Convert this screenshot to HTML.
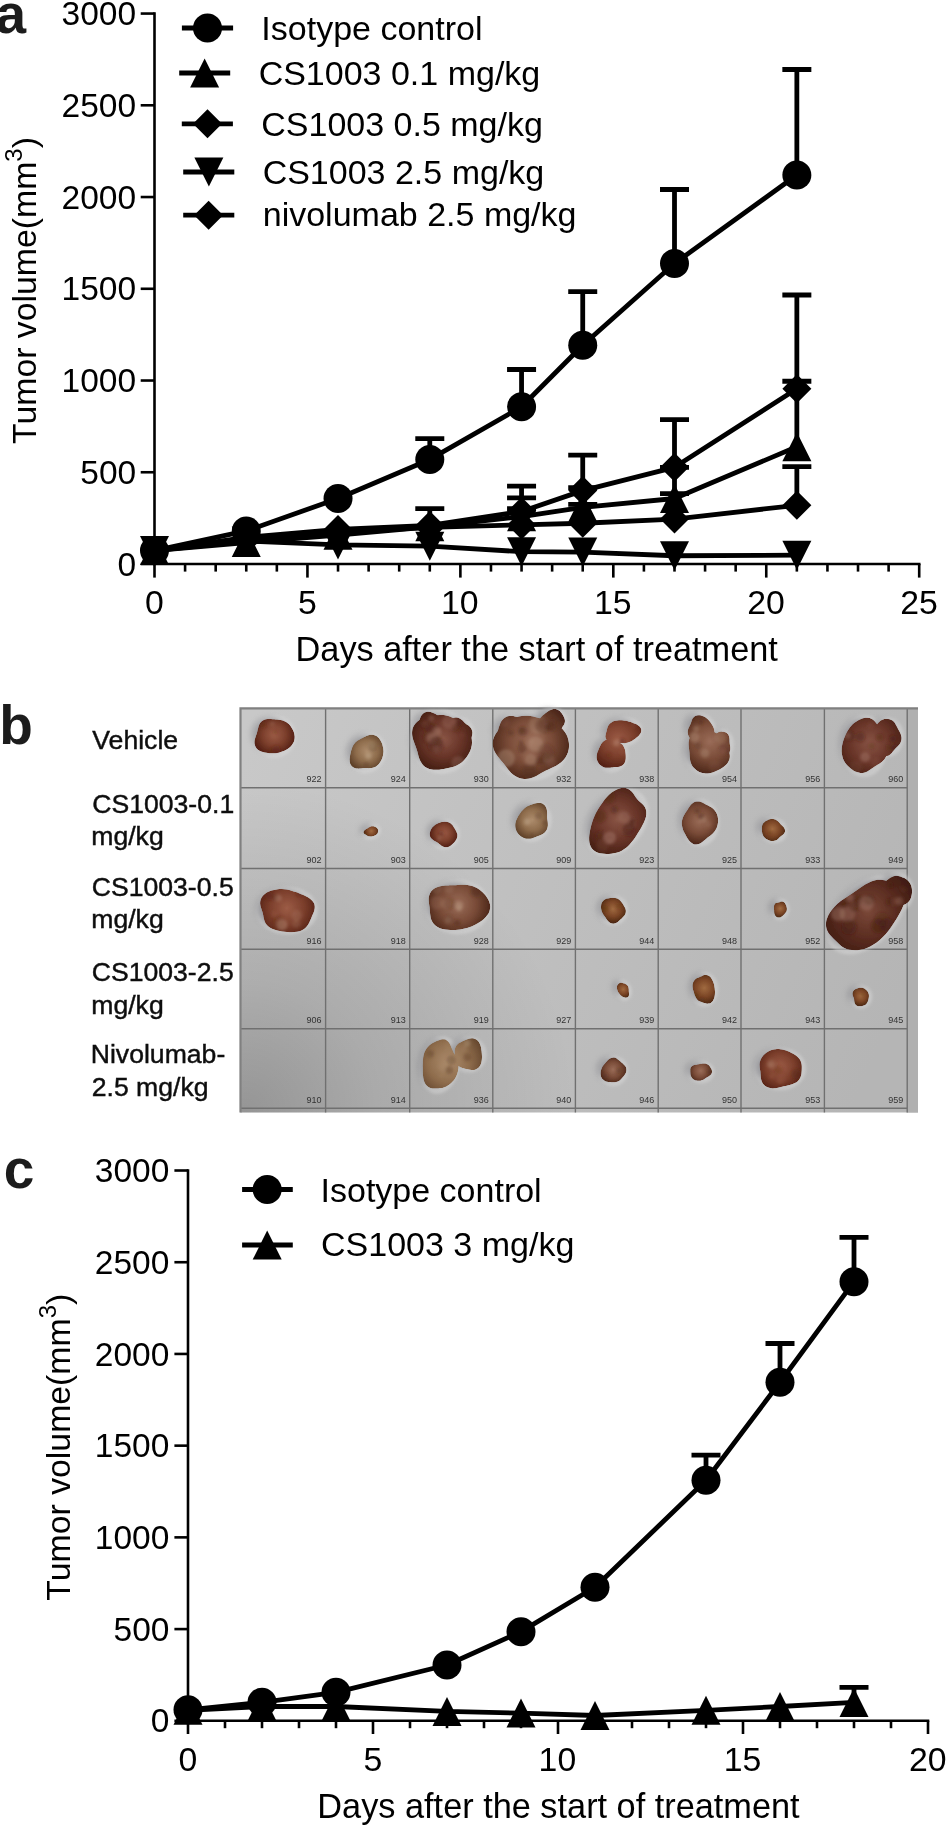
<!DOCTYPE html>
<html><head><meta charset="utf-8"><style>
html,body{margin:0;padding:0;background:#fff;}
svg{display:block;}
text{font-family:"Liberation Sans",sans-serif;}
</style></head><body>
<svg width="946" height="1825" viewBox="0 0 946 1825" style="will-change:transform">
<rect width="946" height="1825" fill="#fff"/>
<defs>
<filter id="bl1" x="-20%" y="-20%" width="140%" height="140%"><feGaussianBlur stdDeviation="0.7"/></filter>
<filter id="bl2" x="-50%" y="-50%" width="200%" height="200%"><feGaussianBlur stdDeviation="1.6"/></filter>
<filter id="bl3" x="-50%" y="-50%" width="200%" height="200%"><feGaussianBlur stdDeviation="3"/></filter>
<linearGradient id="bg" x1="0" y1="0" x2="0.15" y2="1"><stop offset="0" stop-color="#d0d0d0"/><stop offset="1" stop-color="#c4c4c5"/></linearGradient>
<radialGradient id="g0" gradientUnits="userSpaceOnUse" cx="274.2" cy="734.7" r="20.9"><stop offset="0" stop-color="#9c5c46"/><stop offset="0.55" stop-color="#7c3f2c"/><stop offset="1" stop-color="#542014"/></radialGradient>
<radialGradient id="g1" gradientUnits="userSpaceOnUse" cx="366.9" cy="751.1" r="19.8"><stop offset="0" stop-color="#ad8c6c"/><stop offset="0.55" stop-color="#8e6c4c"/><stop offset="1" stop-color="#5e4028"/></radialGradient>
<radialGradient id="g2" gradientUnits="userSpaceOnUse" cx="443.2" cy="738.3" r="33.8"><stop offset="0" stop-color="#885444"/><stop offset="0.55" stop-color="#683428"/><stop offset="1" stop-color="#441e12"/></radialGradient>
<radialGradient id="g3" gradientUnits="userSpaceOnUse" cx="530.5" cy="741.8" r="39.6"><stop offset="0" stop-color="#9a6c58"/><stop offset="0.55" stop-color="#7a4c38"/><stop offset="1" stop-color="#4e281a"/></radialGradient>
<radialGradient id="g4" gradientUnits="userSpaceOnUse" cx="617.9" cy="739.8" r="30.0"><stop offset="0" stop-color="#9c5c46"/><stop offset="0.55" stop-color="#7c3f2c"/><stop offset="1" stop-color="#542014"/></radialGradient>
<radialGradient id="g5" gradientUnits="userSpaceOnUse" cx="710.0" cy="741.4" r="31.9"><stop offset="0" stop-color="#9a6c58"/><stop offset="0.55" stop-color="#7a4c38"/><stop offset="1" stop-color="#4e281a"/></radialGradient>
<radialGradient id="g6" gradientUnits="userSpaceOnUse" cx="870.0" cy="743.0" r="37.4"><stop offset="0" stop-color="#885444"/><stop offset="0.55" stop-color="#683428"/><stop offset="1" stop-color="#441e12"/></radialGradient>
<radialGradient id="g7" gradientUnits="userSpaceOnUse" cx="371.3" cy="830.9" r="7.7"><stop offset="0" stop-color="#a06a40"/><stop offset="0.55" stop-color="#7c4626"/><stop offset="1" stop-color="#4e2812"/></radialGradient>
<radialGradient id="g8" gradientUnits="userSpaceOnUse" cx="444.0" cy="833.0" r="14.3"><stop offset="0" stop-color="#9c5c46"/><stop offset="0.55" stop-color="#7c3f2c"/><stop offset="1" stop-color="#542014"/></radialGradient>
<radialGradient id="g9" gradientUnits="userSpaceOnUse" cx="532.4" cy="819.8" r="19.8"><stop offset="0" stop-color="#ad8c6c"/><stop offset="0.55" stop-color="#8e6c4c"/><stop offset="1" stop-color="#5e4028"/></radialGradient>
<radialGradient id="g10" gradientUnits="userSpaceOnUse" cx="616.9" cy="819.4" r="38.5"><stop offset="0" stop-color="#885444"/><stop offset="0.55" stop-color="#683428"/><stop offset="1" stop-color="#441e12"/></radialGradient>
<radialGradient id="g11" gradientUnits="userSpaceOnUse" cx="699.5" cy="820.7" r="23.1"><stop offset="0" stop-color="#9a6c58"/><stop offset="0.55" stop-color="#7a4c38"/><stop offset="1" stop-color="#4e281a"/></radialGradient>
<radialGradient id="g12" gradientUnits="userSpaceOnUse" cx="772.6" cy="828.9" r="13.2"><stop offset="0" stop-color="#a06a40"/><stop offset="0.55" stop-color="#7c4626"/><stop offset="1" stop-color="#4e2812"/></radialGradient>
<radialGradient id="g13" gradientUnits="userSpaceOnUse" cx="286.9" cy="908.0" r="30.8"><stop offset="0" stop-color="#9c5c46"/><stop offset="0.55" stop-color="#7c3f2c"/><stop offset="1" stop-color="#542014"/></radialGradient>
<radialGradient id="g14" gradientUnits="userSpaceOnUse" cx="457.8" cy="904.2" r="32.5"><stop offset="0" stop-color="#9a6c58"/><stop offset="0.55" stop-color="#7a4c38"/><stop offset="1" stop-color="#4e281a"/></radialGradient>
<radialGradient id="g15" gradientUnits="userSpaceOnUse" cx="613.2" cy="908.9" r="13.8"><stop offset="0" stop-color="#a06a40"/><stop offset="0.55" stop-color="#7c4626"/><stop offset="1" stop-color="#4e2812"/></radialGradient>
<radialGradient id="g16" gradientUnits="userSpaceOnUse" cx="780.1" cy="908.6" r="8.8"><stop offset="0" stop-color="#a06a40"/><stop offset="0.55" stop-color="#7c4626"/><stop offset="1" stop-color="#4e2812"/></radialGradient>
<radialGradient id="g17" gradientUnits="userSpaceOnUse" cx="868.0" cy="911.0" r="50.6"><stop offset="0" stop-color="#7a4838"/><stop offset="0.55" stop-color="#5a2c20"/><stop offset="1" stop-color="#3e1a10"/></radialGradient>
<radialGradient id="g18" gradientUnits="userSpaceOnUse" cx="623.3" cy="989.3" r="8.8"><stop offset="0" stop-color="#a06a40"/><stop offset="0.55" stop-color="#7c4626"/><stop offset="1" stop-color="#4e2812"/></radialGradient>
<radialGradient id="g19" gradientUnits="userSpaceOnUse" cx="704.3" cy="988.0" r="16.0"><stop offset="0" stop-color="#a06a40"/><stop offset="0.55" stop-color="#7c4626"/><stop offset="1" stop-color="#4e2812"/></radialGradient>
<radialGradient id="g20" gradientUnits="userSpaceOnUse" cx="860.8" cy="996.0" r="9.9"><stop offset="0" stop-color="#a06a40"/><stop offset="0.55" stop-color="#7c4626"/><stop offset="1" stop-color="#4e2812"/></radialGradient>
<radialGradient id="g21" gradientUnits="userSpaceOnUse" cx="448.6" cy="1061.9" r="38.6"><stop offset="0" stop-color="#ad8c6c"/><stop offset="0.55" stop-color="#8e6c4c"/><stop offset="1" stop-color="#5e4028"/></radialGradient>
<radialGradient id="g22" gradientUnits="userSpaceOnUse" cx="613.2" cy="1069.6" r="13.8"><stop offset="0" stop-color="#9a6c58"/><stop offset="0.55" stop-color="#7a4c38"/><stop offset="1" stop-color="#4e281a"/></radialGradient>
<radialGradient id="g23" gradientUnits="userSpaceOnUse" cx="700.6" cy="1070.8" r="12.1"><stop offset="0" stop-color="#9a6c58"/><stop offset="0.55" stop-color="#7a4c38"/><stop offset="1" stop-color="#4e281a"/></radialGradient>
<radialGradient id="g24" gradientUnits="userSpaceOnUse" cx="780.1" cy="1066.8" r="25.3"><stop offset="0" stop-color="#9c5c46"/><stop offset="0.55" stop-color="#7c3f2c"/><stop offset="1" stop-color="#542014"/></radialGradient>
</defs>
<linearGradient id="bgv" gradientUnits="userSpaceOnUse" x1="260" y1="720" x2="900" y2="1000"><stop offset="0" stop-color="#c8c8c8"/><stop offset="1" stop-color="#b5b5b5"/></linearGradient>
<radialGradient id="vig" gradientUnits="userSpaceOnUse" cx="245" cy="1112" r="330"><stop offset="0" stop-color="#000" stop-opacity="0.24"/><stop offset="0.4" stop-color="#000" stop-opacity="0.12"/><stop offset="1" stop-color="#000" stop-opacity="0"/></radialGradient>
<rect x="240.5" y="708.3" width="677.5" height="404.20000000000005" fill="url(#bgv)"/>
<rect x="907.2" y="708.3" width="10.799999999999955" height="404.20000000000005" fill="#b0b0b0"/>
<rect x="240.5" y="708.3" width="677.5" height="404.20000000000005" fill="url(#vig)"/>
<path d="M243.0 710.3V1110.5" stroke="#ffffff" stroke-opacity="0.35" stroke-width="2" filter="url(#bl1)"/>
<path d="M325.6 708.3V1112.5 M409.7 708.3V1112.5 M492.8 708.3V1112.5 M575.4 708.3V1112.5 M658.2 708.3V1112.5 M741.0 708.3V1112.5 M824.4 708.3V1112.5 M907.2 708.3V1112.5 M240.5 787.7H907.2 M240.5 868.5H907.2 M240.5 949.2H907.2 M240.5 1028.8H907.2 M240.5 1108.3H907.2" stroke="#707070" stroke-width="1.4" fill="none" filter="url(#bl1)"/>
<path d="M240.5 1112.5V708.3H918.0" fill="none" stroke="#808080" stroke-width="2.2" filter="url(#bl1)"/>
<path d="M240.5 1111.5H918.0" fill="none" stroke="#8a8a8a" stroke-width="2.5" filter="url(#bl1)"/>
<g font-size="9" fill="#333" text-anchor="end" filter="url(#bl1)">
<text x="321.6" y="782.2">922</text>
<text x="405.7" y="782.2">924</text>
<text x="488.8" y="782.2">930</text>
<text x="571.4" y="782.2">932</text>
<text x="654.2" y="782.2">938</text>
<text x="737.0" y="782.2">954</text>
<text x="820.4" y="782.2">956</text>
<text x="903.2" y="782.2">960</text>
<text x="321.6" y="863.0">902</text>
<text x="405.7" y="863.0">903</text>
<text x="488.8" y="863.0">905</text>
<text x="571.4" y="863.0">909</text>
<text x="654.2" y="863.0">923</text>
<text x="737.0" y="863.0">925</text>
<text x="820.4" y="863.0">933</text>
<text x="903.2" y="863.0">949</text>
<text x="321.6" y="943.7">916</text>
<text x="405.7" y="943.7">918</text>
<text x="488.8" y="943.7">928</text>
<text x="571.4" y="943.7">929</text>
<text x="654.2" y="943.7">944</text>
<text x="737.0" y="943.7">948</text>
<text x="820.4" y="943.7">952</text>
<text x="903.2" y="943.7">958</text>
<text x="321.6" y="1023.3">906</text>
<text x="405.7" y="1023.3">913</text>
<text x="488.8" y="1023.3">919</text>
<text x="571.4" y="1023.3">927</text>
<text x="654.2" y="1023.3">939</text>
<text x="737.0" y="1023.3">942</text>
<text x="820.4" y="1023.3">943</text>
<text x="903.2" y="1023.3">945</text>
<text x="321.6" y="1102.8">910</text>
<text x="405.7" y="1102.8">914</text>
<text x="488.8" y="1102.8">936</text>
<text x="571.4" y="1102.8">940</text>
<text x="654.2" y="1102.8">946</text>
<text x="737.0" y="1102.8">950</text>
<text x="820.4" y="1102.8">953</text>
<text x="903.2" y="1102.8">959</text>
</g>
<g fill="#dedede" opacity="0.45" filter="url(#bl2)"><ellipse cx="274.2" cy="736.4" rx="22.0" ry="21.5" transform="rotate(0 274.2 736.4)"/></g>
<g fill="#7a7a80" opacity="0.6" filter="url(#bl3)"><ellipse cx="269.2" cy="734.4" rx="17.1" ry="16.7" transform="rotate(0 269.2 734.4)"/></g>
<clipPath id="c0"><path d="M294.7 736.4C294.7 737.5 294.7 738.7 294.4 739.9C294.2 741.0 293.7 742.1 293.2 743.1C292.7 744.1 291.9 745.1 291.2 745.9C290.4 746.8 289.5 747.5 288.6 748.2C287.7 748.8 286.8 749.4 285.8 749.9C284.9 750.4 284.0 750.9 283.0 751.3C282.1 751.7 281.1 752.0 280.1 752.3C279.2 752.6 278.2 752.8 277.2 753.0C276.2 753.1 275.2 753.2 274.2 753.3C273.2 753.3 272.2 753.3 271.1 753.3C270.1 753.2 269.1 753.2 268.0 753.0C266.9 752.9 265.8 752.8 264.6 752.6C263.5 752.3 262.3 752.0 261.1 751.6C260.0 751.1 258.9 750.5 257.9 749.7C257.0 748.9 256.1 747.9 255.6 746.9C255.0 745.8 254.7 744.6 254.5 743.4C254.4 742.2 254.5 740.9 254.7 739.7C254.9 738.6 255.4 737.5 255.7 736.4C256.0 735.3 256.4 734.4 256.8 733.4C257.1 732.4 257.3 731.5 257.5 730.5C257.8 729.5 257.9 728.5 258.3 727.4C258.6 726.4 258.9 725.3 259.4 724.3C260.0 723.4 260.6 722.4 261.5 721.6C262.3 720.9 263.3 720.2 264.4 719.8C265.4 719.4 266.6 719.2 267.7 719.0C268.8 718.9 270.0 719.0 271.1 719.0C272.1 719.1 273.2 719.2 274.2 719.3C275.2 719.4 276.2 719.5 277.2 719.6C278.3 719.7 279.3 719.8 280.3 720.0C281.4 720.2 282.5 720.4 283.5 720.7C284.5 721.1 285.5 721.6 286.5 722.2C287.4 722.8 288.3 723.5 289.1 724.3C289.8 725.0 290.6 725.9 291.2 726.9C291.8 727.8 292.4 728.8 292.8 729.8C293.3 730.8 293.8 731.9 294.1 733.0C294.4 734.1 294.6 735.3 294.7 736.4Z"/></clipPath>
<g filter="url(#bl1)"><g clip-path="url(#c0)">
<path d="M294.7 736.4C294.7 737.5 294.7 738.7 294.4 739.9C294.2 741.0 293.7 742.1 293.2 743.1C292.7 744.1 291.9 745.1 291.2 745.9C290.4 746.8 289.5 747.5 288.6 748.2C287.7 748.8 286.8 749.4 285.8 749.9C284.9 750.4 284.0 750.9 283.0 751.3C282.1 751.7 281.1 752.0 280.1 752.3C279.2 752.6 278.2 752.8 277.2 753.0C276.2 753.1 275.2 753.2 274.2 753.3C273.2 753.3 272.2 753.3 271.1 753.3C270.1 753.2 269.1 753.2 268.0 753.0C266.9 752.9 265.8 752.8 264.6 752.6C263.5 752.3 262.3 752.0 261.1 751.6C260.0 751.1 258.9 750.5 257.9 749.7C257.0 748.9 256.1 747.9 255.6 746.9C255.0 745.8 254.7 744.6 254.5 743.4C254.4 742.2 254.5 740.9 254.7 739.7C254.9 738.6 255.4 737.5 255.7 736.4C256.0 735.3 256.4 734.4 256.8 733.4C257.1 732.4 257.3 731.5 257.5 730.5C257.8 729.5 257.9 728.5 258.3 727.4C258.6 726.4 258.9 725.3 259.4 724.3C260.0 723.4 260.6 722.4 261.5 721.6C262.3 720.9 263.3 720.2 264.4 719.8C265.4 719.4 266.6 719.2 267.7 719.0C268.8 718.9 270.0 719.0 271.1 719.0C272.1 719.1 273.2 719.2 274.2 719.3C275.2 719.4 276.2 719.5 277.2 719.6C278.3 719.7 279.3 719.8 280.3 720.0C281.4 720.2 282.5 720.4 283.5 720.7C284.5 721.1 285.5 721.6 286.5 722.2C287.4 722.8 288.3 723.5 289.1 724.3C289.8 725.0 290.6 725.9 291.2 726.9C291.8 727.8 292.4 728.8 292.8 729.8C293.3 730.8 293.8 731.9 294.1 733.0C294.4 734.1 294.6 735.3 294.7 736.4Z" fill="url(#g0)"/>
<g filter="url(#bl2)">
<circle cx="275.3" cy="732.4" r="2.4" fill="#542014" opacity="0.21"/>
<circle cx="272.2" cy="723.7" r="2.5" fill="#caa690" opacity="0.16"/>
<circle cx="276.2" cy="749.6" r="4.3" fill="#542014" opacity="0.34"/>
<circle cx="271.1" cy="750.5" r="2.4" fill="#542014" opacity="0.27"/>
<circle cx="263.4" cy="725.1" r="3.2" fill="#542014" opacity="0.23"/>
</g>
</g></g>
<g fill="#dedede" opacity="0.45" filter="url(#bl2)"><ellipse cx="366.9" cy="752.7" rx="19.0" ry="21.0" transform="rotate(30 366.9 752.7)"/></g>
<g fill="#7a7a80" opacity="0.6" filter="url(#bl3)"><ellipse cx="361.9" cy="750.7" rx="14.4" ry="16.2" transform="rotate(30 361.9 750.7)"/></g>
<clipPath id="c1"><path d="M381.0 760.8C380.5 761.8 379.9 762.7 379.2 763.5C378.6 764.3 377.8 765.1 377.0 765.7C376.2 766.4 375.3 766.9 374.3 767.3C373.4 767.7 372.4 767.9 371.5 768.1C370.6 768.2 369.6 768.2 368.7 768.2C367.8 768.2 367.0 768.1 366.1 768.1C365.3 768.1 364.5 768.1 363.6 768.1C362.7 768.2 361.8 768.4 360.8 768.5C359.8 768.5 358.8 768.7 357.7 768.6C356.7 768.5 355.5 768.4 354.5 768.0C353.5 767.6 352.6 767.1 351.8 766.3C351.1 765.5 350.5 764.5 350.1 763.5C349.8 762.5 349.6 761.3 349.6 760.1C349.5 759.0 349.7 757.8 349.9 756.7C350.0 755.6 350.3 754.6 350.5 753.6C350.7 752.5 351.0 751.6 351.2 750.6C351.5 749.6 351.8 748.6 352.1 747.7C352.5 746.7 352.9 745.8 353.4 744.9C354.0 744.1 354.6 743.2 355.3 742.5C356.0 741.8 356.8 741.2 357.6 740.6C358.4 740.1 359.2 739.6 360.0 739.2C360.8 738.7 361.6 738.3 362.5 737.9C363.3 737.5 364.1 737.1 365.0 736.7C365.9 736.2 366.8 735.8 367.8 735.5C368.7 735.2 369.7 734.8 370.7 734.7C371.7 734.6 372.8 734.7 373.8 734.9C374.7 735.1 375.7 735.5 376.5 736.0C377.4 736.5 378.1 737.2 378.8 738.0C379.5 738.7 380.0 739.6 380.5 740.4C381.0 741.3 381.4 742.2 381.8 743.1C382.2 744.0 382.5 744.9 382.7 745.9C383.0 746.8 383.2 747.8 383.3 748.8C383.4 749.8 383.5 750.8 383.5 751.8C383.4 752.8 383.3 753.9 383.1 754.9C382.9 755.9 382.6 756.9 382.3 757.9C381.9 758.9 381.5 759.9 381.0 760.8Z"/></clipPath>
<g filter="url(#bl1)"><g clip-path="url(#c1)">
<path d="M381.0 760.8C380.5 761.8 379.9 762.7 379.2 763.5C378.6 764.3 377.8 765.1 377.0 765.7C376.2 766.4 375.3 766.9 374.3 767.3C373.4 767.7 372.4 767.9 371.5 768.1C370.6 768.2 369.6 768.2 368.7 768.2C367.8 768.2 367.0 768.1 366.1 768.1C365.3 768.1 364.5 768.1 363.6 768.1C362.7 768.2 361.8 768.4 360.8 768.5C359.8 768.5 358.8 768.7 357.7 768.6C356.7 768.5 355.5 768.4 354.5 768.0C353.5 767.6 352.6 767.1 351.8 766.3C351.1 765.5 350.5 764.5 350.1 763.5C349.8 762.5 349.6 761.3 349.6 760.1C349.5 759.0 349.7 757.8 349.9 756.7C350.0 755.6 350.3 754.6 350.5 753.6C350.7 752.5 351.0 751.6 351.2 750.6C351.5 749.6 351.8 748.6 352.1 747.7C352.5 746.7 352.9 745.8 353.4 744.9C354.0 744.1 354.6 743.2 355.3 742.5C356.0 741.8 356.8 741.2 357.6 740.6C358.4 740.1 359.2 739.6 360.0 739.2C360.8 738.7 361.6 738.3 362.5 737.9C363.3 737.5 364.1 737.1 365.0 736.7C365.9 736.2 366.8 735.8 367.8 735.5C368.7 735.2 369.7 734.8 370.7 734.7C371.7 734.6 372.8 734.7 373.8 734.9C374.7 735.1 375.7 735.5 376.5 736.0C377.4 736.5 378.1 737.2 378.8 738.0C379.5 738.7 380.0 739.6 380.5 740.4C381.0 741.3 381.4 742.2 381.8 743.1C382.2 744.0 382.5 744.9 382.7 745.9C383.0 746.8 383.2 747.8 383.3 748.8C383.4 749.8 383.5 750.8 383.5 751.8C383.4 752.8 383.3 753.9 383.1 754.9C382.9 755.9 382.6 756.9 382.3 757.9C381.9 758.9 381.5 759.9 381.0 760.8Z" fill="url(#g1)"/>
<g filter="url(#bl2)">
<circle cx="368.5" cy="756.1" r="3.3" fill="#d8c4a8" opacity="0.31"/>
<circle cx="366.0" cy="764.9" r="3.0" fill="#5e4028" opacity="0.40"/>
<circle cx="372.0" cy="745.3" r="3.6" fill="#d8c4a8" opacity="0.33"/>
<circle cx="372.8" cy="746.6" r="4.7" fill="#5e4028" opacity="0.33"/>
</g>
</g></g>
<g fill="#dedede" opacity="0.45" filter="url(#bl2)"><ellipse cx="441.5" cy="742.0" rx="31.0" ry="32.0" transform="rotate(0 441.5 742.0)"/><ellipse cx="432.0" cy="726.0" rx="18.0" ry="16.0" transform="rotate(0 432.0 726.0)"/><ellipse cx="458.0" cy="735.0" rx="17.0" ry="19.0" transform="rotate(0 458.0 735.0)"/></g>
<g fill="#7a7a80" opacity="0.6" filter="url(#bl3)"><ellipse cx="436.5" cy="740.0" rx="25.2" ry="26.1" transform="rotate(0 436.5 740.0)"/><ellipse cx="427.0" cy="724.0" rx="13.5" ry="11.7" transform="rotate(0 427.0 724.0)"/><ellipse cx="453.0" cy="733.0" rx="12.6" ry="14.4" transform="rotate(0 453.0 733.0)"/></g>
<clipPath id="c2"><path d="M472.0 742.0C472.1 743.8 471.8 745.7 471.3 747.4C470.9 749.2 470.2 750.9 469.4 752.5C468.7 754.1 467.7 755.7 466.7 757.1C465.7 758.5 464.5 759.8 463.3 760.9C462.0 762.1 460.7 763.1 459.3 764.0C457.9 764.9 456.5 765.6 455.0 766.2C453.5 766.8 452.0 767.2 450.5 767.6C449.0 768.0 447.5 768.2 446.0 768.5C444.5 768.8 443.0 769.0 441.5 769.2C440.0 769.5 438.4 769.7 436.8 769.8C435.2 769.8 433.4 769.9 431.8 769.6C430.2 769.3 428.5 768.8 427.0 768.1C425.5 767.3 424.1 766.2 422.9 764.9C421.8 763.7 420.9 762.1 420.1 760.6C419.4 759.1 418.9 757.4 418.4 755.8C418.0 754.2 417.7 752.7 417.2 751.1C416.8 749.6 416.3 748.2 415.8 746.7C415.2 745.2 414.5 743.7 414.0 742.0C413.4 740.3 412.7 738.5 412.4 736.7C412.1 734.8 411.9 732.8 412.2 730.9C412.4 729.1 413.0 727.1 414.0 725.5C414.9 723.9 416.2 722.4 417.7 721.3C419.1 720.1 420.8 719.2 422.5 718.5C424.1 717.8 425.9 717.4 427.5 717.0C429.2 716.5 430.8 716.3 432.4 716.0C433.9 715.8 435.4 715.5 437.0 715.4C438.5 715.2 440.0 715.0 441.5 715.1C443.0 715.1 444.5 715.2 446.0 715.5C447.5 715.7 449.0 716.2 450.4 716.7C451.8 717.3 453.2 718.0 454.5 718.7C455.8 719.4 457.1 720.3 458.4 721.2C459.7 722.0 461.0 723.0 462.2 724.0C463.5 725.0 464.8 726.1 465.9 727.4C467.1 728.7 468.2 730.1 469.1 731.6C470.0 733.1 470.8 734.8 471.3 736.6C471.8 738.3 472.0 740.2 472.0 742.0Z"/><path d="M446.6 726.0C446.7 726.7 446.8 727.5 446.9 728.3C446.9 729.1 447.0 729.9 446.8 730.7C446.7 731.5 446.5 732.3 446.2 733.1C445.8 733.8 445.3 734.6 444.7 735.2C444.1 735.8 443.3 736.4 442.5 736.8C441.7 737.3 440.8 737.6 439.9 737.8C439.0 738.1 438.1 738.2 437.2 738.4C436.3 738.5 435.4 738.5 434.6 738.5C433.7 738.6 432.8 738.6 432.0 738.5C431.2 738.5 430.3 738.4 429.5 738.3C428.7 738.1 427.9 738.0 427.1 737.7C426.3 737.5 425.5 737.2 424.8 736.9C424.0 736.5 423.3 736.1 422.6 735.7C421.9 735.3 421.3 734.8 420.6 734.3C420.0 733.7 419.4 733.1 419.0 732.5C418.5 731.9 418.1 731.2 417.8 730.5C417.5 729.8 417.3 729.0 417.2 728.3C417.2 727.5 417.3 726.7 417.4 726.0C417.5 725.3 417.8 724.6 418.0 723.9C418.3 723.2 418.6 722.5 418.9 721.9C419.1 721.2 419.4 720.5 419.6 719.8C419.9 719.1 420.1 718.3 420.4 717.6C420.7 716.8 421.1 716.0 421.6 715.3C422.1 714.5 422.7 713.8 423.5 713.2C424.3 712.7 425.2 712.2 426.1 712.0C427.1 711.8 428.1 711.7 429.1 711.8C430.1 711.9 431.1 712.2 432.0 712.5C432.9 712.8 433.7 713.2 434.5 713.6C435.3 714.0 436.0 714.4 436.7 714.8C437.4 715.2 438.1 715.5 438.8 715.8C439.5 716.2 440.2 716.5 440.8 716.9C441.5 717.3 442.2 717.7 442.8 718.2C443.4 718.7 443.9 719.2 444.4 719.8C444.8 720.4 445.1 721.1 445.4 721.8C445.7 722.4 445.9 723.1 446.1 723.8C446.3 724.5 446.5 725.3 446.6 726.0Z"/><path d="M472.2 735.0C472.1 735.9 471.7 736.8 471.4 737.7C471.0 738.5 470.6 739.3 470.3 740.1C469.9 740.9 469.5 741.6 469.2 742.4C468.8 743.2 468.5 743.9 468.1 744.7C467.8 745.5 467.4 746.3 466.9 747.1C466.4 747.9 465.9 748.7 465.2 749.3C464.6 750.0 463.9 750.6 463.1 751.0C462.3 751.5 461.5 751.8 460.6 752.0C459.8 752.3 458.9 752.4 458.0 752.4C457.1 752.3 456.2 752.2 455.4 752.0C454.5 751.8 453.7 751.4 452.9 751.0C452.1 750.6 451.4 750.0 450.7 749.4C450.1 748.7 449.5 748.0 449.0 747.2C448.5 746.5 448.1 745.6 447.8 744.8C447.4 744.0 447.2 743.1 446.9 742.3C446.6 741.5 446.4 740.7 446.2 739.9C445.9 739.1 445.7 738.3 445.5 737.5C445.3 736.7 445.1 735.9 445.0 735.0C444.8 734.1 444.7 733.2 444.7 732.3C444.8 731.4 444.8 730.5 445.0 729.6C445.2 728.7 445.5 727.8 445.8 727.0C446.2 726.1 446.6 725.3 447.1 724.5C447.5 723.7 448.1 723.0 448.6 722.2C449.2 721.5 449.8 720.8 450.5 720.1C451.2 719.5 451.9 718.9 452.7 718.4C453.5 718.0 454.4 717.7 455.3 717.5C456.2 717.4 457.1 717.5 458.0 717.7C458.9 717.9 459.7 718.4 460.5 718.9C461.3 719.4 461.9 720.0 462.6 720.6C463.2 721.2 463.8 721.8 464.4 722.4C465.0 722.9 465.5 723.4 466.1 723.9C466.8 724.4 467.4 724.8 468.1 725.3C468.7 725.9 469.5 726.4 470.0 727.1C470.6 727.7 471.2 728.5 471.6 729.3C472.0 730.2 472.3 731.2 472.4 732.1C472.5 733.0 472.4 734.1 472.2 735.0Z"/></clipPath>
<g filter="url(#bl1)"><g clip-path="url(#c2)">
<path d="M472.0 742.0C472.1 743.8 471.8 745.7 471.3 747.4C470.9 749.2 470.2 750.9 469.4 752.5C468.7 754.1 467.7 755.7 466.7 757.1C465.7 758.5 464.5 759.8 463.3 760.9C462.0 762.1 460.7 763.1 459.3 764.0C457.9 764.9 456.5 765.6 455.0 766.2C453.5 766.8 452.0 767.2 450.5 767.6C449.0 768.0 447.5 768.2 446.0 768.5C444.5 768.8 443.0 769.0 441.5 769.2C440.0 769.5 438.4 769.7 436.8 769.8C435.2 769.8 433.4 769.9 431.8 769.6C430.2 769.3 428.5 768.8 427.0 768.1C425.5 767.3 424.1 766.2 422.9 764.9C421.8 763.7 420.9 762.1 420.1 760.6C419.4 759.1 418.9 757.4 418.4 755.8C418.0 754.2 417.7 752.7 417.2 751.1C416.8 749.6 416.3 748.2 415.8 746.7C415.2 745.2 414.5 743.7 414.0 742.0C413.4 740.3 412.7 738.5 412.4 736.7C412.1 734.8 411.9 732.8 412.2 730.9C412.4 729.1 413.0 727.1 414.0 725.5C414.9 723.9 416.2 722.4 417.7 721.3C419.1 720.1 420.8 719.2 422.5 718.5C424.1 717.8 425.9 717.4 427.5 717.0C429.2 716.5 430.8 716.3 432.4 716.0C433.9 715.8 435.4 715.5 437.0 715.4C438.5 715.2 440.0 715.0 441.5 715.1C443.0 715.1 444.5 715.2 446.0 715.5C447.5 715.7 449.0 716.2 450.4 716.7C451.8 717.3 453.2 718.0 454.5 718.7C455.8 719.4 457.1 720.3 458.4 721.2C459.7 722.0 461.0 723.0 462.2 724.0C463.5 725.0 464.8 726.1 465.9 727.4C467.1 728.7 468.2 730.1 469.1 731.6C470.0 733.1 470.8 734.8 471.3 736.6C471.8 738.3 472.0 740.2 472.0 742.0Z" fill="url(#g2)"/><path d="M446.6 726.0C446.7 726.7 446.8 727.5 446.9 728.3C446.9 729.1 447.0 729.9 446.8 730.7C446.7 731.5 446.5 732.3 446.2 733.1C445.8 733.8 445.3 734.6 444.7 735.2C444.1 735.8 443.3 736.4 442.5 736.8C441.7 737.3 440.8 737.6 439.9 737.8C439.0 738.1 438.1 738.2 437.2 738.4C436.3 738.5 435.4 738.5 434.6 738.5C433.7 738.6 432.8 738.6 432.0 738.5C431.2 738.5 430.3 738.4 429.5 738.3C428.7 738.1 427.9 738.0 427.1 737.7C426.3 737.5 425.5 737.2 424.8 736.9C424.0 736.5 423.3 736.1 422.6 735.7C421.9 735.3 421.3 734.8 420.6 734.3C420.0 733.7 419.4 733.1 419.0 732.5C418.5 731.9 418.1 731.2 417.8 730.5C417.5 729.8 417.3 729.0 417.2 728.3C417.2 727.5 417.3 726.7 417.4 726.0C417.5 725.3 417.8 724.6 418.0 723.9C418.3 723.2 418.6 722.5 418.9 721.9C419.1 721.2 419.4 720.5 419.6 719.8C419.9 719.1 420.1 718.3 420.4 717.6C420.7 716.8 421.1 716.0 421.6 715.3C422.1 714.5 422.7 713.8 423.5 713.2C424.3 712.7 425.2 712.2 426.1 712.0C427.1 711.8 428.1 711.7 429.1 711.8C430.1 711.9 431.1 712.2 432.0 712.5C432.9 712.8 433.7 713.2 434.5 713.6C435.3 714.0 436.0 714.4 436.7 714.8C437.4 715.2 438.1 715.5 438.8 715.8C439.5 716.2 440.2 716.5 440.8 716.9C441.5 717.3 442.2 717.7 442.8 718.2C443.4 718.7 443.9 719.2 444.4 719.8C444.8 720.4 445.1 721.1 445.4 721.8C445.7 722.4 445.9 723.1 446.1 723.8C446.3 724.5 446.5 725.3 446.6 726.0Z" fill="url(#g2)"/><path d="M472.2 735.0C472.1 735.9 471.7 736.8 471.4 737.7C471.0 738.5 470.6 739.3 470.3 740.1C469.9 740.9 469.5 741.6 469.2 742.4C468.8 743.2 468.5 743.9 468.1 744.7C467.8 745.5 467.4 746.3 466.9 747.1C466.4 747.9 465.9 748.7 465.2 749.3C464.6 750.0 463.9 750.6 463.1 751.0C462.3 751.5 461.5 751.8 460.6 752.0C459.8 752.3 458.9 752.4 458.0 752.4C457.1 752.3 456.2 752.2 455.4 752.0C454.5 751.8 453.7 751.4 452.9 751.0C452.1 750.6 451.4 750.0 450.7 749.4C450.1 748.7 449.5 748.0 449.0 747.2C448.5 746.5 448.1 745.6 447.8 744.8C447.4 744.0 447.2 743.1 446.9 742.3C446.6 741.5 446.4 740.7 446.2 739.9C445.9 739.1 445.7 738.3 445.5 737.5C445.3 736.7 445.1 735.9 445.0 735.0C444.8 734.1 444.7 733.2 444.7 732.3C444.8 731.4 444.8 730.5 445.0 729.6C445.2 728.7 445.5 727.8 445.8 727.0C446.2 726.1 446.6 725.3 447.1 724.5C447.5 723.7 448.1 723.0 448.6 722.2C449.2 721.5 449.8 720.8 450.5 720.1C451.2 719.5 451.9 718.9 452.7 718.4C453.5 718.0 454.4 717.7 455.3 717.5C456.2 717.4 457.1 717.5 458.0 717.7C458.9 717.9 459.7 718.4 460.5 718.9C461.3 719.4 461.9 720.0 462.6 720.6C463.2 721.2 463.8 721.8 464.4 722.4C465.0 722.9 465.5 723.4 466.1 723.9C466.8 724.4 467.4 724.8 468.1 725.3C468.7 725.9 469.5 726.4 470.0 727.1C470.6 727.7 471.2 728.5 471.6 729.3C472.0 730.2 472.3 731.2 472.4 732.1C472.5 733.0 472.4 734.1 472.2 735.0Z" fill="url(#g2)"/>
<g filter="url(#bl2)">
<circle cx="454.8" cy="722.0" r="3.8" fill="#885444" opacity="0.24"/>
<circle cx="448.9" cy="721.6" r="6.9" fill="#c09888" opacity="0.21"/>
<circle cx="436.4" cy="749.8" r="3.5" fill="#c09888" opacity="0.22"/>
<circle cx="446.5" cy="741.7" r="4.5" fill="#885444" opacity="0.18"/>
<circle cx="430.2" cy="736.9" r="7.8" fill="#441e12" opacity="0.24"/>
<circle cx="437.1" cy="731.7" r="4.1" fill="#c09888" opacity="0.32"/>
<circle cx="431.6" cy="738.1" r="5.2" fill="#c09888" opacity="0.34"/>
<circle cx="425.9" cy="727.0" r="4.5" fill="#441e12" opacity="0.20"/>
<circle cx="456.3" cy="727.3" r="4.8" fill="#441e12" opacity="0.30"/>
<circle cx="435.6" cy="745.1" r="8.2" fill="#441e12" opacity="0.31"/>
<circle cx="458.1" cy="763.0" r="6.8" fill="#c09888" opacity="0.23"/>
<circle cx="436.8" cy="741.1" r="5.4" fill="#441e12" opacity="0.22"/>
<circle cx="428.5" cy="726.3" r="5.1" fill="#441e12" opacity="0.23"/>
<circle cx="433.6" cy="726.8" r="3.8" fill="#441e12" opacity="0.22"/>
<circle cx="425.0" cy="723.4" r="3.0" fill="#885444" opacity="0.27"/>
<circle cx="431.4" cy="718.0" r="2.7" fill="#c09888" opacity="0.25"/>
<circle cx="453.8" cy="725.9" r="3.6" fill="#885444" opacity="0.25"/>
<circle cx="462.3" cy="735.4" r="2.2" fill="#885444" opacity="0.18"/>
<circle cx="459.0" cy="722.9" r="3.0" fill="#441e12" opacity="0.37"/>
</g>
</g></g>
<g fill="#dedede" opacity="0.45" filter="url(#bl2)"><ellipse cx="530.5" cy="746.0" rx="38.0" ry="35.0" transform="rotate(0 530.5 746.0)"/><ellipse cx="552.0" cy="722.0" rx="16.0" ry="15.0" transform="rotate(0 552.0 722.0)"/><ellipse cx="512.0" cy="732.0" rx="18.0" ry="18.0" transform="rotate(0 512.0 732.0)"/></g>
<g fill="#7a7a80" opacity="0.6" filter="url(#bl3)"><ellipse cx="525.5" cy="744.0" rx="31.5" ry="28.8" transform="rotate(0 525.5 744.0)"/><ellipse cx="547.0" cy="720.0" rx="11.7" ry="10.8" transform="rotate(0 547.0 720.0)"/><ellipse cx="507.0" cy="730.0" rx="13.5" ry="13.5" transform="rotate(0 507.0 730.0)"/></g>
<clipPath id="c3"><path d="M569.1 746.0C569.0 748.0 568.7 750.1 568.1 752.1C567.5 754.0 566.6 755.9 565.5 757.6C564.3 759.3 562.8 760.9 561.3 762.3C559.7 763.6 557.9 764.7 556.2 765.7C554.5 766.7 552.6 767.4 550.9 768.2C549.2 769.0 547.6 769.7 546.0 770.5C544.4 771.3 542.9 772.1 541.3 773.0C539.6 773.9 538.1 775.0 536.3 775.9C534.5 776.7 532.5 777.7 530.5 778.2C528.5 778.8 526.2 779.1 524.1 779.0C522.0 778.9 519.8 778.4 517.9 777.6C516.0 776.8 514.2 775.6 512.6 774.3C511.1 773.0 509.8 771.4 508.6 769.9C507.3 768.4 506.3 766.9 505.2 765.4C504.0 764.0 502.9 762.6 501.7 761.2C500.5 759.8 499.2 758.4 498.0 756.8C496.8 755.2 495.5 753.6 494.7 751.8C493.8 750.0 493.1 748.0 492.8 746.0C492.5 744.0 492.6 741.9 493.0 740.0C493.5 738.0 494.4 736.1 495.4 734.3C496.4 732.6 497.7 730.9 499.1 729.4C500.4 727.9 501.9 726.5 503.4 725.2C504.9 723.9 506.5 722.7 508.1 721.6C509.7 720.5 511.4 719.4 513.2 718.6C515.0 717.8 516.9 717.0 518.8 716.5C520.7 716.1 522.7 715.8 524.7 715.7C526.6 715.7 528.6 715.9 530.5 716.1C532.4 716.4 534.2 716.9 536.0 717.3C537.8 717.7 539.6 718.2 541.4 718.7C543.1 719.2 544.9 719.7 546.7 720.3C548.5 720.9 550.4 721.5 552.3 722.3C554.1 723.1 556.0 724.0 557.7 725.1C559.4 726.3 561.1 727.6 562.5 729.1C563.9 730.6 565.2 732.3 566.2 734.1C567.2 735.9 567.9 737.9 568.4 739.9C568.9 741.9 569.1 744.0 569.1 746.0Z"/><path d="M564.9 722.0C564.8 722.7 564.6 723.4 564.3 724.0C564.0 724.6 563.7 725.2 563.3 725.8C562.9 726.4 562.5 726.9 562.2 727.4C561.8 728.0 561.5 728.5 561.1 729.0C560.7 729.6 560.4 730.2 560.0 730.8C559.6 731.4 559.1 732.0 558.6 732.5C558.0 733.0 557.4 733.6 556.7 733.9C556.0 734.2 555.2 734.5 554.4 734.6C553.6 734.7 552.8 734.6 552.0 734.5C551.2 734.3 550.5 734.0 549.8 733.8C549.0 733.5 548.4 733.2 547.7 732.9C547.0 732.6 546.4 732.3 545.7 732.0C545.1 731.7 544.4 731.4 543.7 731.1C543.0 730.8 542.3 730.4 541.7 730.0C541.0 729.6 540.4 729.0 539.9 728.5C539.4 727.9 538.9 727.2 538.7 726.5C538.4 725.8 538.2 725.0 538.2 724.2C538.2 723.5 538.3 722.7 538.4 722.0C538.6 721.3 538.9 720.6 539.2 719.9C539.5 719.3 539.9 718.6 540.3 718.1C540.7 717.5 541.1 717.0 541.6 716.5C542.1 716.0 542.6 715.5 543.1 715.1C543.6 714.6 544.1 714.3 544.6 713.9C545.1 713.5 545.6 713.1 546.2 712.7C546.7 712.3 547.3 711.9 547.9 711.5C548.5 711.1 549.1 710.7 549.8 710.3C550.5 710.0 551.2 709.6 552.0 709.4C552.8 709.2 553.6 709.1 554.5 709.1C555.3 709.1 556.2 709.2 556.9 709.5C557.7 709.8 558.4 710.2 559.1 710.6C559.8 711.1 560.3 711.7 560.8 712.3C561.4 712.8 561.8 713.5 562.2 714.1C562.7 714.7 563.0 715.3 563.4 715.9C563.7 716.6 564.1 717.2 564.3 717.9C564.6 718.5 564.8 719.2 564.9 719.9C565.0 720.6 565.0 721.3 564.9 722.0Z"/><path d="M525.3 732.0C525.6 732.8 526.0 733.6 526.2 734.5C526.4 735.4 526.7 736.4 526.7 737.3C526.7 738.3 526.6 739.3 526.3 740.2C526.0 741.1 525.4 742.0 524.8 742.7C524.1 743.4 523.3 744.0 522.4 744.4C521.6 744.9 520.6 745.1 519.7 745.4C518.8 745.6 517.9 745.7 517.1 745.9C516.2 746.1 515.4 746.2 514.5 746.4C513.7 746.5 512.9 746.7 512.0 746.8C511.1 746.9 510.2 747.0 509.4 747.0C508.5 747.0 507.5 746.9 506.7 746.6C505.8 746.4 505.0 746.0 504.2 745.5C503.4 745.0 502.7 744.4 502.1 743.8C501.5 743.1 501.0 742.4 500.5 741.7C500.0 740.9 499.6 740.2 499.2 739.4C498.9 738.6 498.6 737.8 498.4 737.0C498.1 736.1 498.0 735.3 497.9 734.5C497.8 733.7 497.8 732.8 497.8 732.0C497.9 731.2 498.0 730.4 498.2 729.6C498.4 728.8 498.6 728.0 498.8 727.2C499.1 726.4 499.3 725.7 499.7 724.9C500.0 724.1 500.3 723.3 500.7 722.5C501.1 721.8 501.6 721.0 502.1 720.3C502.7 719.5 503.3 718.8 504.1 718.3C504.8 717.7 505.6 717.2 506.5 716.8C507.3 716.5 508.3 716.2 509.2 716.1C510.1 715.9 511.1 715.9 512.0 716.0C512.9 716.0 513.9 716.2 514.8 716.4C515.7 716.6 516.6 716.8 517.4 717.2C518.2 717.5 519.1 718.0 519.8 718.5C520.5 719.0 521.2 719.6 521.8 720.3C522.4 721.0 522.8 721.8 523.2 722.6C523.5 723.4 523.7 724.3 523.9 725.1C524.1 726.0 524.1 726.8 524.2 727.5C524.4 728.3 524.4 729.0 524.6 729.8C524.8 730.5 525.1 731.2 525.3 732.0Z"/></clipPath>
<g filter="url(#bl1)"><g clip-path="url(#c3)">
<path d="M569.1 746.0C569.0 748.0 568.7 750.1 568.1 752.1C567.5 754.0 566.6 755.9 565.5 757.6C564.3 759.3 562.8 760.9 561.3 762.3C559.7 763.6 557.9 764.7 556.2 765.7C554.5 766.7 552.6 767.4 550.9 768.2C549.2 769.0 547.6 769.7 546.0 770.5C544.4 771.3 542.9 772.1 541.3 773.0C539.6 773.9 538.1 775.0 536.3 775.9C534.5 776.7 532.5 777.7 530.5 778.2C528.5 778.8 526.2 779.1 524.1 779.0C522.0 778.9 519.8 778.4 517.9 777.6C516.0 776.8 514.2 775.6 512.6 774.3C511.1 773.0 509.8 771.4 508.6 769.9C507.3 768.4 506.3 766.9 505.2 765.4C504.0 764.0 502.9 762.6 501.7 761.2C500.5 759.8 499.2 758.4 498.0 756.8C496.8 755.2 495.5 753.6 494.7 751.8C493.8 750.0 493.1 748.0 492.8 746.0C492.5 744.0 492.6 741.9 493.0 740.0C493.5 738.0 494.4 736.1 495.4 734.3C496.4 732.6 497.7 730.9 499.1 729.4C500.4 727.9 501.9 726.5 503.4 725.2C504.9 723.9 506.5 722.7 508.1 721.6C509.7 720.5 511.4 719.4 513.2 718.6C515.0 717.8 516.9 717.0 518.8 716.5C520.7 716.1 522.7 715.8 524.7 715.7C526.6 715.7 528.6 715.9 530.5 716.1C532.4 716.4 534.2 716.9 536.0 717.3C537.8 717.7 539.6 718.2 541.4 718.7C543.1 719.2 544.9 719.7 546.7 720.3C548.5 720.9 550.4 721.5 552.3 722.3C554.1 723.1 556.0 724.0 557.7 725.1C559.4 726.3 561.1 727.6 562.5 729.1C563.9 730.6 565.2 732.3 566.2 734.1C567.2 735.9 567.9 737.9 568.4 739.9C568.9 741.9 569.1 744.0 569.1 746.0Z" fill="url(#g3)"/><path d="M564.9 722.0C564.8 722.7 564.6 723.4 564.3 724.0C564.0 724.6 563.7 725.2 563.3 725.8C562.9 726.4 562.5 726.9 562.2 727.4C561.8 728.0 561.5 728.5 561.1 729.0C560.7 729.6 560.4 730.2 560.0 730.8C559.6 731.4 559.1 732.0 558.6 732.5C558.0 733.0 557.4 733.6 556.7 733.9C556.0 734.2 555.2 734.5 554.4 734.6C553.6 734.7 552.8 734.6 552.0 734.5C551.2 734.3 550.5 734.0 549.8 733.8C549.0 733.5 548.4 733.2 547.7 732.9C547.0 732.6 546.4 732.3 545.7 732.0C545.1 731.7 544.4 731.4 543.7 731.1C543.0 730.8 542.3 730.4 541.7 730.0C541.0 729.6 540.4 729.0 539.9 728.5C539.4 727.9 538.9 727.2 538.7 726.5C538.4 725.8 538.2 725.0 538.2 724.2C538.2 723.5 538.3 722.7 538.4 722.0C538.6 721.3 538.9 720.6 539.2 719.9C539.5 719.3 539.9 718.6 540.3 718.1C540.7 717.5 541.1 717.0 541.6 716.5C542.1 716.0 542.6 715.5 543.1 715.1C543.6 714.6 544.1 714.3 544.6 713.9C545.1 713.5 545.6 713.1 546.2 712.7C546.7 712.3 547.3 711.9 547.9 711.5C548.5 711.1 549.1 710.7 549.8 710.3C550.5 710.0 551.2 709.6 552.0 709.4C552.8 709.2 553.6 709.1 554.5 709.1C555.3 709.1 556.2 709.2 556.9 709.5C557.7 709.8 558.4 710.2 559.1 710.6C559.8 711.1 560.3 711.7 560.8 712.3C561.4 712.8 561.8 713.5 562.2 714.1C562.7 714.7 563.0 715.3 563.4 715.9C563.7 716.6 564.1 717.2 564.3 717.9C564.6 718.5 564.8 719.2 564.9 719.9C565.0 720.6 565.0 721.3 564.9 722.0Z" fill="url(#g3)"/><path d="M525.3 732.0C525.6 732.8 526.0 733.6 526.2 734.5C526.4 735.4 526.7 736.4 526.7 737.3C526.7 738.3 526.6 739.3 526.3 740.2C526.0 741.1 525.4 742.0 524.8 742.7C524.1 743.4 523.3 744.0 522.4 744.4C521.6 744.9 520.6 745.1 519.7 745.4C518.8 745.6 517.9 745.7 517.1 745.9C516.2 746.1 515.4 746.2 514.5 746.4C513.7 746.5 512.9 746.7 512.0 746.8C511.1 746.9 510.2 747.0 509.4 747.0C508.5 747.0 507.5 746.9 506.7 746.6C505.8 746.4 505.0 746.0 504.2 745.5C503.4 745.0 502.7 744.4 502.1 743.8C501.5 743.1 501.0 742.4 500.5 741.7C500.0 740.9 499.6 740.2 499.2 739.4C498.9 738.6 498.6 737.8 498.4 737.0C498.1 736.1 498.0 735.3 497.9 734.5C497.8 733.7 497.8 732.8 497.8 732.0C497.9 731.2 498.0 730.4 498.2 729.6C498.4 728.8 498.6 728.0 498.8 727.2C499.1 726.4 499.3 725.7 499.7 724.9C500.0 724.1 500.3 723.3 500.7 722.5C501.1 721.8 501.6 721.0 502.1 720.3C502.7 719.5 503.3 718.8 504.1 718.3C504.8 717.7 505.6 717.2 506.5 716.8C507.3 716.5 508.3 716.2 509.2 716.1C510.1 715.9 511.1 715.9 512.0 716.0C512.9 716.0 513.9 716.2 514.8 716.4C515.7 716.6 516.6 716.8 517.4 717.2C518.2 717.5 519.1 718.0 519.8 718.5C520.5 719.0 521.2 719.6 521.8 720.3C522.4 721.0 522.8 721.8 523.2 722.6C523.5 723.4 523.7 724.3 523.9 725.1C524.1 726.0 524.1 726.8 524.2 727.5C524.4 728.3 524.4 729.0 524.6 729.8C524.8 730.5 525.1 731.2 525.3 732.0Z" fill="url(#g3)"/>
<g filter="url(#bl2)">
<circle cx="548.3" cy="758.3" r="5.1" fill="#c4a890" opacity="0.22"/>
<circle cx="504.1" cy="721.8" r="5.4" fill="#9a6c58" opacity="0.19"/>
<circle cx="536.4" cy="738.0" r="8.5" fill="#9a6c58" opacity="0.34"/>
<circle cx="522.9" cy="731.7" r="5.1" fill="#4e281a" opacity="0.28"/>
<circle cx="529.5" cy="770.8" r="7.4" fill="#4e281a" opacity="0.32"/>
<circle cx="539.1" cy="761.3" r="4.3" fill="#4e281a" opacity="0.43"/>
<circle cx="546.3" cy="758.8" r="6.6" fill="#4e281a" opacity="0.31"/>
<circle cx="538.1" cy="724.8" r="9.3" fill="#c4a890" opacity="0.24"/>
<circle cx="544.1" cy="724.7" r="4.8" fill="#4e281a" opacity="0.21"/>
<circle cx="535.6" cy="744.2" r="7.6" fill="#c4a890" opacity="0.28"/>
<circle cx="522.1" cy="748.5" r="4.6" fill="#4e281a" opacity="0.40"/>
<circle cx="543.2" cy="725.7" r="8.2" fill="#4e281a" opacity="0.31"/>
<circle cx="551.3" cy="762.7" r="5.1" fill="#9a6c58" opacity="0.19"/>
<circle cx="530.6" cy="759.5" r="5.7" fill="#c4a890" opacity="0.32"/>
<circle cx="505.9" cy="758.3" r="9.0" fill="#c4a890" opacity="0.32"/>
<circle cx="551.7" cy="727.1" r="4.7" fill="#4e281a" opacity="0.42"/>
<circle cx="546.0" cy="751.6" r="8.3" fill="#4e281a" opacity="0.24"/>
<circle cx="529.0" cy="757.5" r="7.0" fill="#9a6c58" opacity="0.29"/>
<circle cx="552.6" cy="721.7" r="3.1" fill="#4e281a" opacity="0.26"/>
<circle cx="547.4" cy="727.2" r="2.5" fill="#4e281a" opacity="0.39"/>
<circle cx="521.9" cy="730.6" r="3.5" fill="#4e281a" opacity="0.37"/>
<circle cx="510.9" cy="732.8" r="3.1" fill="#4e281a" opacity="0.37"/>
<circle cx="521.0" cy="742.6" r="2.5" fill="#4e281a" opacity="0.41"/>
</g>
</g></g>
<g fill="#dedede" opacity="0.45" filter="url(#bl2)"><ellipse cx="622.5" cy="731.9" rx="20.0" ry="15.0" transform="rotate(-10 622.5 731.9)"/><ellipse cx="611.3" cy="754.4" rx="17.0" ry="18.0" transform="rotate(0 611.3 754.4)"/></g>
<g fill="#7a7a80" opacity="0.6" filter="url(#bl3)"><ellipse cx="617.5" cy="729.9" rx="15.3" ry="10.8" transform="rotate(-10 617.5 729.9)"/><ellipse cx="606.3" cy="752.4" rx="12.6" ry="13.5" transform="rotate(0 606.3 752.4)"/></g>
<clipPath id="c4"><path d="M641.0 728.6C641.3 729.4 641.4 730.2 641.3 730.9C641.3 731.7 641.0 732.5 640.6 733.3C640.2 734.0 639.6 734.8 639.0 735.5C638.4 736.1 637.6 736.7 636.9 737.3C636.2 737.9 635.5 738.5 634.8 739.0C634.0 739.5 633.3 740.1 632.5 740.5C631.7 741.0 630.9 741.5 630.1 741.8C629.2 742.2 628.3 742.5 627.3 742.8C626.4 743.0 625.4 743.1 624.5 743.2C623.5 743.2 622.6 743.2 621.7 743.1C620.8 743.1 620.0 743.0 619.1 742.9C618.2 742.8 617.4 742.7 616.5 742.7C615.6 742.6 614.6 742.5 613.7 742.4C612.7 742.3 611.7 742.2 610.8 742.0C609.9 741.7 608.9 741.4 608.1 740.9C607.4 740.5 606.7 739.9 606.2 739.3C605.8 738.6 605.6 737.9 605.4 737.1C605.3 736.4 605.4 735.6 605.6 734.9C605.7 734.2 605.9 733.4 606.1 732.7C606.3 732.0 606.5 731.4 606.7 730.7C606.9 730.0 607.0 729.3 607.2 728.6C607.4 727.9 607.6 727.1 607.9 726.4C608.3 725.7 608.7 724.9 609.3 724.3C609.9 723.6 610.7 722.9 611.5 722.4C612.3 721.9 613.3 721.5 614.3 721.1C615.3 720.8 616.4 720.6 617.4 720.5C618.4 720.3 619.5 720.3 620.5 720.3C621.4 720.3 622.4 720.4 623.3 720.5C624.2 720.6 625.1 720.7 625.9 720.8C626.8 721.0 627.6 721.2 628.4 721.4C629.2 721.6 630.0 721.8 630.7 722.0C631.5 722.3 632.3 722.6 633.0 722.9C633.8 723.2 634.6 723.5 635.3 723.8C636.1 724.2 636.9 724.6 637.6 725.0C638.3 725.5 639.1 726.0 639.6 726.6C640.2 727.2 640.7 727.9 641.0 728.6Z"/><path d="M625.7 754.4C625.8 755.3 625.8 756.2 625.8 757.1C625.8 758.1 625.8 759.0 625.6 760.0C625.4 760.9 625.1 761.9 624.7 762.7C624.2 763.5 623.6 764.3 622.9 764.9C622.3 765.5 621.4 765.9 620.6 766.3C619.8 766.6 618.9 766.8 618.0 766.9C617.2 767.1 616.4 767.1 615.6 767.1C614.8 767.2 614.1 767.2 613.4 767.2C612.7 767.3 612.0 767.4 611.3 767.4C610.6 767.5 609.9 767.7 609.1 767.7C608.3 767.8 607.6 767.8 606.8 767.8C606.0 767.7 605.1 767.6 604.3 767.4C603.5 767.1 602.7 766.8 602.0 766.3C601.2 765.9 600.5 765.3 599.9 764.7C599.2 764.1 598.6 763.3 598.2 762.5C597.7 761.7 597.3 760.9 597.0 760.0C596.8 759.1 596.6 758.1 596.6 757.2C596.6 756.2 596.7 755.3 596.9 754.4C597.0 753.5 597.3 752.6 597.6 751.8C597.9 751.0 598.2 750.2 598.6 749.4C598.9 748.7 599.2 747.9 599.6 747.2C600.0 746.4 600.3 745.6 600.7 744.9C601.1 744.1 601.6 743.3 602.1 742.7C602.7 742.0 603.3 741.3 604.0 740.9C604.7 740.4 605.5 740.0 606.3 739.8C607.2 739.6 608.0 739.6 608.9 739.7C609.7 739.7 610.5 740.0 611.3 740.2C612.1 740.4 612.8 740.7 613.5 740.9C614.2 741.1 614.9 741.4 615.7 741.6C616.4 741.8 617.1 742.0 617.9 742.2C618.6 742.5 619.4 742.7 620.1 743.1C620.8 743.5 621.6 744.0 622.2 744.6C622.8 745.2 623.4 745.9 623.8 746.7C624.2 747.4 624.5 748.3 624.8 749.1C625.1 750.0 625.2 750.9 625.4 751.7C625.5 752.6 625.6 753.5 625.7 754.4Z"/></clipPath>
<g filter="url(#bl1)"><g clip-path="url(#c4)">
<path d="M641.0 728.6C641.3 729.4 641.4 730.2 641.3 730.9C641.3 731.7 641.0 732.5 640.6 733.3C640.2 734.0 639.6 734.8 639.0 735.5C638.4 736.1 637.6 736.7 636.9 737.3C636.2 737.9 635.5 738.5 634.8 739.0C634.0 739.5 633.3 740.1 632.5 740.5C631.7 741.0 630.9 741.5 630.1 741.8C629.2 742.2 628.3 742.5 627.3 742.8C626.4 743.0 625.4 743.1 624.5 743.2C623.5 743.2 622.6 743.2 621.7 743.1C620.8 743.1 620.0 743.0 619.1 742.9C618.2 742.8 617.4 742.7 616.5 742.7C615.6 742.6 614.6 742.5 613.7 742.4C612.7 742.3 611.7 742.2 610.8 742.0C609.9 741.7 608.9 741.4 608.1 740.9C607.4 740.5 606.7 739.9 606.2 739.3C605.8 738.6 605.6 737.9 605.4 737.1C605.3 736.4 605.4 735.6 605.6 734.9C605.7 734.2 605.9 733.4 606.1 732.7C606.3 732.0 606.5 731.4 606.7 730.7C606.9 730.0 607.0 729.3 607.2 728.6C607.4 727.9 607.6 727.1 607.9 726.4C608.3 725.7 608.7 724.9 609.3 724.3C609.9 723.6 610.7 722.9 611.5 722.4C612.3 721.9 613.3 721.5 614.3 721.1C615.3 720.8 616.4 720.6 617.4 720.5C618.4 720.3 619.5 720.3 620.5 720.3C621.4 720.3 622.4 720.4 623.3 720.5C624.2 720.6 625.1 720.7 625.9 720.8C626.8 721.0 627.6 721.2 628.4 721.4C629.2 721.6 630.0 721.8 630.7 722.0C631.5 722.3 632.3 722.6 633.0 722.9C633.8 723.2 634.6 723.5 635.3 723.8C636.1 724.2 636.9 724.6 637.6 725.0C638.3 725.5 639.1 726.0 639.6 726.6C640.2 727.2 640.7 727.9 641.0 728.6Z" fill="url(#g4)"/><path d="M625.7 754.4C625.8 755.3 625.8 756.2 625.8 757.1C625.8 758.1 625.8 759.0 625.6 760.0C625.4 760.9 625.1 761.9 624.7 762.7C624.2 763.5 623.6 764.3 622.9 764.9C622.3 765.5 621.4 765.9 620.6 766.3C619.8 766.6 618.9 766.8 618.0 766.9C617.2 767.1 616.4 767.1 615.6 767.1C614.8 767.2 614.1 767.2 613.4 767.2C612.7 767.3 612.0 767.4 611.3 767.4C610.6 767.5 609.9 767.7 609.1 767.7C608.3 767.8 607.6 767.8 606.8 767.8C606.0 767.7 605.1 767.6 604.3 767.4C603.5 767.1 602.7 766.8 602.0 766.3C601.2 765.9 600.5 765.3 599.9 764.7C599.2 764.1 598.6 763.3 598.2 762.5C597.7 761.7 597.3 760.9 597.0 760.0C596.8 759.1 596.6 758.1 596.6 757.2C596.6 756.2 596.7 755.3 596.9 754.4C597.0 753.5 597.3 752.6 597.6 751.8C597.9 751.0 598.2 750.2 598.6 749.4C598.9 748.7 599.2 747.9 599.6 747.2C600.0 746.4 600.3 745.6 600.7 744.9C601.1 744.1 601.6 743.3 602.1 742.7C602.7 742.0 603.3 741.3 604.0 740.9C604.7 740.4 605.5 740.0 606.3 739.8C607.2 739.6 608.0 739.6 608.9 739.7C609.7 739.7 610.5 740.0 611.3 740.2C612.1 740.4 612.8 740.7 613.5 740.9C614.2 741.1 614.9 741.4 615.7 741.6C616.4 741.8 617.1 742.0 617.9 742.2C618.6 742.5 619.4 742.7 620.1 743.1C620.8 743.5 621.6 744.0 622.2 744.6C622.8 745.2 623.4 745.9 623.8 746.7C624.2 747.4 624.5 748.3 624.8 749.1C625.1 750.0 625.2 750.9 625.4 751.7C625.5 752.6 625.6 753.5 625.7 754.4Z" fill="url(#g4)"/>
<g filter="url(#bl2)">
<circle cx="633.3" cy="725.3" r="3.0" fill="#9c5c46" opacity="0.18"/>
<circle cx="632.9" cy="740.9" r="1.9" fill="#542014" opacity="0.30"/>
<circle cx="622.2" cy="741.3" r="3.2" fill="#542014" opacity="0.38"/>
<circle cx="622.4" cy="752.1" r="2.7" fill="#9c5c46" opacity="0.21"/>
<circle cx="616.3" cy="742.9" r="3.1" fill="#caa690" opacity="0.29"/>
<circle cx="608.7" cy="754.8" r="2.4" fill="#542014" opacity="0.23"/>
</g>
</g></g>
<g fill="#dedede" opacity="0.45" filter="url(#bl2)"><ellipse cx="708.0" cy="752.0" rx="24.0" ry="24.0" transform="rotate(0 708.0 752.0)"/><ellipse cx="701.0" cy="730.0" rx="15.0" ry="18.0" transform="rotate(-20 701.0 730.0)"/><ellipse cx="722.0" cy="744.0" rx="12.0" ry="15.0" transform="rotate(0 722.0 744.0)"/></g>
<g fill="#7a7a80" opacity="0.6" filter="url(#bl3)"><ellipse cx="703.0" cy="750.0" rx="18.9" ry="18.9" transform="rotate(0 703.0 750.0)"/><ellipse cx="696.0" cy="728.0" rx="10.8" ry="13.5" transform="rotate(-20 696.0 728.0)"/><ellipse cx="717.0" cy="742.0" rx="8.1" ry="10.8" transform="rotate(0 717.0 742.0)"/></g>
<clipPath id="c5"><path d="M729.2 752.0C729.5 753.2 729.9 754.6 729.9 755.9C729.9 757.2 729.7 758.5 729.3 759.8C728.9 761.0 728.2 762.2 727.5 763.2C726.7 764.3 725.7 765.2 724.7 766.0C723.7 766.9 722.7 767.5 721.6 768.2C720.5 768.9 719.5 769.4 718.4 770.0C717.3 770.5 716.2 771.1 715.1 771.5C714.0 772.0 712.8 772.4 711.7 772.8C710.5 773.1 709.2 773.3 708.0 773.4C706.8 773.5 705.5 773.5 704.2 773.3C703.0 773.1 701.8 772.8 700.6 772.4C699.4 771.9 698.3 771.4 697.2 770.7C696.2 770.0 695.2 769.2 694.3 768.3C693.4 767.5 692.6 766.4 692.0 765.4C691.4 764.4 690.9 763.2 690.6 762.1C690.2 760.9 690.0 759.7 689.9 758.6C689.7 757.5 689.7 756.3 689.6 755.2C689.6 754.1 689.5 753.1 689.4 752.0C689.3 750.9 689.2 749.8 689.0 748.7C688.9 747.5 688.7 746.2 688.6 744.9C688.6 743.7 688.5 742.2 688.8 740.9C689.0 739.6 689.4 738.1 690.0 736.9C690.7 735.7 691.6 734.6 692.7 733.7C693.7 732.9 695.0 732.2 696.3 731.8C697.6 731.3 699.0 731.1 700.4 731.0C701.7 730.9 703.0 730.9 704.3 731.0C705.6 731.0 706.8 731.1 708.0 731.2C709.2 731.3 710.4 731.4 711.6 731.7C712.8 731.9 714.0 732.1 715.1 732.5C716.2 733.0 717.3 733.5 718.3 734.2C719.2 734.9 720.1 735.7 720.9 736.6C721.7 737.5 722.3 738.6 722.8 739.5C723.4 740.5 723.9 741.5 724.4 742.5C724.9 743.5 725.4 744.5 726.0 745.5C726.5 746.5 727.1 747.4 727.7 748.5C728.2 749.6 728.8 750.8 729.2 752.0Z"/><path d="M712.7 725.7C713.1 726.5 713.5 727.4 713.8 728.3C714.1 729.2 714.3 730.1 714.4 731.0C714.5 732.0 714.5 732.9 714.4 733.8C714.2 734.6 713.9 735.5 713.5 736.2C713.2 736.9 712.7 737.6 712.2 738.2C711.7 738.7 711.1 739.2 710.6 739.6C710.0 740.1 709.5 740.5 709.0 740.9C708.4 741.3 708.0 741.7 707.4 742.1C706.9 742.4 706.4 742.8 705.8 743.1C705.2 743.4 704.6 743.7 703.9 743.9C703.3 744.0 702.6 744.1 701.9 744.1C701.2 744.0 700.5 743.9 699.9 743.7C699.2 743.5 698.5 743.2 697.8 742.9C697.1 742.6 696.5 742.3 695.8 742.0C695.1 741.6 694.3 741.3 693.6 740.9C692.9 740.5 692.1 740.0 691.4 739.4C690.7 738.9 690.0 738.2 689.4 737.4C688.9 736.6 688.4 735.6 688.1 734.7C687.8 733.8 687.7 732.7 687.7 731.8C687.8 730.8 688.0 729.9 688.2 729.0C688.5 728.2 688.9 727.4 689.2 726.7C689.5 725.9 689.9 725.3 690.2 724.7C690.5 724.0 690.8 723.4 691.0 722.7C691.3 722.0 691.5 721.3 691.7 720.7C692.0 720.0 692.3 719.2 692.7 718.6C693.0 718.0 693.5 717.4 694.0 716.9C694.5 716.4 695.2 716.0 695.8 715.7C696.4 715.5 697.2 715.3 697.9 715.2C698.6 715.2 699.3 715.2 700.0 715.3C700.8 715.5 701.5 715.6 702.2 715.9C702.9 716.1 703.6 716.4 704.3 716.8C705.0 717.1 705.6 717.5 706.3 718.0C706.9 718.4 707.5 719.0 708.1 719.5C708.7 720.1 709.3 720.7 709.8 721.4C710.3 722.0 710.9 722.7 711.3 723.4C711.8 724.2 712.3 724.9 712.7 725.7Z"/><path d="M729.8 744.0C729.9 744.6 730.0 745.2 730.1 745.9C730.2 746.6 730.3 747.3 730.3 748.0C730.3 748.8 730.3 749.5 730.1 750.3C730.0 751.0 729.8 751.7 729.5 752.4C729.2 753.0 728.8 753.6 728.4 754.1C727.9 754.6 727.4 755.0 726.9 755.4C726.4 755.7 725.9 756.0 725.3 756.1C724.8 756.3 724.2 756.4 723.6 756.4C723.1 756.4 722.5 756.3 722.0 756.2C721.5 756.1 721.0 755.9 720.5 755.6C720.0 755.4 719.5 755.1 719.0 754.8C718.6 754.5 718.2 754.2 717.7 753.9C717.3 753.5 716.9 753.2 716.4 752.9C716.0 752.5 715.6 752.1 715.2 751.6C714.8 751.2 714.4 750.7 714.1 750.1C713.8 749.5 713.5 748.9 713.4 748.2C713.2 747.5 713.1 746.8 713.1 746.1C713.1 745.4 713.2 744.7 713.3 744.0C713.4 743.3 713.6 742.7 713.7 742.1C713.9 741.4 714.0 740.8 714.2 740.2C714.3 739.6 714.4 739.0 714.6 738.3C714.8 737.7 714.9 737.0 715.1 736.3C715.4 735.7 715.6 735.0 716.0 734.5C716.3 733.9 716.8 733.4 717.2 733.0C717.7 732.6 718.2 732.3 718.7 732.0C719.3 731.8 719.8 731.7 720.4 731.7C720.9 731.6 721.5 731.6 722.0 731.7C722.5 731.7 723.1 731.7 723.6 731.8C724.2 731.9 724.7 732.0 725.2 732.2C725.8 732.4 726.3 732.6 726.8 732.9C727.3 733.3 727.7 733.8 728.1 734.3C728.5 734.9 728.8 735.5 729.0 736.2C729.2 736.9 729.3 737.6 729.4 738.3C729.5 739.0 729.5 739.7 729.5 740.4C729.5 741.0 729.5 741.6 729.6 742.2C729.6 742.8 729.7 743.4 729.8 744.0Z"/></clipPath>
<g filter="url(#bl1)"><g clip-path="url(#c5)">
<path d="M729.2 752.0C729.5 753.2 729.9 754.6 729.9 755.9C729.9 757.2 729.7 758.5 729.3 759.8C728.9 761.0 728.2 762.2 727.5 763.2C726.7 764.3 725.7 765.2 724.7 766.0C723.7 766.9 722.7 767.5 721.6 768.2C720.5 768.9 719.5 769.4 718.4 770.0C717.3 770.5 716.2 771.1 715.1 771.5C714.0 772.0 712.8 772.4 711.7 772.8C710.5 773.1 709.2 773.3 708.0 773.4C706.8 773.5 705.5 773.5 704.2 773.3C703.0 773.1 701.8 772.8 700.6 772.4C699.4 771.9 698.3 771.4 697.2 770.7C696.2 770.0 695.2 769.2 694.3 768.3C693.4 767.5 692.6 766.4 692.0 765.4C691.4 764.4 690.9 763.2 690.6 762.1C690.2 760.9 690.0 759.7 689.9 758.6C689.7 757.5 689.7 756.3 689.6 755.2C689.6 754.1 689.5 753.1 689.4 752.0C689.3 750.9 689.2 749.8 689.0 748.7C688.9 747.5 688.7 746.2 688.6 744.9C688.6 743.7 688.5 742.2 688.8 740.9C689.0 739.6 689.4 738.1 690.0 736.9C690.7 735.7 691.6 734.6 692.7 733.7C693.7 732.9 695.0 732.2 696.3 731.8C697.6 731.3 699.0 731.1 700.4 731.0C701.7 730.9 703.0 730.9 704.3 731.0C705.6 731.0 706.8 731.1 708.0 731.2C709.2 731.3 710.4 731.4 711.6 731.7C712.8 731.9 714.0 732.1 715.1 732.5C716.2 733.0 717.3 733.5 718.3 734.2C719.2 734.9 720.1 735.7 720.9 736.6C721.7 737.5 722.3 738.6 722.8 739.5C723.4 740.5 723.9 741.5 724.4 742.5C724.9 743.5 725.4 744.5 726.0 745.5C726.5 746.5 727.1 747.4 727.7 748.5C728.2 749.6 728.8 750.8 729.2 752.0Z" fill="url(#g5)"/><path d="M712.7 725.7C713.1 726.5 713.5 727.4 713.8 728.3C714.1 729.2 714.3 730.1 714.4 731.0C714.5 732.0 714.5 732.9 714.4 733.8C714.2 734.6 713.9 735.5 713.5 736.2C713.2 736.9 712.7 737.6 712.2 738.2C711.7 738.7 711.1 739.2 710.6 739.6C710.0 740.1 709.5 740.5 709.0 740.9C708.4 741.3 708.0 741.7 707.4 742.1C706.9 742.4 706.4 742.8 705.8 743.1C705.2 743.4 704.6 743.7 703.9 743.9C703.3 744.0 702.6 744.1 701.9 744.1C701.2 744.0 700.5 743.9 699.9 743.7C699.2 743.5 698.5 743.2 697.8 742.9C697.1 742.6 696.5 742.3 695.8 742.0C695.1 741.6 694.3 741.3 693.6 740.9C692.9 740.5 692.1 740.0 691.4 739.4C690.7 738.9 690.0 738.2 689.4 737.4C688.9 736.6 688.4 735.6 688.1 734.7C687.8 733.8 687.7 732.7 687.7 731.8C687.8 730.8 688.0 729.9 688.2 729.0C688.5 728.2 688.9 727.4 689.2 726.7C689.5 725.9 689.9 725.3 690.2 724.7C690.5 724.0 690.8 723.4 691.0 722.7C691.3 722.0 691.5 721.3 691.7 720.7C692.0 720.0 692.3 719.2 692.7 718.6C693.0 718.0 693.5 717.4 694.0 716.9C694.5 716.4 695.2 716.0 695.8 715.7C696.4 715.5 697.2 715.3 697.9 715.2C698.6 715.2 699.3 715.2 700.0 715.3C700.8 715.5 701.5 715.6 702.2 715.9C702.9 716.1 703.6 716.4 704.3 716.8C705.0 717.1 705.6 717.5 706.3 718.0C706.9 718.4 707.5 719.0 708.1 719.5C708.7 720.1 709.3 720.7 709.8 721.4C710.3 722.0 710.9 722.7 711.3 723.4C711.8 724.2 712.3 724.9 712.7 725.7Z" fill="url(#g5)"/><path d="M729.8 744.0C729.9 744.6 730.0 745.2 730.1 745.9C730.2 746.6 730.3 747.3 730.3 748.0C730.3 748.8 730.3 749.5 730.1 750.3C730.0 751.0 729.8 751.7 729.5 752.4C729.2 753.0 728.8 753.6 728.4 754.1C727.9 754.6 727.4 755.0 726.9 755.4C726.4 755.7 725.9 756.0 725.3 756.1C724.8 756.3 724.2 756.4 723.6 756.4C723.1 756.4 722.5 756.3 722.0 756.2C721.5 756.1 721.0 755.9 720.5 755.6C720.0 755.4 719.5 755.1 719.0 754.8C718.6 754.5 718.2 754.2 717.7 753.9C717.3 753.5 716.9 753.2 716.4 752.9C716.0 752.5 715.6 752.1 715.2 751.6C714.8 751.2 714.4 750.7 714.1 750.1C713.8 749.5 713.5 748.9 713.4 748.2C713.2 747.5 713.1 746.8 713.1 746.1C713.1 745.4 713.2 744.7 713.3 744.0C713.4 743.3 713.6 742.7 713.7 742.1C713.9 741.4 714.0 740.8 714.2 740.2C714.3 739.6 714.4 739.0 714.6 738.3C714.8 737.7 714.9 737.0 715.1 736.3C715.4 735.7 715.6 735.0 716.0 734.5C716.3 733.9 716.8 733.4 717.2 733.0C717.7 732.6 718.2 732.3 718.7 732.0C719.3 731.8 719.8 731.7 720.4 731.7C720.9 731.6 721.5 731.6 722.0 731.7C722.5 731.7 723.1 731.7 723.6 731.8C724.2 731.9 724.7 732.0 725.2 732.2C725.8 732.4 726.3 732.6 726.8 732.9C727.3 733.3 727.7 733.8 728.1 734.3C728.5 734.9 728.8 735.5 729.0 736.2C729.2 736.9 729.3 737.6 729.4 738.3C729.5 739.0 729.5 739.7 729.5 740.4C729.5 741.0 729.5 741.6 729.6 742.2C729.6 742.8 729.7 743.4 729.8 744.0Z" fill="url(#g5)"/>
<g filter="url(#bl2)">
<circle cx="704.8" cy="753.2" r="4.5" fill="#c4a890" opacity="0.29"/>
<circle cx="694.2" cy="737.1" r="5.1" fill="#c4a890" opacity="0.33"/>
<circle cx="700.2" cy="735.8" r="2.9" fill="#9a6c58" opacity="0.17"/>
<circle cx="720.0" cy="737.4" r="5.8" fill="#c4a890" opacity="0.15"/>
<circle cx="724.6" cy="749.2" r="6.0" fill="#4e281a" opacity="0.21"/>
<circle cx="715.0" cy="766.7" r="6.2" fill="#9a6c58" opacity="0.16"/>
<circle cx="698.0" cy="745.7" r="3.7" fill="#4e281a" opacity="0.27"/>
<circle cx="701.0" cy="722.3" r="2.2" fill="#4e281a" opacity="0.45"/>
<circle cx="692.1" cy="718.4" r="2.5" fill="#4e281a" opacity="0.33"/>
<circle cx="696.1" cy="728.7" r="2.9" fill="#c4a890" opacity="0.28"/>
<circle cx="722.7" cy="751.5" r="2.7" fill="#9a6c58" opacity="0.29"/>
<circle cx="728.9" cy="741.0" r="2.4" fill="#4e281a" opacity="0.30"/>
</g>
</g></g>
<g fill="#dedede" opacity="0.45" filter="url(#bl2)"><ellipse cx="864.0" cy="746.0" rx="24.0" ry="31.0" transform="rotate(0 864.0 746.0)"/><ellipse cx="887.0" cy="737.0" rx="17.0" ry="20.0" transform="rotate(0 887.0 737.0)"/></g>
<g fill="#7a7a80" opacity="0.6" filter="url(#bl3)"><ellipse cx="859.0" cy="744.0" rx="18.9" ry="25.2" transform="rotate(0 859.0 744.0)"/><ellipse cx="882.0" cy="735.0" rx="12.6" ry="15.3" transform="rotate(0 882.0 735.0)"/></g>
<clipPath id="c6"><path d="M887.1 746.0C887.4 747.8 887.6 749.7 887.4 751.5C887.2 753.3 886.7 755.1 886.0 756.7C885.3 758.2 884.2 759.6 883.1 760.7C882.1 761.9 880.8 762.7 879.7 763.5C878.5 764.3 877.3 764.9 876.3 765.5C875.2 766.1 874.2 766.7 873.3 767.4C872.3 768.0 871.4 768.7 870.4 769.4C869.4 770.1 868.4 770.8 867.4 771.4C866.3 771.9 865.2 772.4 864.0 772.7C862.8 772.9 861.6 773.0 860.4 772.9C859.3 772.8 858.1 772.4 856.9 772.0C855.7 771.6 854.6 771.0 853.4 770.4C852.3 769.7 851.2 769.0 850.1 768.1C849.0 767.2 847.9 766.3 846.9 765.1C845.9 764.0 845.0 762.7 844.2 761.2C843.4 759.8 842.8 758.2 842.4 756.5C841.9 754.8 841.7 753.0 841.6 751.3C841.6 749.5 841.8 747.7 842.0 746.0C842.3 744.3 842.7 742.7 843.2 741.1C843.6 739.5 844.2 738.1 844.8 736.7C845.4 735.3 846.0 733.9 846.7 732.6C847.3 731.4 848.0 730.1 848.8 729.0C849.6 727.9 850.4 726.8 851.3 725.8C852.2 724.8 853.1 723.9 854.1 723.1C855.1 722.3 856.1 721.6 857.2 720.9C858.2 720.3 859.3 719.7 860.5 719.2C861.6 718.7 862.8 718.2 864.0 718.0C865.2 717.7 866.5 717.6 867.7 717.7C869.0 717.8 870.3 718.1 871.4 718.7C872.6 719.3 873.7 720.2 874.7 721.2C875.7 722.2 876.6 723.5 877.4 724.8C878.1 726.0 878.8 727.4 879.4 728.7C880.1 730.1 880.7 731.3 881.3 732.7C882.0 734.0 882.7 735.2 883.4 736.6C884.1 738.0 884.9 739.4 885.6 740.9C886.2 742.5 886.8 744.2 887.1 746.0Z"/><path d="M901.5 737.0C901.6 738.0 901.6 739.1 901.4 740.1C901.2 741.1 900.8 742.1 900.4 742.9C899.9 743.8 899.3 744.5 898.7 745.2C898.1 745.9 897.4 746.4 896.9 747.0C896.3 747.6 895.7 748.2 895.1 748.8C894.6 749.4 894.1 750.1 893.5 750.8C893.0 751.4 892.4 752.2 891.8 752.9C891.1 753.6 890.4 754.4 889.6 754.9C888.8 755.4 887.9 755.8 887.0 755.9C886.1 756.1 885.1 756.0 884.3 755.8C883.4 755.6 882.5 755.1 881.7 754.6C881.0 754.0 880.2 753.3 879.6 752.6C878.9 751.9 878.4 751.1 877.8 750.3C877.3 749.5 876.8 748.6 876.4 747.8C876.0 746.9 875.6 746.1 875.3 745.2C875.0 744.3 874.8 743.4 874.6 742.5C874.5 741.6 874.4 740.6 874.3 739.7C874.3 738.8 874.3 737.9 874.3 737.0C874.3 736.1 874.4 735.2 874.5 734.3C874.5 733.4 874.6 732.5 874.7 731.6C874.9 730.7 875.0 729.7 875.2 728.8C875.5 727.8 875.8 726.8 876.2 726.0C876.6 725.1 877.1 724.2 877.6 723.4C878.2 722.7 878.9 722.0 879.6 721.4C880.3 720.8 881.1 720.4 881.9 720.0C882.7 719.6 883.6 719.3 884.4 719.1C885.3 719.0 886.1 718.9 887.0 718.9C887.9 718.9 888.7 719.0 889.6 719.2C890.4 719.5 891.2 719.8 892.0 720.3C892.7 720.8 893.4 721.5 894.1 722.1C894.7 722.8 895.2 723.6 895.7 724.4C896.2 725.2 896.6 726.0 897.0 726.8C897.4 727.6 897.8 728.4 898.2 729.2C898.6 729.9 899.0 730.7 899.5 731.5C899.9 732.3 900.3 733.2 900.7 734.1C901.0 735.0 901.3 736.0 901.5 737.0Z"/></clipPath>
<g filter="url(#bl1)"><g clip-path="url(#c6)">
<path d="M887.1 746.0C887.4 747.8 887.6 749.7 887.4 751.5C887.2 753.3 886.7 755.1 886.0 756.7C885.3 758.2 884.2 759.6 883.1 760.7C882.1 761.9 880.8 762.7 879.7 763.5C878.5 764.3 877.3 764.9 876.3 765.5C875.2 766.1 874.2 766.7 873.3 767.4C872.3 768.0 871.4 768.7 870.4 769.4C869.4 770.1 868.4 770.8 867.4 771.4C866.3 771.9 865.2 772.4 864.0 772.7C862.8 772.9 861.6 773.0 860.4 772.9C859.3 772.8 858.1 772.4 856.9 772.0C855.7 771.6 854.6 771.0 853.4 770.4C852.3 769.7 851.2 769.0 850.1 768.1C849.0 767.2 847.9 766.3 846.9 765.1C845.9 764.0 845.0 762.7 844.2 761.2C843.4 759.8 842.8 758.2 842.4 756.5C841.9 754.8 841.7 753.0 841.6 751.3C841.6 749.5 841.8 747.7 842.0 746.0C842.3 744.3 842.7 742.7 843.2 741.1C843.6 739.5 844.2 738.1 844.8 736.7C845.4 735.3 846.0 733.9 846.7 732.6C847.3 731.4 848.0 730.1 848.8 729.0C849.6 727.9 850.4 726.8 851.3 725.8C852.2 724.8 853.1 723.9 854.1 723.1C855.1 722.3 856.1 721.6 857.2 720.9C858.2 720.3 859.3 719.7 860.5 719.2C861.6 718.7 862.8 718.2 864.0 718.0C865.2 717.7 866.5 717.6 867.7 717.7C869.0 717.8 870.3 718.1 871.4 718.7C872.6 719.3 873.7 720.2 874.7 721.2C875.7 722.2 876.6 723.5 877.4 724.8C878.1 726.0 878.8 727.4 879.4 728.7C880.1 730.1 880.7 731.3 881.3 732.7C882.0 734.0 882.7 735.2 883.4 736.6C884.1 738.0 884.9 739.4 885.6 740.9C886.2 742.5 886.8 744.2 887.1 746.0Z" fill="url(#g6)"/><path d="M901.5 737.0C901.6 738.0 901.6 739.1 901.4 740.1C901.2 741.1 900.8 742.1 900.4 742.9C899.9 743.8 899.3 744.5 898.7 745.2C898.1 745.9 897.4 746.4 896.9 747.0C896.3 747.6 895.7 748.2 895.1 748.8C894.6 749.4 894.1 750.1 893.5 750.8C893.0 751.4 892.4 752.2 891.8 752.9C891.1 753.6 890.4 754.4 889.6 754.9C888.8 755.4 887.9 755.8 887.0 755.9C886.1 756.1 885.1 756.0 884.3 755.8C883.4 755.6 882.5 755.1 881.7 754.6C881.0 754.0 880.2 753.3 879.6 752.6C878.9 751.9 878.4 751.1 877.8 750.3C877.3 749.5 876.8 748.6 876.4 747.8C876.0 746.9 875.6 746.1 875.3 745.2C875.0 744.3 874.8 743.4 874.6 742.5C874.5 741.6 874.4 740.6 874.3 739.7C874.3 738.8 874.3 737.9 874.3 737.0C874.3 736.1 874.4 735.2 874.5 734.3C874.5 733.4 874.6 732.5 874.7 731.6C874.9 730.7 875.0 729.7 875.2 728.8C875.5 727.8 875.8 726.8 876.2 726.0C876.6 725.1 877.1 724.2 877.6 723.4C878.2 722.7 878.9 722.0 879.6 721.4C880.3 720.8 881.1 720.4 881.9 720.0C882.7 719.6 883.6 719.3 884.4 719.1C885.3 719.0 886.1 718.9 887.0 718.9C887.9 718.9 888.7 719.0 889.6 719.2C890.4 719.5 891.2 719.8 892.0 720.3C892.7 720.8 893.4 721.5 894.1 722.1C894.7 722.8 895.2 723.6 895.7 724.4C896.2 725.2 896.6 726.0 897.0 726.8C897.4 727.6 897.8 728.4 898.2 729.2C898.6 729.9 899.0 730.7 899.5 731.5C899.9 732.3 900.3 733.2 900.7 734.1C901.0 735.0 901.3 736.0 901.5 737.0Z" fill="url(#g6)"/>
<g filter="url(#bl2)">
<circle cx="875.5" cy="762.6" r="5.1" fill="#885444" opacity="0.27"/>
<circle cx="870.5" cy="725.6" r="3.2" fill="#885444" opacity="0.24"/>
<circle cx="856.0" cy="766.7" r="6.2" fill="#885444" opacity="0.20"/>
<circle cx="879.6" cy="737.5" r="3.9" fill="#441e12" opacity="0.28"/>
<circle cx="850.0" cy="736.1" r="5.0" fill="#441e12" opacity="0.33"/>
<circle cx="847.4" cy="735.4" r="2.9" fill="#c09888" opacity="0.27"/>
<circle cx="860.4" cy="737.0" r="4.9" fill="#441e12" opacity="0.35"/>
<circle cx="865.0" cy="757.2" r="5.0" fill="#c09888" opacity="0.30"/>
<circle cx="871.4" cy="745.7" r="3.6" fill="#441e12" opacity="0.21"/>
<circle cx="894.5" cy="747.7" r="3.3" fill="#441e12" opacity="0.43"/>
<circle cx="892.7" cy="738.9" r="3.7" fill="#441e12" opacity="0.41"/>
<circle cx="888.9" cy="747.7" r="3.4" fill="#441e12" opacity="0.22"/>
</g>
</g></g>
<g fill="#dedede" opacity="0.45" filter="url(#bl2)"><ellipse cx="371.3" cy="831.5" rx="10.0" ry="8.0" transform="rotate(-20 371.3 831.5)"/></g>
<g fill="#7a7a80" opacity="0.6" filter="url(#bl3)"><ellipse cx="366.3" cy="829.5" rx="6.3" ry="4.5" transform="rotate(-20 366.3 829.5)"/></g>
<clipPath id="c7"><path d="M377.8 829.1C377.9 829.4 378.0 829.7 378.1 830.0C378.1 830.2 378.2 830.5 378.2 830.8C378.2 831.2 378.1 831.5 378.1 831.8C378.0 832.1 377.9 832.4 377.8 832.8C377.7 833.1 377.5 833.4 377.3 833.7C377.0 834.0 376.8 834.3 376.4 834.6C376.1 834.9 375.8 835.1 375.4 835.3C375.0 835.5 374.6 835.7 374.2 835.8C373.8 836.0 373.4 836.1 373.0 836.2C372.6 836.2 372.2 836.3 371.8 836.4C371.4 836.4 371.1 836.5 370.7 836.5C370.3 836.5 369.9 836.5 369.6 836.5C369.2 836.4 368.9 836.4 368.6 836.3C368.3 836.2 368.0 836.1 367.7 836.0C367.4 835.8 367.2 835.7 366.9 835.5C366.7 835.4 366.4 835.2 366.2 835.0C365.9 834.9 365.7 834.7 365.4 834.5C365.1 834.4 364.8 834.2 364.5 834.0C364.3 833.7 364.0 833.5 363.8 833.2C363.7 832.9 363.5 832.6 363.5 832.2C363.5 831.9 363.6 831.5 363.8 831.2C363.9 830.8 364.2 830.5 364.6 830.2C364.9 829.9 365.3 829.6 365.6 829.4C366.0 829.2 366.4 829.0 366.7 828.8C367.1 828.6 367.4 828.4 367.7 828.2C368.1 828.0 368.4 827.8 368.7 827.6C369.0 827.4 369.3 827.2 369.7 827.0C370.0 826.8 370.4 826.6 370.8 826.5C371.1 826.3 371.6 826.2 372.0 826.2C372.3 826.1 372.7 826.2 373.1 826.2C373.5 826.2 373.8 826.3 374.2 826.4C374.5 826.5 374.8 826.7 375.1 826.8C375.4 826.9 375.7 827.1 375.9 827.3C376.2 827.4 376.5 827.6 376.7 827.8C376.9 828.0 377.1 828.2 377.3 828.4C377.5 828.6 377.7 828.9 377.8 829.1Z"/></clipPath>
<g filter="url(#bl1)"><g clip-path="url(#c7)">
<path d="M377.8 829.1C377.9 829.4 378.0 829.7 378.1 830.0C378.1 830.2 378.2 830.5 378.2 830.8C378.2 831.2 378.1 831.5 378.1 831.8C378.0 832.1 377.9 832.4 377.8 832.8C377.7 833.1 377.5 833.4 377.3 833.7C377.0 834.0 376.8 834.3 376.4 834.6C376.1 834.9 375.8 835.1 375.4 835.3C375.0 835.5 374.6 835.7 374.2 835.8C373.8 836.0 373.4 836.1 373.0 836.2C372.6 836.2 372.2 836.3 371.8 836.4C371.4 836.4 371.1 836.5 370.7 836.5C370.3 836.5 369.9 836.5 369.6 836.5C369.2 836.4 368.9 836.4 368.6 836.3C368.3 836.2 368.0 836.1 367.7 836.0C367.4 835.8 367.2 835.7 366.9 835.5C366.7 835.4 366.4 835.2 366.2 835.0C365.9 834.9 365.7 834.7 365.4 834.5C365.1 834.4 364.8 834.2 364.5 834.0C364.3 833.7 364.0 833.5 363.8 833.2C363.7 832.9 363.5 832.6 363.5 832.2C363.5 831.9 363.6 831.5 363.8 831.2C363.9 830.8 364.2 830.5 364.6 830.2C364.9 829.9 365.3 829.6 365.6 829.4C366.0 829.2 366.4 829.0 366.7 828.8C367.1 828.6 367.4 828.4 367.7 828.2C368.1 828.0 368.4 827.8 368.7 827.6C369.0 827.4 369.3 827.2 369.7 827.0C370.0 826.8 370.4 826.6 370.8 826.5C371.1 826.3 371.6 826.2 372.0 826.2C372.3 826.1 372.7 826.2 373.1 826.2C373.5 826.2 373.8 826.3 374.2 826.4C374.5 826.5 374.8 826.7 375.1 826.8C375.4 826.9 375.7 827.1 375.9 827.3C376.2 827.4 376.5 827.6 376.7 827.8C376.9 828.0 377.1 828.2 377.3 828.4C377.5 828.6 377.7 828.9 377.8 829.1Z" fill="url(#g7)"/>
<g filter="url(#bl2)">
<circle cx="370.8" cy="827.9" r="0.6" fill="#4e2812" opacity="0.32"/>
<circle cx="365.7" cy="833.9" r="1.3" fill="#4e2812" opacity="0.36"/>
</g>
</g></g>
<g fill="#dedede" opacity="0.45" filter="url(#bl2)"><ellipse cx="444.0" cy="834.1" rx="16.0" ry="15.5" transform="rotate(0 444.0 834.1)"/></g>
<g fill="#7a7a80" opacity="0.6" filter="url(#bl3)"><ellipse cx="439.0" cy="832.1" rx="11.7" ry="11.2" transform="rotate(0 439.0 832.1)"/></g>
<clipPath id="c8"><path d="M457.3 834.1C457.4 834.8 457.5 835.6 457.4 836.4C457.3 837.1 457.1 837.9 456.8 838.6C456.6 839.3 456.1 840.0 455.7 840.6C455.3 841.2 454.8 841.8 454.2 842.4C453.7 842.9 453.2 843.5 452.6 844.0C452.1 844.5 451.5 845.1 450.9 845.5C450.2 846.0 449.5 846.4 448.8 846.7C448.0 847.0 447.2 847.3 446.4 847.3C445.6 847.4 444.8 847.3 444.0 847.1C443.2 846.8 442.5 846.4 441.8 846.0C441.1 845.6 440.6 845.1 440.0 844.6C439.5 844.2 439.0 843.7 438.5 843.3C438.0 842.9 437.5 842.5 436.9 842.2C436.4 841.9 435.7 841.6 435.1 841.3C434.5 840.9 433.8 840.6 433.1 840.1C432.5 839.7 431.9 839.1 431.4 838.5C430.9 837.9 430.4 837.2 430.1 836.4C429.9 835.7 429.7 834.9 429.7 834.1C429.7 833.3 429.9 832.5 430.1 831.7C430.3 831.0 430.6 830.2 431.0 829.5C431.3 828.8 431.8 828.2 432.2 827.6C432.7 827.0 433.3 826.4 433.8 825.9C434.4 825.4 435.0 824.9 435.6 824.5C436.3 824.1 436.9 823.8 437.6 823.5C438.3 823.2 439.0 822.9 439.7 822.7C440.4 822.5 441.1 822.3 441.8 822.1C442.5 822.0 443.3 821.9 444.0 821.8C444.7 821.7 445.5 821.7 446.3 821.8C447.0 821.9 447.8 822.0 448.5 822.3C449.2 822.5 449.9 822.9 450.5 823.3C451.1 823.7 451.6 824.3 452.1 824.8C452.6 825.3 453.0 825.9 453.4 826.5C453.8 827.1 454.1 827.7 454.5 828.3C454.8 828.9 455.2 829.4 455.5 830.1C455.9 830.7 456.3 831.3 456.5 832.0C456.8 832.6 457.1 833.4 457.3 834.1Z"/></clipPath>
<g filter="url(#bl1)"><g clip-path="url(#c8)">
<path d="M457.3 834.1C457.4 834.8 457.5 835.6 457.4 836.4C457.3 837.1 457.1 837.9 456.8 838.6C456.6 839.3 456.1 840.0 455.7 840.6C455.3 841.2 454.8 841.8 454.2 842.4C453.7 842.9 453.2 843.5 452.6 844.0C452.1 844.5 451.5 845.1 450.9 845.5C450.2 846.0 449.5 846.4 448.8 846.7C448.0 847.0 447.2 847.3 446.4 847.3C445.6 847.4 444.8 847.3 444.0 847.1C443.2 846.8 442.5 846.4 441.8 846.0C441.1 845.6 440.6 845.1 440.0 844.6C439.5 844.2 439.0 843.7 438.5 843.3C438.0 842.9 437.5 842.5 436.9 842.2C436.4 841.9 435.7 841.6 435.1 841.3C434.5 840.9 433.8 840.6 433.1 840.1C432.5 839.7 431.9 839.1 431.4 838.5C430.9 837.9 430.4 837.2 430.1 836.4C429.9 835.7 429.7 834.9 429.7 834.1C429.7 833.3 429.9 832.5 430.1 831.7C430.3 831.0 430.6 830.2 431.0 829.5C431.3 828.8 431.8 828.2 432.2 827.6C432.7 827.0 433.3 826.4 433.8 825.9C434.4 825.4 435.0 824.9 435.6 824.5C436.3 824.1 436.9 823.8 437.6 823.5C438.3 823.2 439.0 822.9 439.7 822.7C440.4 822.5 441.1 822.3 441.8 822.1C442.5 822.0 443.3 821.9 444.0 821.8C444.7 821.7 445.5 821.7 446.3 821.8C447.0 821.9 447.8 822.0 448.5 822.3C449.2 822.5 449.9 822.9 450.5 823.3C451.1 823.7 451.6 824.3 452.1 824.8C452.6 825.3 453.0 825.9 453.4 826.5C453.8 827.1 454.1 827.7 454.5 828.3C454.8 828.9 455.2 829.4 455.5 830.1C455.9 830.7 456.3 831.3 456.5 832.0C456.8 832.6 457.1 833.4 457.3 834.1Z" fill="url(#g8)"/>
<g filter="url(#bl2)">
<circle cx="439.1" cy="838.7" r="2.0" fill="#caa690" opacity="0.25"/>
<circle cx="441.6" cy="833.7" r="3.0" fill="#542014" opacity="0.35"/>
</g>
</g></g>
<g fill="#dedede" opacity="0.45" filter="url(#bl2)"><ellipse cx="532.4" cy="821.4" rx="19.0" ry="21.0" transform="rotate(25 532.4 821.4)"/></g>
<g fill="#7a7a80" opacity="0.6" filter="url(#bl3)"><ellipse cx="527.4" cy="819.4" rx="14.4" ry="16.2" transform="rotate(25 527.4 819.4)"/></g>
<clipPath id="c9"><path d="M547.3 828.4C547.0 829.4 546.5 830.4 545.8 831.2C545.2 832.1 544.4 832.8 543.5 833.5C542.7 834.1 541.8 834.6 540.9 835.0C540.0 835.4 539.1 835.8 538.2 836.1C537.4 836.5 536.5 836.8 535.7 837.1C534.8 837.4 533.9 837.7 533.0 838.0C532.1 838.3 531.2 838.5 530.3 838.7C529.3 838.8 528.3 838.9 527.4 838.8C526.4 838.7 525.5 838.5 524.6 838.2C523.7 837.9 522.8 837.5 521.9 837.0C521.1 836.5 520.3 835.9 519.6 835.2C518.8 834.5 518.2 833.7 517.6 832.9C517.0 832.1 516.5 831.2 516.1 830.2C515.7 829.2 515.4 828.1 515.3 827.1C515.2 826.0 515.2 824.9 515.3 823.8C515.5 822.7 515.8 821.6 516.1 820.6C516.5 819.6 516.9 818.6 517.4 817.7C517.8 816.8 518.4 815.9 518.9 815.1C519.4 814.3 519.9 813.4 520.5 812.7C521.0 811.9 521.6 811.1 522.3 810.4C522.9 809.7 523.6 809.0 524.3 808.4C525.0 807.8 525.8 807.3 526.6 806.8C527.4 806.3 528.2 805.9 529.1 805.5C530.0 805.1 530.8 804.8 531.8 804.4C532.7 804.1 533.6 803.8 534.6 803.5C535.6 803.3 536.7 803.0 537.7 802.9C538.8 802.9 539.9 802.9 540.9 803.1C541.9 803.4 543.0 803.8 543.8 804.5C544.6 805.1 545.3 806.0 545.9 806.9C546.4 807.9 546.7 809.0 546.9 810.1C547.1 811.2 547.1 812.4 547.2 813.5C547.2 814.5 547.1 815.5 547.1 816.5C547.2 817.5 547.2 818.4 547.3 819.3C547.4 820.2 547.6 821.1 547.7 822.1C547.8 823.1 547.9 824.2 547.9 825.2C547.8 826.2 547.7 827.4 547.3 828.4Z"/></clipPath>
<g filter="url(#bl1)"><g clip-path="url(#c9)">
<path d="M547.3 828.4C547.0 829.4 546.5 830.4 545.8 831.2C545.2 832.1 544.4 832.8 543.5 833.5C542.7 834.1 541.8 834.6 540.9 835.0C540.0 835.4 539.1 835.8 538.2 836.1C537.4 836.5 536.5 836.8 535.7 837.1C534.8 837.4 533.9 837.7 533.0 838.0C532.1 838.3 531.2 838.5 530.3 838.7C529.3 838.8 528.3 838.9 527.4 838.8C526.4 838.7 525.5 838.5 524.6 838.2C523.7 837.9 522.8 837.5 521.9 837.0C521.1 836.5 520.3 835.9 519.6 835.2C518.8 834.5 518.2 833.7 517.6 832.9C517.0 832.1 516.5 831.2 516.1 830.2C515.7 829.2 515.4 828.1 515.3 827.1C515.2 826.0 515.2 824.9 515.3 823.8C515.5 822.7 515.8 821.6 516.1 820.6C516.5 819.6 516.9 818.6 517.4 817.7C517.8 816.8 518.4 815.9 518.9 815.1C519.4 814.3 519.9 813.4 520.5 812.7C521.0 811.9 521.6 811.1 522.3 810.4C522.9 809.7 523.6 809.0 524.3 808.4C525.0 807.8 525.8 807.3 526.6 806.8C527.4 806.3 528.2 805.9 529.1 805.5C530.0 805.1 530.8 804.8 531.8 804.4C532.7 804.1 533.6 803.8 534.6 803.5C535.6 803.3 536.7 803.0 537.7 802.9C538.8 802.9 539.9 802.9 540.9 803.1C541.9 803.4 543.0 803.8 543.8 804.5C544.6 805.1 545.3 806.0 545.9 806.9C546.4 807.9 546.7 809.0 546.9 810.1C547.1 811.2 547.1 812.4 547.2 813.5C547.2 814.5 547.1 815.5 547.1 816.5C547.2 817.5 547.2 818.4 547.3 819.3C547.4 820.2 547.6 821.1 547.7 822.1C547.8 823.1 547.9 824.2 547.9 825.2C547.8 826.2 547.7 827.4 547.3 828.4Z" fill="url(#g9)"/>
<g filter="url(#bl2)">
<circle cx="538.6" cy="815.8" r="3.6" fill="#5e4028" opacity="0.32"/>
<circle cx="532.0" cy="835.0" r="2.2" fill="#5e4028" opacity="0.37"/>
<circle cx="527.0" cy="821.9" r="3.3" fill="#d8c4a8" opacity="0.30"/>
<circle cx="545.0" cy="822.8" r="2.8" fill="#5e4028" opacity="0.43"/>
</g>
</g></g>
<g fill="#dedede" opacity="0.45" filter="url(#bl2)"><ellipse cx="616.9" cy="822.5" rx="27.0" ry="38.0" transform="rotate(40 616.9 822.5)"/></g>
<g fill="#7a7a80" opacity="0.6" filter="url(#bl3)"><ellipse cx="611.9" cy="820.5" rx="21.6" ry="31.5" transform="rotate(40 611.9 820.5)"/></g>
<clipPath id="c10"><path d="M635.0 837.7C633.8 839.3 632.6 841.0 631.3 842.6C630.0 844.2 628.5 845.8 626.9 847.2C625.3 848.5 623.5 849.7 621.8 850.7C620.1 851.6 618.3 852.3 616.5 852.8C614.8 853.3 613.0 853.6 611.3 853.7C609.7 853.9 608.0 853.9 606.5 853.9C604.9 853.9 603.3 853.7 601.8 853.5C600.3 853.2 598.8 852.9 597.4 852.4C596.0 851.8 594.7 851.2 593.6 850.2C592.5 849.3 591.6 848.2 590.9 846.9C590.2 845.6 589.7 844.0 589.4 842.5C589.1 840.9 589.1 839.2 589.1 837.5C589.2 835.8 589.4 834.1 589.7 832.5C589.9 830.8 590.3 829.1 590.7 827.5C591.1 825.8 591.5 824.2 592.1 822.5C592.6 820.9 593.2 819.2 593.9 817.6C594.6 815.9 595.4 814.3 596.2 812.6C597.1 810.9 598.1 809.3 599.1 807.6C600.2 805.9 601.3 804.2 602.6 802.5C603.8 800.8 605.2 799.0 606.7 797.3C608.2 795.7 609.9 794.0 611.7 792.6C613.5 791.3 615.4 790.0 617.3 789.2C619.2 788.4 621.3 787.9 623.1 787.8C624.9 787.8 626.6 788.2 628.1 788.9C629.6 789.5 630.8 790.7 631.9 791.8C633.0 792.8 633.8 794.2 634.6 795.4C635.4 796.5 636.1 797.7 636.9 798.7C637.7 799.7 638.6 800.5 639.5 801.4C640.4 802.2 641.5 803.0 642.4 804.0C643.3 805.0 644.3 806.0 645.0 807.3C645.6 808.6 646.2 810.1 646.3 811.7C646.5 813.4 646.3 815.2 645.9 817.0C645.5 818.8 644.7 820.7 643.9 822.5C643.1 824.2 642.1 826.0 641.2 827.7C640.2 829.4 639.2 831.0 638.1 832.7C637.1 834.3 636.1 836.0 635.0 837.7Z"/></clipPath>
<g filter="url(#bl1)"><g clip-path="url(#c10)">
<path d="M635.0 837.7C633.8 839.3 632.6 841.0 631.3 842.6C630.0 844.2 628.5 845.8 626.9 847.2C625.3 848.5 623.5 849.7 621.8 850.7C620.1 851.6 618.3 852.3 616.5 852.8C614.8 853.3 613.0 853.6 611.3 853.7C609.7 853.9 608.0 853.9 606.5 853.9C604.9 853.9 603.3 853.7 601.8 853.5C600.3 853.2 598.8 852.9 597.4 852.4C596.0 851.8 594.7 851.2 593.6 850.2C592.5 849.3 591.6 848.2 590.9 846.9C590.2 845.6 589.7 844.0 589.4 842.5C589.1 840.9 589.1 839.2 589.1 837.5C589.2 835.8 589.4 834.1 589.7 832.5C589.9 830.8 590.3 829.1 590.7 827.5C591.1 825.8 591.5 824.2 592.1 822.5C592.6 820.9 593.2 819.2 593.9 817.6C594.6 815.9 595.4 814.3 596.2 812.6C597.1 810.9 598.1 809.3 599.1 807.6C600.2 805.9 601.3 804.2 602.6 802.5C603.8 800.8 605.2 799.0 606.7 797.3C608.2 795.7 609.9 794.0 611.7 792.6C613.5 791.3 615.4 790.0 617.3 789.2C619.2 788.4 621.3 787.9 623.1 787.8C624.9 787.8 626.6 788.2 628.1 788.9C629.6 789.5 630.8 790.7 631.9 791.8C633.0 792.8 633.8 794.2 634.6 795.4C635.4 796.5 636.1 797.7 636.9 798.7C637.7 799.7 638.6 800.5 639.5 801.4C640.4 802.2 641.5 803.0 642.4 804.0C643.3 805.0 644.3 806.0 645.0 807.3C645.6 808.6 646.2 810.1 646.3 811.7C646.5 813.4 646.3 815.2 645.9 817.0C645.5 818.8 644.7 820.7 643.9 822.5C643.1 824.2 642.1 826.0 641.2 827.7C640.2 829.4 639.2 831.0 638.1 832.7C637.1 834.3 636.1 836.0 635.0 837.7Z" fill="url(#g10)"/>
<g filter="url(#bl2)">
<circle cx="615.0" cy="809.5" r="3.8" fill="#441e12" opacity="0.22"/>
<circle cx="601.2" cy="836.4" r="4.0" fill="#885444" opacity="0.18"/>
<circle cx="629.2" cy="823.0" r="6.7" fill="#885444" opacity="0.20"/>
<circle cx="632.2" cy="821.7" r="3.0" fill="#441e12" opacity="0.44"/>
<circle cx="623.9" cy="817.2" r="6.0" fill="#c09888" opacity="0.22"/>
<circle cx="609.8" cy="841.6" r="2.9" fill="#885444" opacity="0.32"/>
<circle cx="602.3" cy="846.4" r="6.0" fill="#885444" opacity="0.20"/>
<circle cx="600.2" cy="816.3" r="6.6" fill="#441e12" opacity="0.29"/>
<circle cx="614.1" cy="809.9" r="3.1" fill="#441e12" opacity="0.21"/>
<circle cx="623.1" cy="830.1" r="3.5" fill="#885444" opacity="0.24"/>
<circle cx="609.8" cy="837.8" r="6.3" fill="#c09888" opacity="0.33"/>
<circle cx="628.9" cy="829.8" r="6.8" fill="#441e12" opacity="0.38"/>
<circle cx="599.6" cy="835.5" r="4.8" fill="#441e12" opacity="0.36"/>
<circle cx="608.7" cy="797.2" r="6.9" fill="#441e12" opacity="0.24"/>
</g>
</g></g>
<g fill="#dedede" opacity="0.45" filter="url(#bl2)"><ellipse cx="699.5" cy="822.5" rx="20.0" ry="24.0" transform="rotate(0 699.5 822.5)"/></g>
<g fill="#7a7a80" opacity="0.6" filter="url(#bl3)"><ellipse cx="694.5" cy="820.5" rx="15.3" ry="18.9" transform="rotate(0 694.5 820.5)"/></g>
<clipPath id="c11"><path d="M718.0 822.5C717.9 823.8 717.6 825.1 717.2 826.4C716.8 827.6 716.3 828.7 715.7 829.8C715.1 830.8 714.4 831.8 713.7 832.6C713.0 833.4 712.1 834.2 711.4 834.8C710.6 835.5 709.8 836.0 709.1 836.6C708.3 837.1 707.6 837.6 706.8 838.2C706.1 838.8 705.4 839.4 704.7 840.0C703.9 840.7 703.2 841.4 702.3 842.0C701.4 842.7 700.5 843.3 699.5 843.8C698.5 844.2 697.4 844.5 696.4 844.5C695.3 844.6 694.2 844.4 693.2 843.9C692.2 843.5 691.2 842.8 690.4 842.0C689.5 841.3 688.8 840.2 688.1 839.3C687.4 838.3 686.8 837.3 686.3 836.2C685.7 835.2 685.1 834.2 684.6 833.1C684.1 832.1 683.6 831.0 683.1 829.9C682.7 828.7 682.3 827.5 682.1 826.3C681.8 825.1 681.7 823.8 681.8 822.5C681.9 821.2 682.1 820.0 682.5 818.8C682.8 817.6 683.4 816.5 683.9 815.5C684.4 814.5 685.1 813.5 685.6 812.6C686.2 811.7 686.8 810.8 687.4 809.9C688.0 809.0 688.5 808.1 689.1 807.2C689.8 806.4 690.4 805.4 691.1 804.6C691.9 803.8 692.7 803.0 693.6 802.5C694.5 802.0 695.5 801.6 696.5 801.5C697.5 801.3 698.5 801.4 699.5 801.6C700.5 801.8 701.4 802.2 702.3 802.6C703.3 803.0 704.1 803.5 705.0 803.9C705.8 804.4 706.7 804.8 707.6 805.3C708.4 805.7 709.3 806.2 710.2 806.7C711.1 807.3 712.1 807.8 712.9 808.6C713.8 809.3 714.6 810.2 715.3 811.2C716.0 812.2 716.7 813.4 717.1 814.6C717.6 815.8 717.9 817.1 718.0 818.5C718.2 819.8 718.2 821.2 718.0 822.5Z"/></clipPath>
<g filter="url(#bl1)"><g clip-path="url(#c11)">
<path d="M718.0 822.5C717.9 823.8 717.6 825.1 717.2 826.4C716.8 827.6 716.3 828.7 715.7 829.8C715.1 830.8 714.4 831.8 713.7 832.6C713.0 833.4 712.1 834.2 711.4 834.8C710.6 835.5 709.8 836.0 709.1 836.6C708.3 837.1 707.6 837.6 706.8 838.2C706.1 838.8 705.4 839.4 704.7 840.0C703.9 840.7 703.2 841.4 702.3 842.0C701.4 842.7 700.5 843.3 699.5 843.8C698.5 844.2 697.4 844.5 696.4 844.5C695.3 844.6 694.2 844.4 693.2 843.9C692.2 843.5 691.2 842.8 690.4 842.0C689.5 841.3 688.8 840.2 688.1 839.3C687.4 838.3 686.8 837.3 686.3 836.2C685.7 835.2 685.1 834.2 684.6 833.1C684.1 832.1 683.6 831.0 683.1 829.9C682.7 828.7 682.3 827.5 682.1 826.3C681.8 825.1 681.7 823.8 681.8 822.5C681.9 821.2 682.1 820.0 682.5 818.8C682.8 817.6 683.4 816.5 683.9 815.5C684.4 814.5 685.1 813.5 685.6 812.6C686.2 811.7 686.8 810.8 687.4 809.9C688.0 809.0 688.5 808.1 689.1 807.2C689.8 806.4 690.4 805.4 691.1 804.6C691.9 803.8 692.7 803.0 693.6 802.5C694.5 802.0 695.5 801.6 696.5 801.5C697.5 801.3 698.5 801.4 699.5 801.6C700.5 801.8 701.4 802.2 702.3 802.6C703.3 803.0 704.1 803.5 705.0 803.9C705.8 804.4 706.7 804.8 707.6 805.3C708.4 805.7 709.3 806.2 710.2 806.7C711.1 807.3 712.1 807.8 712.9 808.6C713.8 809.3 714.6 810.2 715.3 811.2C716.0 812.2 716.7 813.4 717.1 814.6C717.6 815.8 717.9 817.1 718.0 818.5C718.2 819.8 718.2 821.2 718.0 822.5Z" fill="url(#g11)"/>
<g filter="url(#bl2)">
<circle cx="703.7" cy="819.3" r="2.8" fill="#c4a890" opacity="0.26"/>
<circle cx="696.6" cy="811.3" r="2.5" fill="#4e281a" opacity="0.33"/>
<circle cx="708.0" cy="824.2" r="3.4" fill="#9a6c58" opacity="0.35"/>
<circle cx="698.1" cy="810.4" r="2.6" fill="#4e281a" opacity="0.24"/>
<circle cx="701.0" cy="816.4" r="3.2" fill="#4e281a" opacity="0.42"/>
</g>
</g></g>
<g fill="#dedede" opacity="0.45" filter="url(#bl2)"><ellipse cx="772.6" cy="830.0" rx="15.0" ry="13.0" transform="rotate(20 772.6 830.0)"/></g>
<g fill="#7a7a80" opacity="0.6" filter="url(#bl3)"><ellipse cx="767.6" cy="828.0" rx="10.8" ry="9.0" transform="rotate(20 767.6 828.0)"/></g>
<clipPath id="c12"><path d="M783.7 834.0C783.2 834.5 782.7 834.8 782.2 835.2C781.8 835.6 781.3 835.9 780.9 836.2C780.5 836.6 780.1 836.9 779.7 837.3C779.3 837.7 779.0 838.1 778.6 838.5C778.1 838.9 777.7 839.3 777.2 839.7C776.6 840.0 776.0 840.4 775.4 840.6C774.7 840.8 774.0 841.0 773.3 841.0C772.6 841.1 771.8 841.0 771.1 840.9C770.3 840.8 769.6 840.6 768.9 840.3C768.1 840.0 767.4 839.7 766.8 839.3C766.2 838.9 765.6 838.4 765.0 838.0C764.5 837.5 764.0 836.9 763.6 836.4C763.2 835.8 762.9 835.2 762.7 834.6C762.4 834.0 762.3 833.4 762.2 832.8C762.0 832.2 762.0 831.6 761.9 831.1C761.9 830.5 761.9 830.0 761.9 829.4C761.9 828.9 761.9 828.3 761.9 827.8C761.9 827.2 761.9 826.7 762.0 826.2C762.2 825.6 762.3 825.1 762.5 824.6C762.8 824.1 763.1 823.6 763.4 823.1C763.8 822.7 764.2 822.2 764.7 821.9C765.1 821.5 765.6 821.1 766.2 820.8C766.7 820.5 767.3 820.2 767.9 819.9C768.5 819.7 769.1 819.4 769.8 819.3C770.5 819.1 771.2 819.0 771.9 819.0C772.6 818.9 773.4 819.0 774.1 819.2C774.8 819.4 775.6 819.7 776.2 820.0C776.9 820.4 777.5 820.9 778.0 821.3C778.5 821.8 779.0 822.3 779.4 822.8C779.9 823.3 780.3 823.8 780.7 824.2C781.2 824.7 781.6 825.1 782.1 825.6C782.5 826.1 783.0 826.6 783.5 827.1C783.9 827.6 784.3 828.2 784.6 828.8C784.9 829.4 785.1 830.1 785.1 830.7C785.1 831.3 785.0 831.9 784.7 832.5C784.5 833.1 784.1 833.6 783.7 834.0Z"/></clipPath>
<g filter="url(#bl1)"><g clip-path="url(#c12)">
<path d="M783.7 834.0C783.2 834.5 782.7 834.8 782.2 835.2C781.8 835.6 781.3 835.9 780.9 836.2C780.5 836.6 780.1 836.9 779.7 837.3C779.3 837.7 779.0 838.1 778.6 838.5C778.1 838.9 777.7 839.3 777.2 839.7C776.6 840.0 776.0 840.4 775.4 840.6C774.7 840.8 774.0 841.0 773.3 841.0C772.6 841.1 771.8 841.0 771.1 840.9C770.3 840.8 769.6 840.6 768.9 840.3C768.1 840.0 767.4 839.7 766.8 839.3C766.2 838.9 765.6 838.4 765.0 838.0C764.5 837.5 764.0 836.9 763.6 836.4C763.2 835.8 762.9 835.2 762.7 834.6C762.4 834.0 762.3 833.4 762.2 832.8C762.0 832.2 762.0 831.6 761.9 831.1C761.9 830.5 761.9 830.0 761.9 829.4C761.9 828.9 761.9 828.3 761.9 827.8C761.9 827.2 761.9 826.7 762.0 826.2C762.2 825.6 762.3 825.1 762.5 824.6C762.8 824.1 763.1 823.6 763.4 823.1C763.8 822.7 764.2 822.2 764.7 821.9C765.1 821.5 765.6 821.1 766.2 820.8C766.7 820.5 767.3 820.2 767.9 819.9C768.5 819.7 769.1 819.4 769.8 819.3C770.5 819.1 771.2 819.0 771.9 819.0C772.6 818.9 773.4 819.0 774.1 819.2C774.8 819.4 775.6 819.7 776.2 820.0C776.9 820.4 777.5 820.9 778.0 821.3C778.5 821.8 779.0 822.3 779.4 822.8C779.9 823.3 780.3 823.8 780.7 824.2C781.2 824.7 781.6 825.1 782.1 825.6C782.5 826.1 783.0 826.6 783.5 827.1C783.9 827.6 784.3 828.2 784.6 828.8C784.9 829.4 785.1 830.1 785.1 830.7C785.1 831.3 785.0 831.9 784.7 832.5C784.5 833.1 784.1 833.6 783.7 834.0Z" fill="url(#g12)"/>
<g filter="url(#bl2)">
<circle cx="770.2" cy="827.4" r="1.3" fill="#a06a40" opacity="0.26"/>
<circle cx="769.9" cy="833.0" r="2.2" fill="#4e2812" opacity="0.22"/>
</g>
</g></g>
<g fill="#dedede" opacity="0.45" filter="url(#bl2)"><ellipse cx="286.9" cy="910.5" rx="31.0" ry="24.0" transform="rotate(0 286.9 910.5)"/></g>
<g fill="#7a7a80" opacity="0.6" filter="url(#bl3)"><ellipse cx="281.9" cy="908.5" rx="25.2" ry="18.9" transform="rotate(0 281.9 908.5)"/></g>
<clipPath id="c13"><path d="M314.3 910.5C314.0 911.7 313.5 912.8 313.0 914.0C312.5 915.1 312.0 916.1 311.6 917.2C311.1 918.3 310.7 919.4 310.2 920.6C309.7 921.7 309.2 923.0 308.5 924.1C307.8 925.3 307.0 926.5 305.9 927.5C304.8 928.5 303.5 929.5 302.1 930.2C300.6 930.9 298.9 931.4 297.2 931.8C295.6 932.1 293.7 932.2 292.0 932.3C290.3 932.3 288.6 932.1 286.9 932.0C285.2 931.8 283.6 931.6 282.0 931.4C280.4 931.1 278.8 930.9 277.2 930.5C275.6 930.1 274.0 929.7 272.6 929.0C271.2 928.4 269.8 927.7 268.7 926.8C267.5 925.9 266.6 924.8 265.8 923.8C265.1 922.7 264.7 921.4 264.3 920.3C263.9 919.2 263.8 918.0 263.5 916.9C263.3 915.8 263.2 914.7 262.9 913.7C262.6 912.6 262.3 911.6 261.9 910.5C261.6 909.4 261.1 908.3 260.8 907.0C260.5 905.8 260.1 904.5 260.1 903.2C260.1 901.9 260.3 900.5 260.8 899.2C261.3 897.9 262.1 896.6 263.1 895.5C264.1 894.4 265.4 893.4 266.8 892.5C268.2 891.7 269.9 891.0 271.5 890.5C273.1 890.0 274.9 889.6 276.6 889.4C278.4 889.1 280.2 889.1 281.9 889.1C283.6 889.2 285.3 889.4 286.9 889.6C288.5 889.9 290.1 890.3 291.5 890.7C293.0 891.1 294.4 891.7 295.8 892.1C297.2 892.6 298.5 893.2 299.8 893.7C301.2 894.2 302.5 894.7 303.9 895.3C305.2 895.9 306.6 896.5 307.9 897.3C309.1 898.1 310.4 898.9 311.5 899.9C312.5 900.8 313.4 902.0 313.9 903.1C314.5 904.3 314.8 905.6 314.8 906.8C314.9 908.0 314.6 909.3 314.3 910.5Z"/></clipPath>
<g filter="url(#bl1)"><g clip-path="url(#c13)">
<path d="M314.3 910.5C314.0 911.7 313.5 912.8 313.0 914.0C312.5 915.1 312.0 916.1 311.6 917.2C311.1 918.3 310.7 919.4 310.2 920.6C309.7 921.7 309.2 923.0 308.5 924.1C307.8 925.3 307.0 926.5 305.9 927.5C304.8 928.5 303.5 929.5 302.1 930.2C300.6 930.9 298.9 931.4 297.2 931.8C295.6 932.1 293.7 932.2 292.0 932.3C290.3 932.3 288.6 932.1 286.9 932.0C285.2 931.8 283.6 931.6 282.0 931.4C280.4 931.1 278.8 930.9 277.2 930.5C275.6 930.1 274.0 929.7 272.6 929.0C271.2 928.4 269.8 927.7 268.7 926.8C267.5 925.9 266.6 924.8 265.8 923.8C265.1 922.7 264.7 921.4 264.3 920.3C263.9 919.2 263.8 918.0 263.5 916.9C263.3 915.8 263.2 914.7 262.9 913.7C262.6 912.6 262.3 911.6 261.9 910.5C261.6 909.4 261.1 908.3 260.8 907.0C260.5 905.8 260.1 904.5 260.1 903.2C260.1 901.9 260.3 900.5 260.8 899.2C261.3 897.9 262.1 896.6 263.1 895.5C264.1 894.4 265.4 893.4 266.8 892.5C268.2 891.7 269.9 891.0 271.5 890.5C273.1 890.0 274.9 889.6 276.6 889.4C278.4 889.1 280.2 889.1 281.9 889.1C283.6 889.2 285.3 889.4 286.9 889.6C288.5 889.9 290.1 890.3 291.5 890.7C293.0 891.1 294.4 891.7 295.8 892.1C297.2 892.6 298.5 893.2 299.8 893.7C301.2 894.2 302.5 894.7 303.9 895.3C305.2 895.9 306.6 896.5 307.9 897.3C309.1 898.1 310.4 898.9 311.5 899.9C312.5 900.8 313.4 902.0 313.9 903.1C314.5 904.3 314.8 905.6 314.8 906.8C314.9 908.0 314.6 909.3 314.3 910.5Z" fill="url(#g13)"/>
<g filter="url(#bl2)">
<circle cx="278.5" cy="921.1" r="6.2" fill="#542014" opacity="0.21"/>
<circle cx="296.3" cy="923.8" r="4.3" fill="#caa690" opacity="0.15"/>
<circle cx="282.0" cy="924.8" r="5.6" fill="#caa690" opacity="0.34"/>
<circle cx="275.6" cy="897.4" r="3.1" fill="#542014" opacity="0.44"/>
<circle cx="296.8" cy="915.5" r="5.4" fill="#caa690" opacity="0.17"/>
<circle cx="299.3" cy="893.7" r="3.0" fill="#542014" opacity="0.36"/>
<circle cx="278.1" cy="898.0" r="3.5" fill="#caa690" opacity="0.29"/>
<circle cx="269.5" cy="896.1" r="4.5" fill="#542014" opacity="0.30"/>
<circle cx="274.5" cy="913.9" r="2.6" fill="#9c5c46" opacity="0.35"/>
</g>
</g></g>
<g fill="#dedede" opacity="0.45" filter="url(#bl2)"><ellipse cx="457.8" cy="906.8" rx="32.5" ry="27.5" transform="rotate(0 457.8 906.8)"/></g>
<g fill="#7a7a80" opacity="0.6" filter="url(#bl3)"><ellipse cx="452.8" cy="904.8" rx="26.6" ry="22.1" transform="rotate(0 452.8 904.8)"/></g>
<clipPath id="c14"><path d="M490.3 906.8C490.2 908.3 489.9 910.0 489.4 911.4C488.9 912.9 488.0 914.3 487.0 915.6C486.0 916.9 484.8 918.1 483.6 919.2C482.4 920.2 481.0 921.2 479.7 922.1C478.4 923.0 477.0 923.7 475.6 924.5C474.3 925.2 472.9 925.9 471.5 926.4C470.0 927.0 468.6 927.5 467.1 928.0C465.6 928.4 464.1 928.7 462.5 929.0C461.0 929.3 459.4 929.5 457.8 929.7C456.2 929.8 454.6 929.9 452.9 930.0C451.2 930.0 449.5 930.0 447.7 929.8C446.0 929.6 444.1 929.4 442.4 928.9C440.7 928.4 439.0 927.8 437.5 926.9C436.0 926.0 434.6 924.9 433.6 923.7C432.6 922.4 431.8 921.0 431.2 919.5C430.7 918.1 430.5 916.6 430.3 915.1C430.0 913.7 430.0 912.3 429.9 910.9C429.8 909.5 429.7 908.2 429.5 906.8C429.3 905.4 429.0 904.0 428.9 902.6C428.8 901.1 428.5 899.5 428.7 898.0C428.9 896.5 429.2 894.8 429.9 893.4C430.6 892.0 431.7 890.6 433.0 889.5C434.3 888.4 436.0 887.5 437.7 886.9C439.4 886.3 441.3 886.0 443.1 885.7C444.9 885.5 446.7 885.5 448.4 885.4C450.1 885.3 451.7 885.4 453.2 885.3C454.8 885.2 456.3 885.1 457.8 885.0C459.3 884.9 460.9 884.7 462.5 884.7C464.1 884.7 465.8 884.7 467.4 884.9C469.0 885.2 470.7 885.5 472.2 886.0C473.8 886.6 475.3 887.3 476.7 888.1C478.1 888.9 479.5 889.8 480.7 890.8C482.0 891.8 483.2 892.9 484.3 894.1C485.3 895.3 486.4 896.5 487.3 897.9C488.1 899.2 489.0 900.7 489.4 902.2C489.9 903.7 490.3 905.3 490.3 906.8Z"/></clipPath>
<g filter="url(#bl1)"><g clip-path="url(#c14)">
<path d="M490.3 906.8C490.2 908.3 489.9 910.0 489.4 911.4C488.9 912.9 488.0 914.3 487.0 915.6C486.0 916.9 484.8 918.1 483.6 919.2C482.4 920.2 481.0 921.2 479.7 922.1C478.4 923.0 477.0 923.7 475.6 924.5C474.3 925.2 472.9 925.9 471.5 926.4C470.0 927.0 468.6 927.5 467.1 928.0C465.6 928.4 464.1 928.7 462.5 929.0C461.0 929.3 459.4 929.5 457.8 929.7C456.2 929.8 454.6 929.9 452.9 930.0C451.2 930.0 449.5 930.0 447.7 929.8C446.0 929.6 444.1 929.4 442.4 928.9C440.7 928.4 439.0 927.8 437.5 926.9C436.0 926.0 434.6 924.9 433.6 923.7C432.6 922.4 431.8 921.0 431.2 919.5C430.7 918.1 430.5 916.6 430.3 915.1C430.0 913.7 430.0 912.3 429.9 910.9C429.8 909.5 429.7 908.2 429.5 906.8C429.3 905.4 429.0 904.0 428.9 902.6C428.8 901.1 428.5 899.5 428.7 898.0C428.9 896.5 429.2 894.8 429.9 893.4C430.6 892.0 431.7 890.6 433.0 889.5C434.3 888.4 436.0 887.5 437.7 886.9C439.4 886.3 441.3 886.0 443.1 885.7C444.9 885.5 446.7 885.5 448.4 885.4C450.1 885.3 451.7 885.4 453.2 885.3C454.8 885.2 456.3 885.1 457.8 885.0C459.3 884.9 460.9 884.7 462.5 884.7C464.1 884.7 465.8 884.7 467.4 884.9C469.0 885.2 470.7 885.5 472.2 886.0C473.8 886.6 475.3 887.3 476.7 888.1C478.1 888.9 479.5 889.8 480.7 890.8C482.0 891.8 483.2 892.9 484.3 894.1C485.3 895.3 486.4 896.5 487.3 897.9C488.1 899.2 489.0 900.7 489.4 902.2C489.9 903.7 490.3 905.3 490.3 906.8Z" fill="url(#g14)"/>
<g filter="url(#bl2)">
<circle cx="459.0" cy="908.6" r="3.1" fill="#c4a890" opacity="0.29"/>
<circle cx="448.7" cy="888.1" r="5.1" fill="#c4a890" opacity="0.17"/>
<circle cx="445.0" cy="903.8" r="4.6" fill="#c4a890" opacity="0.16"/>
<circle cx="450.2" cy="903.7" r="6.0" fill="#4e281a" opacity="0.20"/>
<circle cx="448.0" cy="920.3" r="3.2" fill="#c4a890" opacity="0.34"/>
<circle cx="448.9" cy="919.3" r="4.0" fill="#4e281a" opacity="0.27"/>
<circle cx="476.2" cy="891.5" r="5.7" fill="#4e281a" opacity="0.42"/>
<circle cx="457.1" cy="922.9" r="3.2" fill="#4e281a" opacity="0.43"/>
<circle cx="436.8" cy="888.1" r="5.6" fill="#c4a890" opacity="0.16"/>
<circle cx="437.0" cy="902.6" r="6.9" fill="#9a6c58" opacity="0.30"/>
<circle cx="481.3" cy="923.7" r="4.4" fill="#4e281a" opacity="0.36"/>
<circle cx="459.0" cy="905.5" r="4.3" fill="#c4a890" opacity="0.32"/>
</g>
</g></g>
<g fill="#dedede" opacity="0.45" filter="url(#bl2)"><ellipse cx="613.2" cy="910.0" rx="15.0" ry="15.5" transform="rotate(0 613.2 910.0)"/></g>
<g fill="#7a7a80" opacity="0.6" filter="url(#bl3)"><ellipse cx="608.2" cy="908.0" rx="10.8" ry="11.2" transform="rotate(0 608.2 908.0)"/></g>
<clipPath id="c15"><path d="M625.8 910.0C625.9 910.7 625.9 911.6 625.8 912.3C625.7 913.1 625.4 913.8 625.1 914.5C624.7 915.2 624.2 915.8 623.8 916.3C623.3 916.9 622.7 917.4 622.2 917.9C621.7 918.3 621.2 918.8 620.7 919.3C620.1 919.7 619.7 920.2 619.1 920.7C618.6 921.2 618.1 921.7 617.5 922.2C616.8 922.6 616.2 923.0 615.5 923.3C614.7 923.6 613.9 923.7 613.2 923.7C612.5 923.7 611.7 923.5 611.0 923.2C610.3 922.9 609.6 922.5 609.0 922.0C608.4 921.5 607.9 920.9 607.5 920.4C607.0 919.8 606.6 919.2 606.2 918.7C605.8 918.1 605.5 917.6 605.1 917.1C604.7 916.6 604.4 916.1 604.0 915.5C603.6 915.0 603.3 914.5 603.0 913.9C602.6 913.3 602.3 912.7 602.0 912.0C601.8 911.4 601.5 910.7 601.4 910.0C601.2 909.3 601.0 908.5 601.0 907.8C600.9 907.0 600.9 906.2 601.1 905.4C601.2 904.6 601.4 903.8 601.7 903.1C602.0 902.4 602.4 901.6 603.0 901.0C603.5 900.5 604.1 899.9 604.8 899.5C605.4 899.1 606.2 898.8 606.9 898.6C607.6 898.4 608.4 898.3 609.1 898.2C609.8 898.1 610.5 898.1 611.2 898.1C611.9 898.0 612.5 898.0 613.2 898.0C613.9 898.0 614.5 898.0 615.2 898.1C615.9 898.2 616.6 898.3 617.2 898.6C617.8 898.8 618.5 899.1 619.0 899.5C619.6 899.9 620.1 900.4 620.6 900.9C621.0 901.3 621.4 901.9 621.8 902.5C622.2 903.0 622.6 903.6 622.9 904.1C623.3 904.7 623.7 905.3 624.0 905.9C624.4 906.5 624.8 907.1 625.1 907.8C625.3 908.5 625.6 909.3 625.8 910.0Z"/></clipPath>
<g filter="url(#bl1)"><g clip-path="url(#c15)">
<path d="M625.8 910.0C625.9 910.7 625.9 911.6 625.8 912.3C625.7 913.1 625.4 913.8 625.1 914.5C624.7 915.2 624.2 915.8 623.8 916.3C623.3 916.9 622.7 917.4 622.2 917.9C621.7 918.3 621.2 918.8 620.7 919.3C620.1 919.7 619.7 920.2 619.1 920.7C618.6 921.2 618.1 921.7 617.5 922.2C616.8 922.6 616.2 923.0 615.5 923.3C614.7 923.6 613.9 923.7 613.2 923.7C612.5 923.7 611.7 923.5 611.0 923.2C610.3 922.9 609.6 922.5 609.0 922.0C608.4 921.5 607.9 920.9 607.5 920.4C607.0 919.8 606.6 919.2 606.2 918.7C605.8 918.1 605.5 917.6 605.1 917.1C604.7 916.6 604.4 916.1 604.0 915.5C603.6 915.0 603.3 914.5 603.0 913.9C602.6 913.3 602.3 912.7 602.0 912.0C601.8 911.4 601.5 910.7 601.4 910.0C601.2 909.3 601.0 908.5 601.0 907.8C600.9 907.0 600.9 906.2 601.1 905.4C601.2 904.6 601.4 903.8 601.7 903.1C602.0 902.4 602.4 901.6 603.0 901.0C603.5 900.5 604.1 899.9 604.8 899.5C605.4 899.1 606.2 898.8 606.9 898.6C607.6 898.4 608.4 898.3 609.1 898.2C609.8 898.1 610.5 898.1 611.2 898.1C611.9 898.0 612.5 898.0 613.2 898.0C613.9 898.0 614.5 898.0 615.2 898.1C615.9 898.2 616.6 898.3 617.2 898.6C617.8 898.8 618.5 899.1 619.0 899.5C619.6 899.9 620.1 900.4 620.6 900.9C621.0 901.3 621.4 901.9 621.8 902.5C622.2 903.0 622.6 903.6 622.9 904.1C623.3 904.7 623.7 905.3 624.0 905.9C624.4 906.5 624.8 907.1 625.1 907.8C625.3 908.5 625.6 909.3 625.8 910.0Z" fill="url(#g15)"/>
<g filter="url(#bl2)">
<circle cx="605.2" cy="908.4" r="3.4" fill="#4e2812" opacity="0.30"/>
<circle cx="618.4" cy="906.2" r="3.2" fill="#4e2812" opacity="0.21"/>
</g>
</g></g>
<g fill="#dedede" opacity="0.45" filter="url(#bl2)"><ellipse cx="780.1" cy="909.3" rx="9.5" ry="11.0" transform="rotate(0 780.1 909.3)"/></g>
<g fill="#7a7a80" opacity="0.6" filter="url(#bl3)"><ellipse cx="775.1" cy="907.3" rx="5.9" ry="7.2" transform="rotate(0 775.1 907.3)"/></g>
<clipPath id="c16"><path d="M786.9 909.3C786.9 909.8 786.8 910.3 786.7 910.7C786.6 911.2 786.4 911.6 786.1 912.0C785.9 912.4 785.6 912.7 785.4 913.1C785.1 913.4 784.8 913.6 784.6 913.9C784.3 914.2 784.0 914.4 783.8 914.7C783.5 915.0 783.3 915.2 783.0 915.5C782.7 915.8 782.5 916.0 782.2 916.3C781.9 916.5 781.5 916.8 781.2 917.0C780.9 917.2 780.5 917.3 780.1 917.4C779.7 917.5 779.3 917.6 778.9 917.6C778.5 917.6 778.1 917.5 777.7 917.4C777.3 917.3 776.9 917.1 776.5 916.9C776.2 916.7 775.8 916.4 775.5 916.0C775.2 915.7 775.0 915.2 774.8 914.8C774.6 914.4 774.4 913.9 774.3 913.4C774.2 912.9 774.2 912.4 774.1 912.0C774.1 911.5 774.1 911.1 774.1 910.6C774.1 910.2 774.1 909.7 774.0 909.3C774.0 908.9 774.0 908.4 774.0 908.0C773.9 907.5 773.9 907.0 774.0 906.6C774.0 906.1 774.1 905.6 774.2 905.1C774.4 904.7 774.6 904.3 774.9 903.9C775.2 903.6 775.5 903.3 775.9 903.1C776.2 902.9 776.6 902.8 777.0 902.7C777.4 902.6 777.7 902.5 778.1 902.4C778.4 902.4 778.7 902.3 779.1 902.2C779.4 902.1 779.7 902.0 780.1 901.9C780.5 901.8 780.8 901.6 781.2 901.6C781.6 901.5 782.0 901.5 782.4 901.5C782.8 901.6 783.2 901.7 783.6 901.9C783.9 902.1 784.3 902.4 784.6 902.7C784.9 903.1 785.1 903.5 785.4 903.9C785.6 904.2 785.8 904.7 786.0 905.1C786.2 905.5 786.4 906.0 786.5 906.4C786.6 906.9 786.8 907.4 786.8 907.8C786.9 908.3 787.0 908.8 786.9 909.3Z"/></clipPath>
<g filter="url(#bl1)"><g clip-path="url(#c16)">
<path d="M786.9 909.3C786.9 909.8 786.8 910.3 786.7 910.7C786.6 911.2 786.4 911.6 786.1 912.0C785.9 912.4 785.6 912.7 785.4 913.1C785.1 913.4 784.8 913.6 784.6 913.9C784.3 914.2 784.0 914.4 783.8 914.7C783.5 915.0 783.3 915.2 783.0 915.5C782.7 915.8 782.5 916.0 782.2 916.3C781.9 916.5 781.5 916.8 781.2 917.0C780.9 917.2 780.5 917.3 780.1 917.4C779.7 917.5 779.3 917.6 778.9 917.6C778.5 917.6 778.1 917.5 777.7 917.4C777.3 917.3 776.9 917.1 776.5 916.9C776.2 916.7 775.8 916.4 775.5 916.0C775.2 915.7 775.0 915.2 774.8 914.8C774.6 914.4 774.4 913.9 774.3 913.4C774.2 912.9 774.2 912.4 774.1 912.0C774.1 911.5 774.1 911.1 774.1 910.6C774.1 910.2 774.1 909.7 774.0 909.3C774.0 908.9 774.0 908.4 774.0 908.0C773.9 907.5 773.9 907.0 774.0 906.6C774.0 906.1 774.1 905.6 774.2 905.1C774.4 904.7 774.6 904.3 774.9 903.9C775.2 903.6 775.5 903.3 775.9 903.1C776.2 902.9 776.6 902.8 777.0 902.7C777.4 902.6 777.7 902.5 778.1 902.4C778.4 902.4 778.7 902.3 779.1 902.2C779.4 902.1 779.7 902.0 780.1 901.9C780.5 901.8 780.8 901.6 781.2 901.6C781.6 901.5 782.0 901.5 782.4 901.5C782.8 901.6 783.2 901.7 783.6 901.9C783.9 902.1 784.3 902.4 784.6 902.7C784.9 903.1 785.1 903.5 785.4 903.9C785.6 904.2 785.8 904.7 786.0 905.1C786.2 905.5 786.4 906.0 786.5 906.4C786.6 906.9 786.8 907.4 786.8 907.8C786.9 908.3 787.0 908.8 786.9 909.3Z" fill="url(#g16)"/>
<g filter="url(#bl2)">
<circle cx="778.7" cy="914.4" r="0.8" fill="#c8a07a" opacity="0.20"/>
<circle cx="781.4" cy="908.1" r="1.2" fill="#c8a07a" opacity="0.16"/>
</g>
</g></g>
<g fill="#dedede" opacity="0.45" filter="url(#bl2)"><ellipse cx="866.0" cy="915.0" rx="47.0" ry="30.0" transform="rotate(-45 866.0 915.0)"/><ellipse cx="897.0" cy="892.0" rx="17.0" ry="20.0" transform="rotate(0 897.0 892.0)"/></g>
<g fill="#7a7a80" opacity="0.6" filter="url(#bl3)"><ellipse cx="861.0" cy="913.0" rx="39.6" ry="24.3" transform="rotate(-45 861.0 913.0)"/><ellipse cx="892.0" cy="890.0" rx="12.6" ry="15.3" transform="rotate(0 892.0 890.0)"/></g>
<clipPath id="c17"><path d="M896.2 884.8C897.6 885.5 899.1 886.3 900.4 887.4C901.6 888.4 902.8 889.6 903.6 891.1C904.3 892.7 904.9 894.5 905.0 896.4C905.1 898.3 904.8 900.6 904.3 902.7C903.7 904.9 902.7 907.3 901.7 909.5C900.7 911.7 899.4 913.9 898.2 916.0C897.0 918.1 895.6 920.2 894.3 922.2C893.0 924.3 891.6 926.3 890.1 928.4C888.7 930.4 887.1 932.5 885.4 934.4C883.7 936.3 881.8 938.3 879.8 940.0C877.9 941.7 875.7 943.3 873.6 944.6C871.4 946.0 869.2 947.1 867.0 947.9C864.8 948.8 862.7 949.4 860.6 949.8C858.6 950.2 856.6 950.3 854.7 950.3C852.8 950.3 851.0 950.1 849.4 949.8C847.8 949.4 846.3 948.9 844.9 948.2C843.5 947.6 842.3 946.7 841.2 945.9C840.0 945.0 839.0 944.0 838.0 943.0C836.9 942.1 836.0 941.1 834.9 940.0C833.9 939.0 832.7 938.0 831.7 936.8C830.6 935.6 829.4 934.4 828.5 932.9C827.6 931.4 826.7 929.7 826.3 927.7C825.9 925.8 825.8 923.5 826.2 921.2C826.7 918.9 827.7 916.3 829.0 913.9C830.3 911.5 832.3 909.0 834.3 906.9C836.2 904.8 838.6 902.8 840.8 901.1C843.0 899.3 845.3 897.9 847.5 896.5C849.6 895.0 851.6 893.8 853.5 892.5C855.5 891.2 857.3 889.8 859.2 888.5C861.2 887.2 863.1 885.8 865.1 884.6C867.1 883.5 869.2 882.3 871.2 881.5C873.2 880.7 875.3 880.1 877.3 879.8C879.2 879.6 881.0 879.6 882.8 879.9C884.5 880.1 886.0 880.6 887.5 881.1C889.1 881.6 890.5 882.2 891.9 882.8C893.3 883.4 894.8 884.0 896.2 884.8Z"/><path d="M912.0 892.0C912.0 893.1 911.9 894.1 911.7 895.1C911.5 896.2 911.2 897.2 910.9 898.1C910.5 899.1 910.0 900.0 909.5 900.8C908.9 901.5 908.3 902.2 907.6 902.8C906.9 903.4 906.1 903.8 905.4 904.2C904.7 904.5 903.9 904.7 903.2 905.0C902.4 905.2 901.8 905.4 901.1 905.6C900.4 905.9 899.8 906.2 899.1 906.6C898.4 906.9 897.8 907.4 897.0 907.8C896.2 908.2 895.4 908.7 894.5 908.9C893.7 909.1 892.7 909.3 891.8 909.2C890.9 909.1 890.0 908.8 889.2 908.3C888.5 907.8 887.7 907.1 887.2 906.2C886.6 905.4 886.2 904.4 885.8 903.4C885.4 902.5 885.2 901.4 884.9 900.5C884.6 899.5 884.4 898.6 884.2 897.7C884.0 896.7 883.7 895.8 883.5 894.9C883.3 894.0 883.0 893.0 882.9 892.0C882.7 891.0 882.6 890.0 882.7 888.9C882.8 887.9 882.9 886.9 883.2 885.9C883.5 885.0 884.0 884.0 884.5 883.2C885.0 882.4 885.6 881.7 886.2 881.0C886.8 880.3 887.5 879.8 888.2 879.2C888.9 878.7 889.5 878.2 890.3 877.8C891.0 877.4 891.7 877.0 892.4 876.7C893.1 876.4 893.9 876.1 894.7 876.0C895.4 875.8 896.2 875.8 897.0 875.8C897.8 875.9 898.5 876.0 899.3 876.2C900.1 876.3 900.8 876.6 901.5 876.9C902.3 877.1 903.0 877.5 903.7 877.8C904.5 878.2 905.2 878.6 905.9 879.1C906.6 879.6 907.4 880.1 908.0 880.8C908.7 881.4 909.3 882.2 909.8 883.0C910.4 883.8 910.8 884.8 911.2 885.7C911.5 886.7 911.7 887.8 911.9 888.8C912.0 889.9 912.1 890.9 912.0 892.0Z"/></clipPath>
<g filter="url(#bl1)"><g clip-path="url(#c17)">
<path d="M896.2 884.8C897.6 885.5 899.1 886.3 900.4 887.4C901.6 888.4 902.8 889.6 903.6 891.1C904.3 892.7 904.9 894.5 905.0 896.4C905.1 898.3 904.8 900.6 904.3 902.7C903.7 904.9 902.7 907.3 901.7 909.5C900.7 911.7 899.4 913.9 898.2 916.0C897.0 918.1 895.6 920.2 894.3 922.2C893.0 924.3 891.6 926.3 890.1 928.4C888.7 930.4 887.1 932.5 885.4 934.4C883.7 936.3 881.8 938.3 879.8 940.0C877.9 941.7 875.7 943.3 873.6 944.6C871.4 946.0 869.2 947.1 867.0 947.9C864.8 948.8 862.7 949.4 860.6 949.8C858.6 950.2 856.6 950.3 854.7 950.3C852.8 950.3 851.0 950.1 849.4 949.8C847.8 949.4 846.3 948.9 844.9 948.2C843.5 947.6 842.3 946.7 841.2 945.9C840.0 945.0 839.0 944.0 838.0 943.0C836.9 942.1 836.0 941.1 834.9 940.0C833.9 939.0 832.7 938.0 831.7 936.8C830.6 935.6 829.4 934.4 828.5 932.9C827.6 931.4 826.7 929.7 826.3 927.7C825.9 925.8 825.8 923.5 826.2 921.2C826.7 918.9 827.7 916.3 829.0 913.9C830.3 911.5 832.3 909.0 834.3 906.9C836.2 904.8 838.6 902.8 840.8 901.1C843.0 899.3 845.3 897.9 847.5 896.5C849.6 895.0 851.6 893.8 853.5 892.5C855.5 891.2 857.3 889.8 859.2 888.5C861.2 887.2 863.1 885.8 865.1 884.6C867.1 883.5 869.2 882.3 871.2 881.5C873.2 880.7 875.3 880.1 877.3 879.8C879.2 879.6 881.0 879.6 882.8 879.9C884.5 880.1 886.0 880.6 887.5 881.1C889.1 881.6 890.5 882.2 891.9 882.8C893.3 883.4 894.8 884.0 896.2 884.8Z" fill="url(#g17)"/><path d="M912.0 892.0C912.0 893.1 911.9 894.1 911.7 895.1C911.5 896.2 911.2 897.2 910.9 898.1C910.5 899.1 910.0 900.0 909.5 900.8C908.9 901.5 908.3 902.2 907.6 902.8C906.9 903.4 906.1 903.8 905.4 904.2C904.7 904.5 903.9 904.7 903.2 905.0C902.4 905.2 901.8 905.4 901.1 905.6C900.4 905.9 899.8 906.2 899.1 906.6C898.4 906.9 897.8 907.4 897.0 907.8C896.2 908.2 895.4 908.7 894.5 908.9C893.7 909.1 892.7 909.3 891.8 909.2C890.9 909.1 890.0 908.8 889.2 908.3C888.5 907.8 887.7 907.1 887.2 906.2C886.6 905.4 886.2 904.4 885.8 903.4C885.4 902.5 885.2 901.4 884.9 900.5C884.6 899.5 884.4 898.6 884.2 897.7C884.0 896.7 883.7 895.8 883.5 894.9C883.3 894.0 883.0 893.0 882.9 892.0C882.7 891.0 882.6 890.0 882.7 888.9C882.8 887.9 882.9 886.9 883.2 885.9C883.5 885.0 884.0 884.0 884.5 883.2C885.0 882.4 885.6 881.7 886.2 881.0C886.8 880.3 887.5 879.8 888.2 879.2C888.9 878.7 889.5 878.2 890.3 877.8C891.0 877.4 891.7 877.0 892.4 876.7C893.1 876.4 893.9 876.1 894.7 876.0C895.4 875.8 896.2 875.8 897.0 875.8C897.8 875.9 898.5 876.0 899.3 876.2C900.1 876.3 900.8 876.6 901.5 876.9C902.3 877.1 903.0 877.5 903.7 877.8C904.5 878.2 905.2 878.6 905.9 879.1C906.6 879.6 907.4 880.1 908.0 880.8C908.7 881.4 909.3 882.2 909.8 883.0C910.4 883.8 910.8 884.8 911.2 885.7C911.5 886.7 911.7 887.8 911.9 888.8C912.0 889.9 912.1 890.9 912.0 892.0Z" fill="url(#g17)"/>
<g filter="url(#bl2)">
<circle cx="849.3" cy="924.4" r="4.8" fill="#7a4838" opacity="0.21"/>
<circle cx="881.6" cy="919.1" r="7.2" fill="#3e1a10" opacity="0.21"/>
<circle cx="847.3" cy="913.9" r="7.9" fill="#b08878" opacity="0.31"/>
<circle cx="895.1" cy="928.6" r="3.9" fill="#b08878" opacity="0.19"/>
<circle cx="887.3" cy="925.3" r="7.2" fill="#3e1a10" opacity="0.35"/>
<circle cx="853.9" cy="907.2" r="5.0" fill="#3e1a10" opacity="0.33"/>
<circle cx="858.4" cy="900.3" r="5.2" fill="#3e1a10" opacity="0.32"/>
<circle cx="869.1" cy="900.3" r="5.3" fill="#3e1a10" opacity="0.45"/>
<circle cx="849.4" cy="897.0" r="3.7" fill="#b08878" opacity="0.35"/>
<circle cx="899.2" cy="900.9" r="3.9" fill="#b08878" opacity="0.27"/>
<circle cx="878.3" cy="925.7" r="7.4" fill="#3e1a10" opacity="0.39"/>
<circle cx="851.5" cy="905.5" r="4.5" fill="#7a4838" opacity="0.30"/>
<circle cx="844.8" cy="904.1" r="4.4" fill="#3e1a10" opacity="0.27"/>
<circle cx="894.7" cy="901.5" r="3.6" fill="#7a4838" opacity="0.35"/>
<circle cx="866.5" cy="903.4" r="7.2" fill="#b08878" opacity="0.35"/>
<circle cx="838.0" cy="913.9" r="7.2" fill="#b08878" opacity="0.33"/>
<circle cx="833.6" cy="906.1" r="3.8" fill="#3e1a10" opacity="0.35"/>
<circle cx="889.1" cy="901.8" r="3.6" fill="#3e1a10" opacity="0.31"/>
<circle cx="849.1" cy="927.0" r="7.8" fill="#3e1a10" opacity="0.36"/>
<circle cx="901.7" cy="887.9" r="1.8" fill="#7a4838" opacity="0.18"/>
<circle cx="890.4" cy="885.3" r="3.2" fill="#3e1a10" opacity="0.40"/>
<circle cx="904.1" cy="889.5" r="2.6" fill="#7a4838" opacity="0.17"/>
</g>
</g></g>
<g fill="#dedede" opacity="0.45" filter="url(#bl2)"><ellipse cx="623.3" cy="990.0" rx="8.5" ry="11.0" transform="rotate(-20 623.3 990.0)"/></g>
<g fill="#7a7a80" opacity="0.6" filter="url(#bl3)"><ellipse cx="618.3" cy="988.0" rx="5.0" ry="7.2" transform="rotate(-20 618.3 988.0)"/></g>
<clipPath id="c18"><path d="M628.6 988.1C628.7 988.5 628.7 989.0 628.8 989.5C628.8 989.9 628.8 990.3 628.8 990.8C628.8 991.2 628.8 991.6 628.9 992.0C628.9 992.5 629.0 992.9 629.0 993.4C629.0 993.8 629.0 994.3 629.0 994.8C629.0 995.2 628.9 995.7 628.7 996.1C628.6 996.5 628.4 996.8 628.1 997.1C627.8 997.3 627.5 997.5 627.2 997.6C626.8 997.7 626.4 997.7 626.1 997.7C625.7 997.7 625.4 997.6 625.0 997.5C624.7 997.4 624.4 997.3 624.1 997.2C623.7 997.1 623.4 997.0 623.1 996.9C622.8 996.8 622.5 996.6 622.2 996.4C621.9 996.3 621.5 996.1 621.3 995.8C621.0 995.6 620.7 995.3 620.4 995.0C620.1 994.7 619.9 994.4 619.6 994.1C619.3 993.8 619.1 993.4 618.8 993.0C618.6 992.7 618.4 992.3 618.1 991.9C617.9 991.5 617.7 991.0 617.5 990.6C617.3 990.1 617.2 989.6 617.1 989.1C616.9 988.6 616.9 988.1 616.9 987.7C616.9 987.2 616.9 986.7 617.0 986.3C617.1 985.9 617.3 985.5 617.5 985.1C617.6 984.8 617.9 984.4 618.1 984.2C618.3 983.9 618.6 983.6 618.9 983.4C619.1 983.2 619.4 983.1 619.7 983.0C620.0 982.8 620.3 982.8 620.7 982.8C621.0 982.7 621.3 982.8 621.6 982.8C621.9 982.9 622.3 983.0 622.6 983.0C622.9 983.1 623.2 983.2 623.5 983.3C623.8 983.4 624.1 983.5 624.4 983.6C624.8 983.7 625.1 983.7 625.4 983.9C625.8 984.0 626.2 984.2 626.5 984.4C626.8 984.7 627.2 985.0 627.5 985.4C627.8 985.7 628.0 986.2 628.2 986.6C628.4 987.1 628.5 987.6 628.6 988.1Z"/></clipPath>
<g filter="url(#bl1)"><g clip-path="url(#c18)">
<path d="M628.6 988.1C628.7 988.5 628.7 989.0 628.8 989.5C628.8 989.9 628.8 990.3 628.8 990.8C628.8 991.2 628.8 991.6 628.9 992.0C628.9 992.5 629.0 992.9 629.0 993.4C629.0 993.8 629.0 994.3 629.0 994.8C629.0 995.2 628.9 995.7 628.7 996.1C628.6 996.5 628.4 996.8 628.1 997.1C627.8 997.3 627.5 997.5 627.2 997.6C626.8 997.7 626.4 997.7 626.1 997.7C625.7 997.7 625.4 997.6 625.0 997.5C624.7 997.4 624.4 997.3 624.1 997.2C623.7 997.1 623.4 997.0 623.1 996.9C622.8 996.8 622.5 996.6 622.2 996.4C621.9 996.3 621.5 996.1 621.3 995.8C621.0 995.6 620.7 995.3 620.4 995.0C620.1 994.7 619.9 994.4 619.6 994.1C619.3 993.8 619.1 993.4 618.8 993.0C618.6 992.7 618.4 992.3 618.1 991.9C617.9 991.5 617.7 991.0 617.5 990.6C617.3 990.1 617.2 989.6 617.1 989.1C616.9 988.6 616.9 988.1 616.9 987.7C616.9 987.2 616.9 986.7 617.0 986.3C617.1 985.9 617.3 985.5 617.5 985.1C617.6 984.8 617.9 984.4 618.1 984.2C618.3 983.9 618.6 983.6 618.9 983.4C619.1 983.2 619.4 983.1 619.7 983.0C620.0 982.8 620.3 982.8 620.7 982.8C621.0 982.7 621.3 982.8 621.6 982.8C621.9 982.9 622.3 983.0 622.6 983.0C622.9 983.1 623.2 983.2 623.5 983.3C623.8 983.4 624.1 983.5 624.4 983.6C624.8 983.7 625.1 983.7 625.4 983.9C625.8 984.0 626.2 984.2 626.5 984.4C626.8 984.7 627.2 985.0 627.5 985.4C627.8 985.7 628.0 986.2 628.2 986.6C628.4 987.1 628.5 987.6 628.6 988.1Z" fill="url(#g18)"/>
<g filter="url(#bl2)">
<circle cx="625.9" cy="992.1" r="0.8" fill="#4e2812" opacity="0.36"/>
<circle cx="622.4" cy="987.1" r="1.6" fill="#a06a40" opacity="0.23"/>
</g>
</g></g>
<g fill="#dedede" opacity="0.45" filter="url(#bl2)"><ellipse cx="704.3" cy="989.3" rx="14.0" ry="17.5" transform="rotate(0 704.3 989.3)"/></g>
<g fill="#7a7a80" opacity="0.6" filter="url(#bl3)"><ellipse cx="699.3" cy="987.3" rx="9.9" ry="13.1" transform="rotate(0 699.3 987.3)"/></g>
<clipPath id="c19"><path d="M714.8 989.3C714.9 990.1 715.0 990.9 715.0 991.8C715.0 992.6 715.0 993.5 714.9 994.4C714.8 995.3 714.7 996.2 714.5 997.1C714.3 997.9 714.0 998.8 713.6 999.6C713.3 1000.4 712.8 1001.2 712.2 1001.8C711.7 1002.4 711.0 1002.9 710.4 1003.2C709.7 1003.5 709.0 1003.6 708.3 1003.6C707.6 1003.7 706.8 1003.6 706.2 1003.4C705.5 1003.3 704.9 1003.1 704.3 1002.9C703.7 1002.7 703.1 1002.5 702.6 1002.4C702.0 1002.2 701.4 1002.0 700.8 1001.8C700.3 1001.6 699.7 1001.4 699.1 1001.1C698.6 1000.7 698.0 1000.4 697.6 999.9C697.1 999.4 696.6 998.8 696.3 998.2C695.9 997.6 695.6 996.9 695.3 996.2C695.0 995.5 694.7 994.8 694.4 994.0C694.2 993.3 693.9 992.6 693.7 991.8C693.4 991.0 693.1 990.2 692.9 989.3C692.7 988.4 692.5 987.5 692.5 986.6C692.5 985.6 692.5 984.6 692.7 983.7C692.9 982.8 693.2 981.9 693.7 981.2C694.1 980.5 694.7 979.8 695.3 979.3C695.9 978.8 696.5 978.4 697.2 978.1C697.8 977.8 698.5 977.6 699.1 977.3C699.7 977.1 700.2 976.9 700.8 976.6C701.4 976.4 701.9 976.1 702.5 975.8C703.1 975.6 703.7 975.3 704.3 975.1C704.9 975.0 705.6 974.9 706.2 974.9C706.9 974.9 707.5 975.1 708.1 975.4C708.8 975.7 709.3 976.1 709.9 976.6C710.4 977.1 710.9 977.7 711.3 978.3C711.7 978.9 712.1 979.6 712.4 980.3C712.8 981.0 713.1 981.7 713.4 982.4C713.6 983.1 713.9 983.9 714.1 984.6C714.3 985.4 714.4 986.1 714.5 986.9C714.7 987.7 714.8 988.5 714.8 989.3Z"/></clipPath>
<g filter="url(#bl1)"><g clip-path="url(#c19)">
<path d="M714.8 989.3C714.9 990.1 715.0 990.9 715.0 991.8C715.0 992.6 715.0 993.5 714.9 994.4C714.8 995.3 714.7 996.2 714.5 997.1C714.3 997.9 714.0 998.8 713.6 999.6C713.3 1000.4 712.8 1001.2 712.2 1001.8C711.7 1002.4 711.0 1002.9 710.4 1003.2C709.7 1003.5 709.0 1003.6 708.3 1003.6C707.6 1003.7 706.8 1003.6 706.2 1003.4C705.5 1003.3 704.9 1003.1 704.3 1002.9C703.7 1002.7 703.1 1002.5 702.6 1002.4C702.0 1002.2 701.4 1002.0 700.8 1001.8C700.3 1001.6 699.7 1001.4 699.1 1001.1C698.6 1000.7 698.0 1000.4 697.6 999.9C697.1 999.4 696.6 998.8 696.3 998.2C695.9 997.6 695.6 996.9 695.3 996.2C695.0 995.5 694.7 994.8 694.4 994.0C694.2 993.3 693.9 992.6 693.7 991.8C693.4 991.0 693.1 990.2 692.9 989.3C692.7 988.4 692.5 987.5 692.5 986.6C692.5 985.6 692.5 984.6 692.7 983.7C692.9 982.8 693.2 981.9 693.7 981.2C694.1 980.5 694.7 979.8 695.3 979.3C695.9 978.8 696.5 978.4 697.2 978.1C697.8 977.8 698.5 977.6 699.1 977.3C699.7 977.1 700.2 976.9 700.8 976.6C701.4 976.4 701.9 976.1 702.5 975.8C703.1 975.6 703.7 975.3 704.3 975.1C704.9 975.0 705.6 974.9 706.2 974.9C706.9 974.9 707.5 975.1 708.1 975.4C708.8 975.7 709.3 976.1 709.9 976.6C710.4 977.1 710.9 977.7 711.3 978.3C711.7 978.9 712.1 979.6 712.4 980.3C712.8 981.0 713.1 981.7 713.4 982.4C713.6 983.1 713.9 983.9 714.1 984.6C714.3 985.4 714.4 986.1 714.5 986.9C714.7 987.7 714.8 988.5 714.8 989.3Z" fill="url(#g19)"/>
<g filter="url(#bl2)">
<circle cx="695.8" cy="995.5" r="2.9" fill="#4e2812" opacity="0.30"/>
<circle cx="702.6" cy="999.6" r="2.2" fill="#4e2812" opacity="0.31"/>
</g>
</g></g>
<g fill="#dedede" opacity="0.45" filter="url(#bl2)"><ellipse cx="860.8" cy="996.8" rx="11.5" ry="12.0" transform="rotate(0 860.8 996.8)"/></g>
<g fill="#7a7a80" opacity="0.6" filter="url(#bl3)"><ellipse cx="855.8" cy="994.8" rx="7.7" ry="8.1" transform="rotate(0 855.8 994.8)"/></g>
<clipPath id="c20"><path d="M868.9 996.8C868.9 997.3 868.8 997.8 868.7 998.3C868.6 998.8 868.5 999.2 868.4 999.7C868.3 1000.2 868.1 1000.7 867.9 1001.2C867.8 1001.6 867.6 1002.1 867.3 1002.6C867.0 1003.0 866.7 1003.5 866.4 1003.9C866.0 1004.2 865.6 1004.6 865.2 1004.9C864.8 1005.1 864.3 1005.4 863.8 1005.6C863.3 1005.7 862.8 1005.9 862.3 1006.0C861.8 1006.1 861.3 1006.2 860.8 1006.2C860.3 1006.3 859.7 1006.3 859.2 1006.3C858.7 1006.3 858.1 1006.2 857.6 1006.0C857.1 1005.8 856.6 1005.6 856.2 1005.3C855.8 1004.9 855.4 1004.5 855.1 1004.0C854.8 1003.5 854.6 1002.9 854.5 1002.4C854.3 1001.9 854.3 1001.3 854.2 1000.8C854.2 1000.3 854.2 999.8 854.1 999.4C854.0 998.9 853.9 998.5 853.8 998.1C853.6 997.7 853.4 997.3 853.2 996.8C853.1 996.3 852.8 995.8 852.7 995.3C852.6 994.8 852.5 994.2 852.5 993.6C852.5 993.0 852.6 992.4 852.8 991.9C853.0 991.4 853.3 990.9 853.7 990.5C854.0 990.1 854.5 989.7 854.9 989.4C855.4 989.1 855.9 988.9 856.4 988.7C856.9 988.5 857.3 988.3 857.8 988.2C858.3 988.0 858.8 987.9 859.3 987.8C859.8 987.7 860.3 987.7 860.8 987.7C861.3 987.7 861.8 987.7 862.3 987.8C862.8 987.9 863.3 988.1 863.7 988.3C864.2 988.5 864.6 988.8 865.0 989.1C865.4 989.3 865.8 989.7 866.2 990.0C866.6 990.3 866.9 990.7 867.2 991.1C867.5 991.5 867.8 991.9 868.1 992.4C868.3 992.8 868.5 993.3 868.7 993.8C868.8 994.3 868.9 994.8 868.9 995.3C869.0 995.8 869.0 996.3 868.9 996.8Z"/></clipPath>
<g filter="url(#bl1)"><g clip-path="url(#c20)">
<path d="M868.9 996.8C868.9 997.3 868.8 997.8 868.7 998.3C868.6 998.8 868.5 999.2 868.4 999.7C868.3 1000.2 868.1 1000.7 867.9 1001.2C867.8 1001.6 867.6 1002.1 867.3 1002.6C867.0 1003.0 866.7 1003.5 866.4 1003.9C866.0 1004.2 865.6 1004.6 865.2 1004.9C864.8 1005.1 864.3 1005.4 863.8 1005.6C863.3 1005.7 862.8 1005.9 862.3 1006.0C861.8 1006.1 861.3 1006.2 860.8 1006.2C860.3 1006.3 859.7 1006.3 859.2 1006.3C858.7 1006.3 858.1 1006.2 857.6 1006.0C857.1 1005.8 856.6 1005.6 856.2 1005.3C855.8 1004.9 855.4 1004.5 855.1 1004.0C854.8 1003.5 854.6 1002.9 854.5 1002.4C854.3 1001.9 854.3 1001.3 854.2 1000.8C854.2 1000.3 854.2 999.8 854.1 999.4C854.0 998.9 853.9 998.5 853.8 998.1C853.6 997.7 853.4 997.3 853.2 996.8C853.1 996.3 852.8 995.8 852.7 995.3C852.6 994.8 852.5 994.2 852.5 993.6C852.5 993.0 852.6 992.4 852.8 991.9C853.0 991.4 853.3 990.9 853.7 990.5C854.0 990.1 854.5 989.7 854.9 989.4C855.4 989.1 855.9 988.9 856.4 988.7C856.9 988.5 857.3 988.3 857.8 988.2C858.3 988.0 858.8 987.9 859.3 987.8C859.8 987.7 860.3 987.7 860.8 987.7C861.3 987.7 861.8 987.7 862.3 987.8C862.8 987.9 863.3 988.1 863.7 988.3C864.2 988.5 864.6 988.8 865.0 989.1C865.4 989.3 865.8 989.7 866.2 990.0C866.6 990.3 866.9 990.7 867.2 991.1C867.5 991.5 867.8 991.9 868.1 992.4C868.3 992.8 868.5 993.3 868.7 993.8C868.8 994.3 868.9 994.8 868.9 995.3C869.0 995.8 869.0 996.3 868.9 996.8Z" fill="url(#g20)"/>
<g filter="url(#bl2)">
<circle cx="856.2" cy="989.8" r="1.9" fill="#c8a07a" opacity="0.17"/>
<circle cx="862.5" cy="994.9" r="1.8" fill="#4e2812" opacity="0.29"/>
</g>
</g></g>
<g fill="#dedede" opacity="0.45" filter="url(#bl2)"><ellipse cx="439.6" cy="1065.0" rx="20.0" ry="29.0" transform="rotate(10 439.6 1065.0)"/><ellipse cx="468.7" cy="1054.5" rx="18.0" ry="18.0" transform="rotate(0 468.7 1054.5)"/></g>
<g fill="#7a7a80" opacity="0.6" filter="url(#bl3)"><ellipse cx="434.6" cy="1063.0" rx="15.3" ry="23.4" transform="rotate(10 434.6 1063.0)"/><ellipse cx="463.7" cy="1052.5" rx="13.5" ry="13.5" transform="rotate(0 463.7 1052.5)"/></g>
<clipPath id="c21"><path d="M458.5 1068.3C458.3 1070.0 458.0 1071.8 457.4 1073.4C456.9 1074.9 456.2 1076.5 455.4 1077.9C454.6 1079.2 453.7 1080.4 452.7 1081.5C451.8 1082.5 450.8 1083.4 449.8 1084.2C448.8 1085.0 447.8 1085.6 446.8 1086.2C445.8 1086.7 444.8 1087.1 443.8 1087.4C442.9 1087.7 441.9 1087.9 441.0 1088.1C440.0 1088.3 439.1 1088.4 438.2 1088.5C437.3 1088.5 436.4 1088.6 435.4 1088.6C434.5 1088.6 433.6 1088.6 432.6 1088.5C431.7 1088.3 430.7 1088.2 429.8 1087.8C428.8 1087.4 427.9 1086.9 427.1 1086.1C426.3 1085.4 425.5 1084.4 424.9 1083.3C424.4 1082.2 423.9 1080.8 423.6 1079.5C423.3 1078.1 423.1 1076.6 423.0 1075.2C422.8 1073.7 422.8 1072.3 422.8 1070.8C422.8 1069.4 422.7 1068.0 422.7 1066.5C422.7 1065.0 422.7 1063.6 422.8 1062.0C422.9 1060.5 422.9 1058.9 423.2 1057.3C423.5 1055.8 423.8 1054.1 424.4 1052.6C424.9 1051.2 425.7 1049.7 426.5 1048.5C427.3 1047.3 428.2 1046.3 429.2 1045.4C430.2 1044.5 431.2 1043.8 432.2 1043.2C433.2 1042.6 434.2 1042.1 435.2 1041.7C436.2 1041.2 437.2 1040.7 438.1 1040.4C439.1 1040.0 440.1 1039.6 441.1 1039.4C442.1 1039.2 443.2 1039.1 444.1 1039.3C445.1 1039.4 446.1 1039.8 446.9 1040.4C447.8 1041.0 448.5 1041.9 449.2 1042.8C449.8 1043.8 450.3 1045.0 450.8 1046.0C451.3 1047.1 451.7 1048.3 452.2 1049.3C452.6 1050.4 453.1 1051.4 453.6 1052.4C454.1 1053.4 454.7 1054.3 455.3 1055.4C455.8 1056.5 456.5 1057.7 457.0 1059.0C457.5 1060.3 458.0 1061.8 458.2 1063.3C458.5 1064.9 458.6 1066.7 458.5 1068.3Z"/><path d="M481.9 1054.5C482.0 1055.3 482.0 1056.0 482.0 1056.8C482.0 1057.6 482.0 1058.5 481.9 1059.3C481.8 1060.1 481.7 1061.0 481.5 1061.9C481.3 1062.8 481.1 1063.7 480.7 1064.5C480.3 1065.4 479.8 1066.3 479.2 1067.0C478.6 1067.7 477.8 1068.4 477.0 1068.8C476.2 1069.3 475.2 1069.7 474.3 1069.9C473.4 1070.0 472.4 1070.1 471.4 1070.0C470.5 1070.0 469.6 1069.8 468.7 1069.6C467.8 1069.4 467.0 1069.2 466.1 1069.0C465.3 1068.8 464.5 1068.6 463.7 1068.3C462.8 1068.1 462.0 1067.9 461.2 1067.5C460.4 1067.2 459.5 1066.8 458.8 1066.3C458.1 1065.8 457.4 1065.1 456.9 1064.4C456.4 1063.7 456.0 1062.9 455.6 1062.0C455.3 1061.2 455.2 1060.3 455.1 1059.5C454.9 1058.6 454.9 1057.8 454.9 1056.9C454.8 1056.1 454.8 1055.3 454.7 1054.5C454.7 1053.7 454.6 1052.9 454.6 1052.0C454.6 1051.2 454.6 1050.3 454.8 1049.4C455.0 1048.6 455.2 1047.7 455.6 1046.9C456.0 1046.2 456.5 1045.4 457.1 1044.8C457.7 1044.1 458.4 1043.6 459.1 1043.1C459.9 1042.6 460.7 1042.3 461.4 1041.9C462.2 1041.5 462.9 1041.2 463.7 1040.8C464.5 1040.5 465.3 1040.1 466.1 1039.8C466.9 1039.4 467.8 1039.0 468.7 1038.8C469.6 1038.5 470.6 1038.3 471.6 1038.3C472.5 1038.3 473.5 1038.4 474.5 1038.7C475.4 1039.0 476.3 1039.5 477.0 1040.1C477.8 1040.7 478.4 1041.5 479.0 1042.3C479.5 1043.1 479.9 1044.0 480.2 1044.8C480.6 1045.7 480.8 1046.6 481.0 1047.4C481.2 1048.2 481.3 1049.1 481.4 1049.9C481.6 1050.7 481.7 1051.4 481.7 1052.2C481.8 1053.0 481.9 1053.7 481.9 1054.5Z"/></clipPath>
<g filter="url(#bl1)"><g clip-path="url(#c21)">
<path d="M458.5 1068.3C458.3 1070.0 458.0 1071.8 457.4 1073.4C456.9 1074.9 456.2 1076.5 455.4 1077.9C454.6 1079.2 453.7 1080.4 452.7 1081.5C451.8 1082.5 450.8 1083.4 449.8 1084.2C448.8 1085.0 447.8 1085.6 446.8 1086.2C445.8 1086.7 444.8 1087.1 443.8 1087.4C442.9 1087.7 441.9 1087.9 441.0 1088.1C440.0 1088.3 439.1 1088.4 438.2 1088.5C437.3 1088.5 436.4 1088.6 435.4 1088.6C434.5 1088.6 433.6 1088.6 432.6 1088.5C431.7 1088.3 430.7 1088.2 429.8 1087.8C428.8 1087.4 427.9 1086.9 427.1 1086.1C426.3 1085.4 425.5 1084.4 424.9 1083.3C424.4 1082.2 423.9 1080.8 423.6 1079.5C423.3 1078.1 423.1 1076.6 423.0 1075.2C422.8 1073.7 422.8 1072.3 422.8 1070.8C422.8 1069.4 422.7 1068.0 422.7 1066.5C422.7 1065.0 422.7 1063.6 422.8 1062.0C422.9 1060.5 422.9 1058.9 423.2 1057.3C423.5 1055.8 423.8 1054.1 424.4 1052.6C424.9 1051.2 425.7 1049.7 426.5 1048.5C427.3 1047.3 428.2 1046.3 429.2 1045.4C430.2 1044.5 431.2 1043.8 432.2 1043.2C433.2 1042.6 434.2 1042.1 435.2 1041.7C436.2 1041.2 437.2 1040.7 438.1 1040.4C439.1 1040.0 440.1 1039.6 441.1 1039.4C442.1 1039.2 443.2 1039.1 444.1 1039.3C445.1 1039.4 446.1 1039.8 446.9 1040.4C447.8 1041.0 448.5 1041.9 449.2 1042.8C449.8 1043.8 450.3 1045.0 450.8 1046.0C451.3 1047.1 451.7 1048.3 452.2 1049.3C452.6 1050.4 453.1 1051.4 453.6 1052.4C454.1 1053.4 454.7 1054.3 455.3 1055.4C455.8 1056.5 456.5 1057.7 457.0 1059.0C457.5 1060.3 458.0 1061.8 458.2 1063.3C458.5 1064.9 458.6 1066.7 458.5 1068.3Z" fill="url(#g21)"/><path d="M481.9 1054.5C482.0 1055.3 482.0 1056.0 482.0 1056.8C482.0 1057.6 482.0 1058.5 481.9 1059.3C481.8 1060.1 481.7 1061.0 481.5 1061.9C481.3 1062.8 481.1 1063.7 480.7 1064.5C480.3 1065.4 479.8 1066.3 479.2 1067.0C478.6 1067.7 477.8 1068.4 477.0 1068.8C476.2 1069.3 475.2 1069.7 474.3 1069.9C473.4 1070.0 472.4 1070.1 471.4 1070.0C470.5 1070.0 469.6 1069.8 468.7 1069.6C467.8 1069.4 467.0 1069.2 466.1 1069.0C465.3 1068.8 464.5 1068.6 463.7 1068.3C462.8 1068.1 462.0 1067.9 461.2 1067.5C460.4 1067.2 459.5 1066.8 458.8 1066.3C458.1 1065.8 457.4 1065.1 456.9 1064.4C456.4 1063.7 456.0 1062.9 455.6 1062.0C455.3 1061.2 455.2 1060.3 455.1 1059.5C454.9 1058.6 454.9 1057.8 454.9 1056.9C454.8 1056.1 454.8 1055.3 454.7 1054.5C454.7 1053.7 454.6 1052.9 454.6 1052.0C454.6 1051.2 454.6 1050.3 454.8 1049.4C455.0 1048.6 455.2 1047.7 455.6 1046.9C456.0 1046.2 456.5 1045.4 457.1 1044.8C457.7 1044.1 458.4 1043.6 459.1 1043.1C459.9 1042.6 460.7 1042.3 461.4 1041.9C462.2 1041.5 462.9 1041.2 463.7 1040.8C464.5 1040.5 465.3 1040.1 466.1 1039.8C466.9 1039.4 467.8 1039.0 468.7 1038.8C469.6 1038.5 470.6 1038.3 471.6 1038.3C472.5 1038.3 473.5 1038.4 474.5 1038.7C475.4 1039.0 476.3 1039.5 477.0 1040.1C477.8 1040.7 478.4 1041.5 479.0 1042.3C479.5 1043.1 479.9 1044.0 480.2 1044.8C480.6 1045.7 480.8 1046.6 481.0 1047.4C481.2 1048.2 481.3 1049.1 481.4 1049.9C481.6 1050.7 481.7 1051.4 481.7 1052.2C481.8 1053.0 481.9 1053.7 481.9 1054.5Z" fill="url(#g21)"/>
<g filter="url(#bl2)">
<circle cx="448.8" cy="1046.0" r="4.8" fill="#ad8c6c" opacity="0.16"/>
<circle cx="451.2" cy="1060.3" r="4.8" fill="#5e4028" opacity="0.36"/>
<circle cx="449.3" cy="1070.0" r="3.9" fill="#5e4028" opacity="0.41"/>
<circle cx="431.0" cy="1053.3" r="3.3" fill="#5e4028" opacity="0.30"/>
<circle cx="429.3" cy="1054.5" r="4.3" fill="#5e4028" opacity="0.21"/>
<circle cx="441.3" cy="1075.7" r="2.2" fill="#ad8c6c" opacity="0.17"/>
<circle cx="442.3" cy="1067.1" r="4.0" fill="#ad8c6c" opacity="0.28"/>
<circle cx="464.1" cy="1048.5" r="2.9" fill="#ad8c6c" opacity="0.24"/>
<circle cx="467.2" cy="1043.1" r="3.5" fill="#d8c4a8" opacity="0.24"/>
<circle cx="467.4" cy="1057.3" r="4.0" fill="#5e4028" opacity="0.40"/>
</g>
</g></g>
<g fill="#dedede" opacity="0.45" filter="url(#bl2)"><ellipse cx="613.2" cy="1070.7" rx="15.0" ry="15.5" transform="rotate(0 613.2 1070.7)"/></g>
<g fill="#7a7a80" opacity="0.6" filter="url(#bl3)"><ellipse cx="608.2" cy="1068.7" rx="10.8" ry="11.2" transform="rotate(0 608.2 1068.7)"/></g>
<clipPath id="c22"><path d="M626.4 1070.7C626.3 1071.5 626.1 1072.3 625.8 1073.0C625.5 1073.7 625.0 1074.4 624.6 1075.0C624.2 1075.6 623.7 1076.2 623.2 1076.7C622.8 1077.3 622.3 1077.8 621.9 1078.3C621.4 1078.8 621.0 1079.3 620.5 1079.7C620.0 1080.2 619.5 1080.6 618.9 1081.0C618.3 1081.3 617.7 1081.6 617.1 1081.8C616.5 1082.1 615.8 1082.2 615.2 1082.3C614.5 1082.3 613.9 1082.3 613.2 1082.3C612.5 1082.3 611.9 1082.3 611.2 1082.2C610.6 1082.2 609.9 1082.1 609.2 1082.1C608.5 1082.0 607.8 1081.9 607.1 1081.7C606.4 1081.5 605.6 1081.3 604.9 1081.0C604.3 1080.6 603.6 1080.2 603.0 1079.6C602.4 1079.1 601.9 1078.4 601.6 1077.7C601.2 1077.0 600.9 1076.2 600.8 1075.4C600.6 1074.6 600.6 1073.8 600.6 1073.0C600.6 1072.2 600.8 1071.4 600.9 1070.7C601.1 1070.0 601.3 1069.2 601.6 1068.6C601.8 1067.9 602.2 1067.2 602.5 1066.6C602.8 1066.0 603.2 1065.5 603.6 1064.9C604.0 1064.4 604.4 1063.9 604.9 1063.4C605.3 1062.9 605.7 1062.4 606.2 1062.0C606.6 1061.5 607.0 1061.0 607.5 1060.5C608.0 1060.0 608.6 1059.5 609.1 1059.1C609.7 1058.7 610.4 1058.3 611.1 1058.0C611.7 1057.7 612.5 1057.5 613.2 1057.5C613.9 1057.5 614.7 1057.6 615.4 1057.8C616.1 1058.1 616.7 1058.5 617.3 1058.9C617.9 1059.3 618.5 1059.8 619.0 1060.2C619.5 1060.7 620.0 1061.2 620.5 1061.6C621.0 1062.1 621.5 1062.5 622.1 1063.0C622.6 1063.4 623.2 1063.8 623.7 1064.4C624.2 1064.9 624.8 1065.5 625.2 1066.1C625.7 1066.8 626.1 1067.5 626.3 1068.3C626.4 1069.1 626.5 1069.9 626.4 1070.7Z"/></clipPath>
<g filter="url(#bl1)"><g clip-path="url(#c22)">
<path d="M626.4 1070.7C626.3 1071.5 626.1 1072.3 625.8 1073.0C625.5 1073.7 625.0 1074.4 624.6 1075.0C624.2 1075.6 623.7 1076.2 623.2 1076.7C622.8 1077.3 622.3 1077.8 621.9 1078.3C621.4 1078.8 621.0 1079.3 620.5 1079.7C620.0 1080.2 619.5 1080.6 618.9 1081.0C618.3 1081.3 617.7 1081.6 617.1 1081.8C616.5 1082.1 615.8 1082.2 615.2 1082.3C614.5 1082.3 613.9 1082.3 613.2 1082.3C612.5 1082.3 611.9 1082.3 611.2 1082.2C610.6 1082.2 609.9 1082.1 609.2 1082.1C608.5 1082.0 607.8 1081.9 607.1 1081.7C606.4 1081.5 605.6 1081.3 604.9 1081.0C604.3 1080.6 603.6 1080.2 603.0 1079.6C602.4 1079.1 601.9 1078.4 601.6 1077.7C601.2 1077.0 600.9 1076.2 600.8 1075.4C600.6 1074.6 600.6 1073.8 600.6 1073.0C600.6 1072.2 600.8 1071.4 600.9 1070.7C601.1 1070.0 601.3 1069.2 601.6 1068.6C601.8 1067.9 602.2 1067.2 602.5 1066.6C602.8 1066.0 603.2 1065.5 603.6 1064.9C604.0 1064.4 604.4 1063.9 604.9 1063.4C605.3 1062.9 605.7 1062.4 606.2 1062.0C606.6 1061.5 607.0 1061.0 607.5 1060.5C608.0 1060.0 608.6 1059.5 609.1 1059.1C609.7 1058.7 610.4 1058.3 611.1 1058.0C611.7 1057.7 612.5 1057.5 613.2 1057.5C613.9 1057.5 614.7 1057.6 615.4 1057.8C616.1 1058.1 616.7 1058.5 617.3 1058.9C617.9 1059.3 618.5 1059.8 619.0 1060.2C619.5 1060.7 620.0 1061.2 620.5 1061.6C621.0 1062.1 621.5 1062.5 622.1 1063.0C622.6 1063.4 623.2 1063.8 623.7 1064.4C624.2 1064.9 624.8 1065.5 625.2 1066.1C625.7 1066.8 626.1 1067.5 626.3 1068.3C626.4 1069.1 626.5 1069.9 626.4 1070.7Z" fill="url(#g22)"/>
<g filter="url(#bl2)">
<circle cx="619.0" cy="1070.8" r="2.9" fill="#4e281a" opacity="0.36"/>
<circle cx="605.2" cy="1075.4" r="3.1" fill="#4e281a" opacity="0.21"/>
</g>
</g></g>
<g fill="#dedede" opacity="0.45" filter="url(#bl2)"><ellipse cx="700.6" cy="1071.8" rx="14.0" ry="11.5" transform="rotate(0 700.6 1071.8)"/></g>
<g fill="#7a7a80" opacity="0.6" filter="url(#bl3)"><ellipse cx="695.6" cy="1069.8" rx="9.9" ry="7.7" transform="rotate(0 695.6 1069.8)"/></g>
<clipPath id="c23"><path d="M712.1 1071.8C712.0 1072.3 711.9 1072.8 711.7 1073.3C711.5 1073.8 711.2 1074.3 710.8 1074.7C710.5 1075.1 710.0 1075.5 709.5 1075.8C709.1 1076.1 708.6 1076.4 708.1 1076.7C707.6 1076.9 707.2 1077.2 706.8 1077.5C706.3 1077.7 705.9 1078.0 705.5 1078.3C705.0 1078.6 704.6 1078.9 704.1 1079.2C703.6 1079.5 703.1 1079.9 702.5 1080.1C701.9 1080.3 701.3 1080.5 700.6 1080.7C699.9 1080.8 699.2 1080.9 698.5 1080.8C697.8 1080.8 697.1 1080.7 696.5 1080.6C695.8 1080.4 695.2 1080.2 694.6 1079.9C694.0 1079.6 693.4 1079.2 692.9 1078.9C692.5 1078.5 692.0 1078.0 691.7 1077.6C691.4 1077.1 691.1 1076.6 690.9 1076.1C690.7 1075.6 690.6 1075.1 690.5 1074.6C690.4 1074.1 690.4 1073.7 690.4 1073.2C690.4 1072.7 690.3 1072.3 690.3 1071.8C690.3 1071.3 690.3 1070.9 690.3 1070.4C690.3 1069.9 690.2 1069.4 690.3 1068.9C690.4 1068.4 690.6 1067.9 690.8 1067.4C691.1 1067.0 691.4 1066.5 691.9 1066.2C692.3 1065.8 692.9 1065.5 693.5 1065.2C694.0 1065.0 694.7 1064.8 695.3 1064.7C695.9 1064.6 696.5 1064.5 697.1 1064.4C697.7 1064.3 698.3 1064.3 698.9 1064.2C699.4 1064.1 700.0 1063.9 700.6 1063.8C701.2 1063.7 701.8 1063.6 702.5 1063.5C703.1 1063.4 703.9 1063.4 704.5 1063.5C705.2 1063.5 705.9 1063.7 706.5 1063.9C707.1 1064.1 707.7 1064.4 708.2 1064.8C708.7 1065.1 709.1 1065.6 709.5 1066.0C709.9 1066.4 710.2 1066.9 710.5 1067.4C710.8 1067.8 711.0 1068.3 711.3 1068.8C711.5 1069.3 711.7 1069.8 711.8 1070.3C712.0 1070.8 712.1 1071.3 712.1 1071.8Z"/></clipPath>
<g filter="url(#bl1)"><g clip-path="url(#c23)">
<path d="M712.1 1071.8C712.0 1072.3 711.9 1072.8 711.7 1073.3C711.5 1073.8 711.2 1074.3 710.8 1074.7C710.5 1075.1 710.0 1075.5 709.5 1075.8C709.1 1076.1 708.6 1076.4 708.1 1076.7C707.6 1076.9 707.2 1077.2 706.8 1077.5C706.3 1077.7 705.9 1078.0 705.5 1078.3C705.0 1078.6 704.6 1078.9 704.1 1079.2C703.6 1079.5 703.1 1079.9 702.5 1080.1C701.9 1080.3 701.3 1080.5 700.6 1080.7C699.9 1080.8 699.2 1080.9 698.5 1080.8C697.8 1080.8 697.1 1080.7 696.5 1080.6C695.8 1080.4 695.2 1080.2 694.6 1079.9C694.0 1079.6 693.4 1079.2 692.9 1078.9C692.5 1078.5 692.0 1078.0 691.7 1077.6C691.4 1077.1 691.1 1076.6 690.9 1076.1C690.7 1075.6 690.6 1075.1 690.5 1074.6C690.4 1074.1 690.4 1073.7 690.4 1073.2C690.4 1072.7 690.3 1072.3 690.3 1071.8C690.3 1071.3 690.3 1070.9 690.3 1070.4C690.3 1069.9 690.2 1069.4 690.3 1068.9C690.4 1068.4 690.6 1067.9 690.8 1067.4C691.1 1067.0 691.4 1066.5 691.9 1066.2C692.3 1065.8 692.9 1065.5 693.5 1065.2C694.0 1065.0 694.7 1064.8 695.3 1064.7C695.9 1064.6 696.5 1064.5 697.1 1064.4C697.7 1064.3 698.3 1064.3 698.9 1064.2C699.4 1064.1 700.0 1063.9 700.6 1063.8C701.2 1063.7 701.8 1063.6 702.5 1063.5C703.1 1063.4 703.9 1063.4 704.5 1063.5C705.2 1063.5 705.9 1063.7 706.5 1063.9C707.1 1064.1 707.7 1064.4 708.2 1064.8C708.7 1065.1 709.1 1065.6 709.5 1066.0C709.9 1066.4 710.2 1066.9 710.5 1067.4C710.8 1067.8 711.0 1068.3 711.3 1068.8C711.5 1069.3 711.7 1069.8 711.8 1070.3C712.0 1070.8 712.1 1071.3 712.1 1071.8Z" fill="url(#g23)"/>
<g filter="url(#bl2)">
<circle cx="706.9" cy="1078.5" r="2.1" fill="#4e281a" opacity="0.25"/>
<circle cx="709.1" cy="1071.7" r="2.5" fill="#4e281a" opacity="0.37"/>
</g>
</g></g>
<g fill="#dedede" opacity="0.45" filter="url(#bl2)"><ellipse cx="780.1" cy="1068.8" rx="26.0" ry="21.5" transform="rotate(0 780.1 1068.8)"/></g>
<g fill="#7a7a80" opacity="0.6" filter="url(#bl3)"><ellipse cx="775.1" cy="1066.8" rx="20.7" ry="16.7" transform="rotate(0 775.1 1066.8)"/></g>
<clipPath id="c24"><path d="M801.8 1068.8C801.8 1069.8 801.7 1070.8 801.6 1071.9C801.5 1072.9 801.4 1073.9 801.2 1075.0C800.9 1076.0 800.6 1077.1 800.1 1078.1C799.6 1079.1 798.9 1080.1 798.0 1080.9C797.2 1081.7 796.1 1082.5 795.0 1083.1C793.9 1083.7 792.6 1084.1 791.4 1084.5C790.1 1084.9 788.9 1085.1 787.6 1085.4C786.4 1085.7 785.2 1086.0 783.9 1086.3C782.7 1086.6 781.4 1087.0 780.1 1087.3C778.8 1087.6 777.3 1088.0 775.9 1088.2C774.4 1088.3 772.8 1088.5 771.3 1088.3C769.8 1088.1 768.2 1087.7 767.0 1087.1C765.7 1086.5 764.5 1085.6 763.6 1084.6C762.7 1083.6 762.1 1082.4 761.7 1081.2C761.2 1080.1 761.0 1078.9 760.9 1077.7C760.7 1076.6 760.7 1075.5 760.6 1074.5C760.5 1073.5 760.5 1072.5 760.4 1071.6C760.2 1070.6 760.1 1069.8 759.9 1068.8C759.8 1067.8 759.6 1066.9 759.6 1065.9C759.5 1064.9 759.5 1063.9 759.7 1062.8C759.9 1061.8 760.2 1060.8 760.6 1059.8C761.1 1058.7 761.6 1057.7 762.3 1056.8C763.0 1055.9 763.8 1054.9 764.8 1054.1C765.7 1053.3 766.8 1052.5 767.9 1051.8C769.0 1051.1 770.3 1050.5 771.6 1050.1C773.0 1049.7 774.4 1049.4 775.8 1049.2C777.2 1049.1 778.7 1049.1 780.1 1049.2C781.5 1049.4 782.9 1049.7 784.2 1050.0C785.5 1050.4 786.8 1050.8 788.0 1051.3C789.2 1051.8 790.4 1052.3 791.5 1052.9C792.7 1053.4 793.8 1054.0 794.8 1054.7C795.8 1055.4 796.9 1056.1 797.7 1056.9C798.5 1057.7 799.3 1058.7 799.9 1059.6C800.5 1060.6 800.9 1061.6 801.2 1062.6C801.5 1063.6 801.7 1064.7 801.8 1065.7C801.9 1066.8 801.8 1067.8 801.8 1068.8Z"/></clipPath>
<g filter="url(#bl1)"><g clip-path="url(#c24)">
<path d="M801.8 1068.8C801.8 1069.8 801.7 1070.8 801.6 1071.9C801.5 1072.9 801.4 1073.9 801.2 1075.0C800.9 1076.0 800.6 1077.1 800.1 1078.1C799.6 1079.1 798.9 1080.1 798.0 1080.9C797.2 1081.7 796.1 1082.5 795.0 1083.1C793.9 1083.7 792.6 1084.1 791.4 1084.5C790.1 1084.9 788.9 1085.1 787.6 1085.4C786.4 1085.7 785.2 1086.0 783.9 1086.3C782.7 1086.6 781.4 1087.0 780.1 1087.3C778.8 1087.6 777.3 1088.0 775.9 1088.2C774.4 1088.3 772.8 1088.5 771.3 1088.3C769.8 1088.1 768.2 1087.7 767.0 1087.1C765.7 1086.5 764.5 1085.6 763.6 1084.6C762.7 1083.6 762.1 1082.4 761.7 1081.2C761.2 1080.1 761.0 1078.9 760.9 1077.7C760.7 1076.6 760.7 1075.5 760.6 1074.5C760.5 1073.5 760.5 1072.5 760.4 1071.6C760.2 1070.6 760.1 1069.8 759.9 1068.8C759.8 1067.8 759.6 1066.9 759.6 1065.9C759.5 1064.9 759.5 1063.9 759.7 1062.8C759.9 1061.8 760.2 1060.8 760.6 1059.8C761.1 1058.7 761.6 1057.7 762.3 1056.8C763.0 1055.9 763.8 1054.9 764.8 1054.1C765.7 1053.3 766.8 1052.5 767.9 1051.8C769.0 1051.1 770.3 1050.5 771.6 1050.1C773.0 1049.7 774.4 1049.4 775.8 1049.2C777.2 1049.1 778.7 1049.1 780.1 1049.2C781.5 1049.4 782.9 1049.7 784.2 1050.0C785.5 1050.4 786.8 1050.8 788.0 1051.3C789.2 1051.8 790.4 1052.3 791.5 1052.9C792.7 1053.4 793.8 1054.0 794.8 1054.7C795.8 1055.4 796.9 1056.1 797.7 1056.9C798.5 1057.7 799.3 1058.7 799.9 1059.6C800.5 1060.6 800.9 1061.6 801.2 1062.6C801.5 1063.6 801.7 1064.7 801.8 1065.7C801.9 1066.8 801.8 1067.8 801.8 1068.8Z" fill="url(#g24)"/>
<g filter="url(#bl2)">
<circle cx="771.0" cy="1063.6" r="4.3" fill="#caa690" opacity="0.18"/>
<circle cx="780.2" cy="1081.2" r="2.9" fill="#9c5c46" opacity="0.27"/>
<circle cx="770.4" cy="1065.0" r="2.9" fill="#caa690" opacity="0.18"/>
<circle cx="796.2" cy="1074.1" r="5.2" fill="#542014" opacity="0.40"/>
<circle cx="771.4" cy="1076.7" r="2.4" fill="#9c5c46" opacity="0.34"/>
<circle cx="778.4" cy="1069.4" r="4.5" fill="#542014" opacity="0.26"/>
<circle cx="781.4" cy="1079.4" r="4.7" fill="#9c5c46" opacity="0.20"/>
</g>
</g></g>
<g stroke="#111" stroke-width="0.45" filter="url(#bl1)">
<text x="92.35" y="748.50" font-size="26.6" font-weight="normal" fill="#111" >Vehicle</text>
<text x="92.25" y="813.20" font-size="26.6" font-weight="normal" fill="#111" >CS1003-0.1</text>
<text x="91.25" y="845.00" font-size="26.6" font-weight="normal" fill="#111" >mg/kg</text>
<text x="91.75" y="896.00" font-size="26.6" font-weight="normal" fill="#111" >CS1003-0.5</text>
<text x="91.25" y="928.40" font-size="26.6" font-weight="normal" fill="#111" >mg/kg</text>
<text x="91.75" y="981.40" font-size="26.6" font-weight="normal" fill="#111" >CS1003-2.5</text>
<text x="91.25" y="1013.80" font-size="26.6" font-weight="normal" fill="#111" >mg/kg</text>
<text x="90.75" y="1063.20" font-size="26.6" font-weight="normal" fill="#111" >Nivolumab-</text>
<text x="91.75" y="1095.50" font-size="26.6" font-weight="normal" fill="#111" >2.5 mg/kg</text>
</g>
<g stroke="#000" stroke-width="2.6" fill="none">
<path d="M154.5 12.26V565.30"/>
<path d="M140.7 564.00H154.5"/>
<path d="M140.7 472.26H154.5"/>
<path d="M140.7 380.52H154.5"/>
<path d="M140.7 288.78H154.5"/>
<path d="M140.7 197.04H154.5"/>
<path d="M140.7 105.30H154.5"/>
<path d="M140.7 13.56H154.5"/>
<path d="M153.2 564.0H920.50"/>
<path d="M154.50 564.0V577.60"/>
<path d="M185.09 564.0V571.60"/>
<path d="M215.68 564.0V571.60"/>
<path d="M246.26 564.0V571.60"/>
<path d="M276.85 564.0V571.60"/>
<path d="M307.44 564.0V577.60"/>
<path d="M338.03 564.0V571.60"/>
<path d="M368.62 564.0V571.60"/>
<path d="M399.20 564.0V571.60"/>
<path d="M429.79 564.0V571.60"/>
<path d="M460.38 564.0V577.60"/>
<path d="M490.97 564.0V571.60"/>
<path d="M521.56 564.0V571.60"/>
<path d="M552.14 564.0V571.60"/>
<path d="M582.73 564.0V571.60"/>
<path d="M613.32 564.0V577.60"/>
<path d="M643.91 564.0V571.60"/>
<path d="M674.50 564.0V571.60"/>
<path d="M705.08 564.0V571.60"/>
<path d="M735.67 564.0V571.60"/>
<path d="M766.26 564.0V577.60"/>
<path d="M796.85 564.0V571.60"/>
<path d="M827.44 564.0V571.60"/>
<path d="M858.02 564.0V571.60"/>
<path d="M888.61 564.0V571.60"/>
<path d="M919.20 564.0V577.60"/>
</g>
<text x="117.55" y="575.60" font-size="33.5" fill="#000">0</text>
<text x="80.30" y="483.86" font-size="33.5" fill="#000">500</text>
<text x="61.55" y="392.12" font-size="33.5" fill="#000">1000</text>
<text x="61.55" y="300.38" font-size="33.5" fill="#000">1500</text>
<text x="61.55" y="208.64" font-size="33.5" fill="#000">2000</text>
<text x="61.55" y="116.90" font-size="33.5" fill="#000">2500</text>
<text x="61.55" y="25.16" font-size="33.5" fill="#000">3000</text>
<text x="145.12" y="613.90" font-size="33.8" fill="#000">0</text>
<text x="298.06" y="613.90" font-size="33.8" fill="#000">5</text>
<text x="441.00" y="613.90" font-size="33.8" fill="#000">10</text>
<text x="594.07" y="613.90" font-size="33.8" fill="#000">15</text>
<text x="747.26" y="613.90" font-size="33.8" fill="#000">20</text>
<text x="900.33" y="613.90" font-size="33.8" fill="#000">25</text>
<text x="295.55" y="660.90" font-size="34.3" font-weight="normal" fill="#000" >Days after the start of treatment</text>
<text transform="translate(36.20 443.95) rotate(-90)" font-size="33.8">Tumor volume(mm<tspan font-size="24" dy="-14">3</tspan><tspan dy="14">)</tspan></text>
<path d="M429.79 459.42V438.68M415.29 438.68H444.29" stroke="#000" stroke-width="4.8" fill="none"/>
<path d="M521.56 406.76V369.51M507.06 369.51H536.06" stroke="#000" stroke-width="4.8" fill="none"/>
<path d="M582.73 345.29V291.53M568.23 291.53H597.23" stroke="#000" stroke-width="4.8" fill="none"/>
<path d="M674.50 263.46V189.52M660.00 189.52H689.00" stroke="#000" stroke-width="4.8" fill="none"/>
<path d="M796.85 175.02V69.52M782.35 69.52H811.35" stroke="#000" stroke-width="4.8" fill="none"/>
<polyline points="154.50,550.61 246.26,530.97 338.03,498.50 429.79,459.42 521.56,406.76 582.73,345.29 674.50,263.46 796.85,175.02" stroke="#000" stroke-width="4.8" fill="none" stroke-linejoin="round"/>
<circle cx="154.50" cy="550.61" r="14.5"/>
<circle cx="246.26" cy="530.97" r="14.5"/>
<circle cx="338.03" cy="498.50" r="14.5"/>
<circle cx="429.79" cy="459.42" r="14.5"/>
<circle cx="521.56" cy="406.76" r="14.5"/>
<circle cx="582.73" cy="345.29" r="14.5"/>
<circle cx="674.50" cy="263.46" r="14.5"/>
<circle cx="796.85" cy="175.02" r="14.5"/>
<path d="M521.56 516.66V497.95M507.06 497.95H536.06" stroke="#000" stroke-width="4.8" fill="none"/>
<path d="M582.73 507.30V487.67M568.23 487.67H597.23" stroke="#000" stroke-width="4.8" fill="none"/>
<path d="M674.50 498.50V467.31M660.00 467.31H689.00" stroke="#000" stroke-width="4.8" fill="none"/>
<path d="M796.85 446.76V381.25M782.35 381.25H811.35" stroke="#000" stroke-width="4.8" fill="none"/>
<polyline points="154.50,550.61 246.26,542.53 338.03,535.19 429.79,526.75 521.56,516.66 582.73,507.30 674.50,498.50 796.85,446.76" stroke="#000" stroke-width="4.8" fill="none" stroke-linejoin="round"/>
<path d="M154.50 536.11L169.00 565.11L140.00 565.11Z"/>
<path d="M246.26 528.03L260.76 557.03L231.76 557.03Z"/>
<path d="M338.03 520.69L352.53 549.69L323.53 549.69Z"/>
<path d="M429.79 512.25L444.29 541.25L415.29 541.25Z"/>
<path d="M521.56 502.16L536.06 531.16L507.06 531.16Z"/>
<path d="M582.73 492.80L597.23 521.80L568.23 521.80Z"/>
<path d="M674.50 484.00L689.00 513.00L660.00 513.00Z"/>
<path d="M796.85 432.26L811.35 461.26L782.35 461.26Z"/>
<path d="M429.79 527.30V508.59M415.29 508.59H444.29" stroke="#000" stroke-width="4.8" fill="none"/>
<path d="M521.56 524.92V508.59M507.06 508.59H536.06" stroke="#000" stroke-width="4.8" fill="none"/>
<path d="M582.73 523.27V504.37M568.23 504.37H597.23" stroke="#000" stroke-width="4.8" fill="none"/>
<path d="M674.50 519.05V493.54M660.00 493.54H689.00" stroke="#000" stroke-width="4.8" fill="none"/>
<path d="M796.85 505.29V466.57M782.35 466.57H811.35" stroke="#000" stroke-width="4.8" fill="none"/>
<polyline points="154.50,550.61 246.26,539.78 338.03,532.44 429.79,527.30 521.56,524.92 582.73,523.27 674.50,519.05 796.85,505.29" stroke="#000" stroke-width="4.8" fill="none" stroke-linejoin="round"/>
<path d="M154.50 536.11L169.00 550.61L154.50 565.11L140.00 550.61Z"/>
<path d="M246.26 525.28L260.76 539.78L246.26 554.28L231.76 539.78Z"/>
<path d="M338.03 517.94L352.53 532.44L338.03 546.94L323.53 532.44Z"/>
<path d="M429.79 512.80L444.29 527.30L429.79 541.80L415.29 527.30Z"/>
<path d="M521.56 510.42L536.06 524.92L521.56 539.42L507.06 524.92Z"/>
<path d="M582.73 508.77L597.23 523.27L582.73 537.77L568.23 523.27Z"/>
<path d="M674.50 504.55L689.00 519.05L674.50 533.55L660.00 519.05Z"/>
<path d="M796.85 490.79L811.35 505.29L796.85 519.79L782.35 505.29Z"/>
<polyline points="154.50,550.61 246.26,541.07 338.03,544.92 429.79,546.20 521.56,551.71 582.73,552.07 674.50,555.74 796.85,555.19" stroke="#000" stroke-width="4.8" fill="none" stroke-linejoin="round"/>
<path d="M140.00 536.11L169.00 536.11L154.50 565.11Z"/>
<path d="M231.76 526.57L260.76 526.57L246.26 555.57Z"/>
<path d="M323.53 530.42L352.53 530.42L338.03 559.42Z"/>
<path d="M415.29 531.70L444.29 531.70L429.79 560.70Z"/>
<path d="M507.06 537.21L536.06 537.21L521.56 566.21Z"/>
<path d="M568.23 537.57L597.23 537.57L582.73 566.57Z"/>
<path d="M660.00 541.24L689.00 541.24L674.50 570.24Z"/>
<path d="M782.35 540.69L811.35 540.69L796.85 569.69Z"/>
<path d="M521.56 511.52V486.20M507.06 486.20H536.06" stroke="#000" stroke-width="4.8" fill="none"/>
<path d="M582.73 490.61V455.20M568.23 455.20H597.23" stroke="#000" stroke-width="4.8" fill="none"/>
<path d="M674.50 467.31V419.60M660.00 419.60H689.00" stroke="#000" stroke-width="4.8" fill="none"/>
<path d="M796.85 388.78V295.02M782.35 295.02H811.35" stroke="#000" stroke-width="4.8" fill="none"/>
<polyline points="154.50,550.61 246.26,537.40 338.03,529.51 429.79,525.47 521.56,511.52 582.73,490.61 674.50,467.31 796.85,388.78" stroke="#000" stroke-width="4.8" fill="none" stroke-linejoin="round"/>
<path d="M154.50 536.11L169.00 550.61L154.50 565.11L140.00 550.61Z"/>
<path d="M246.26 522.90L260.76 537.40L246.26 551.90L231.76 537.40Z"/>
<path d="M338.03 515.01L352.53 529.51L338.03 544.01L323.53 529.51Z"/>
<path d="M429.79 510.97L444.29 525.47L429.79 539.97L415.29 525.47Z"/>
<path d="M521.56 497.02L536.06 511.52L521.56 526.02L507.06 511.52Z"/>
<path d="M582.73 476.11L597.23 490.61L582.73 505.11L568.23 490.61Z"/>
<path d="M674.50 452.81L689.00 467.31L674.50 481.81L660.00 467.31Z"/>
<path d="M796.85 374.28L811.35 388.78L796.85 403.28L782.35 388.78Z"/>
<path d="M181.90 28.00H233.10" stroke="#000" stroke-width="4.8"/>
<circle cx="207.50" cy="28.00" r="14.5"/>
<text x="261.35" y="40.10" font-size="34" font-weight="normal" fill="#000" >Isotype control</text>
<path d="M179.20 73.00H230.20" stroke="#000" stroke-width="4.8"/>
<path d="M204.60 58.50L219.10 87.50L190.10 87.50Z"/>
<text x="258.65" y="84.60" font-size="34" font-weight="normal" fill="#000" >CS1003 0.1 mg/kg</text>
<path d="M181.80 123.80H232.90" stroke="#000" stroke-width="4.8"/>
<path d="M207.50 109.30L222.00 123.80L207.50 138.30L193.00 123.80Z"/>
<text x="261.25" y="135.80" font-size="34" font-weight="normal" fill="#000" >CS1003 0.5 mg/kg</text>
<path d="M183.20 172.00H234.30" stroke="#000" stroke-width="4.8"/>
<path d="M194.40 157.50L223.40 157.50L208.90 186.50Z"/>
<text x="262.65" y="183.90" font-size="34" font-weight="normal" fill="#000" >CS1003 2.5 mg/kg</text>
<path d="M183.20 215.20H234.30" stroke="#000" stroke-width="4.8"/>
<path d="M208.60 200.70L223.10 215.20L208.60 229.70L194.10 215.20Z"/>
<text x="262.75" y="226.20" font-size="34" font-weight="normal" fill="#000" >nivolumab 2.5 mg/kg</text>
<text x="-4.60" y="32.90" font-size="55" font-weight="bold" fill="#1c1c1c">a</text>
<text x="-0.75" y="744.20" font-size="55" font-weight="bold" fill="#1c1c1c">b</text>
<text x="3.75" y="1188.30" font-size="55" font-weight="bold" fill="#1c1c1c">c</text>
<g stroke="#000" stroke-width="2.6" fill="none">
<path d="M188.0 1169.21V1722.10"/>
<path d="M174.4 1720.80H188.0"/>
<path d="M174.4 1629.09H188.0"/>
<path d="M174.4 1537.37H188.0"/>
<path d="M174.4 1445.65H188.0"/>
<path d="M174.4 1353.94H188.0"/>
<path d="M174.4 1262.22H188.0"/>
<path d="M174.4 1170.51H188.0"/>
<path d="M186.7 1720.8H929.30"/>
<path d="M188.00 1720.8V1734.00"/>
<path d="M225.00 1720.8V1728.20"/>
<path d="M262.00 1720.8V1728.20"/>
<path d="M299.00 1720.8V1728.20"/>
<path d="M336.00 1720.8V1728.20"/>
<path d="M373.00 1720.8V1734.00"/>
<path d="M410.00 1720.8V1728.20"/>
<path d="M447.00 1720.8V1728.20"/>
<path d="M484.00 1720.8V1728.20"/>
<path d="M521.00 1720.8V1728.20"/>
<path d="M558.00 1720.8V1734.00"/>
<path d="M595.00 1720.8V1728.20"/>
<path d="M632.00 1720.8V1728.20"/>
<path d="M669.00 1720.8V1728.20"/>
<path d="M706.00 1720.8V1728.20"/>
<path d="M743.00 1720.8V1734.00"/>
<path d="M780.00 1720.8V1728.20"/>
<path d="M817.00 1720.8V1728.20"/>
<path d="M854.00 1720.8V1728.20"/>
<path d="M891.00 1720.8V1728.20"/>
<path d="M928.00 1720.8V1734.00"/>
</g>
<text x="150.85" y="1732.40" font-size="33.5" fill="#000">0</text>
<text x="113.60" y="1640.68" font-size="33.5" fill="#000">500</text>
<text x="94.85" y="1548.97" font-size="33.5" fill="#000">1000</text>
<text x="94.85" y="1457.25" font-size="33.5" fill="#000">1500</text>
<text x="94.85" y="1365.54" font-size="33.5" fill="#000">2000</text>
<text x="94.85" y="1273.82" font-size="33.5" fill="#000">2500</text>
<text x="94.85" y="1182.11" font-size="33.5" fill="#000">3000</text>
<text x="178.62" y="1770.60" font-size="33.8" fill="#000">0</text>
<text x="363.62" y="1770.60" font-size="33.8" fill="#000">5</text>
<text x="538.62" y="1770.60" font-size="33.8" fill="#000">10</text>
<text x="723.75" y="1770.60" font-size="33.8" fill="#000">15</text>
<text x="909.00" y="1770.60" font-size="33.8" fill="#000">20</text>
<text x="317.35" y="1817.60" font-size="34.3" font-weight="normal" fill="#000" >Days after the start of treatment</text>
<text transform="translate(69.60 1600.65) rotate(-90)" font-size="33.8">Tumor volume(mm<tspan font-size="24" dy="-14">3</tspan><tspan dy="14">)</tspan></text>
<path d="M706.00 1480.32V1455.19M691.50 1455.19H720.50" stroke="#000" stroke-width="4.8" fill="none"/>
<path d="M780.00 1382.19V1343.48M765.50 1343.48H794.50" stroke="#000" stroke-width="4.8" fill="none"/>
<path d="M854.00 1281.67V1237.46M839.50 1237.46H868.50" stroke="#000" stroke-width="4.8" fill="none"/>
<polyline points="188.00,1709.79 262.00,1702.27 336.00,1692.37 447.00,1665.04 521.00,1631.65 595.00,1587.26 706.00,1480.32 780.00,1382.19 854.00,1281.67" stroke="#000" stroke-width="4.8" fill="none" stroke-linejoin="round"/>
<circle cx="188.00" cy="1709.79" r="14.5"/>
<circle cx="262.00" cy="1702.27" r="14.5"/>
<circle cx="336.00" cy="1692.37" r="14.5"/>
<circle cx="447.00" cy="1665.04" r="14.5"/>
<circle cx="521.00" cy="1631.65" r="14.5"/>
<circle cx="595.00" cy="1587.26" r="14.5"/>
<circle cx="706.00" cy="1480.32" r="14.5"/>
<circle cx="780.00" cy="1382.19" r="14.5"/>
<circle cx="854.00" cy="1281.67" r="14.5"/>
<path d="M854.00 1702.46V1687.42M839.50 1687.42H868.50" stroke="#000" stroke-width="4.8" fill="none"/>
<polyline points="188.00,1710.34 262.00,1706.49 336.00,1706.49 447.00,1711.45 521.00,1713.10 595.00,1715.48 706.00,1710.34 780.00,1706.49 854.00,1702.46" stroke="#000" stroke-width="4.8" fill="none" stroke-linejoin="round"/>
<path d="M188.00 1695.84L202.50 1724.84L173.50 1724.84Z"/>
<path d="M262.00 1691.99L276.50 1720.99L247.50 1720.99Z"/>
<path d="M336.00 1691.99L350.50 1720.99L321.50 1720.99Z"/>
<path d="M447.00 1696.95L461.50 1725.95L432.50 1725.95Z"/>
<path d="M521.00 1698.60L535.50 1727.60L506.50 1727.60Z"/>
<path d="M595.00 1700.98L609.50 1729.98L580.50 1729.98Z"/>
<path d="M706.00 1695.84L720.50 1724.84L691.50 1724.84Z"/>
<path d="M780.00 1691.99L794.50 1720.99L765.50 1720.99Z"/>
<path d="M854.00 1687.96L868.50 1716.96L839.50 1716.96Z"/>
<path d="M242.10 1189.50H292.80" stroke="#000" stroke-width="4.8"/>
<circle cx="267.20" cy="1189.50" r="14.5"/>
<text x="320.55" y="1201.90" font-size="34" font-weight="normal" fill="#000" >Isotype control</text>
<path d="M242.10 1245.00H292.80" stroke="#000" stroke-width="4.8"/>
<path d="M267.20 1230.50L281.70 1259.50L252.70 1259.50Z"/>
<text x="321.05" y="1255.80" font-size="34" font-weight="normal" fill="#000" >CS1003 3 mg/kg</text>
</svg>
</body></html>
